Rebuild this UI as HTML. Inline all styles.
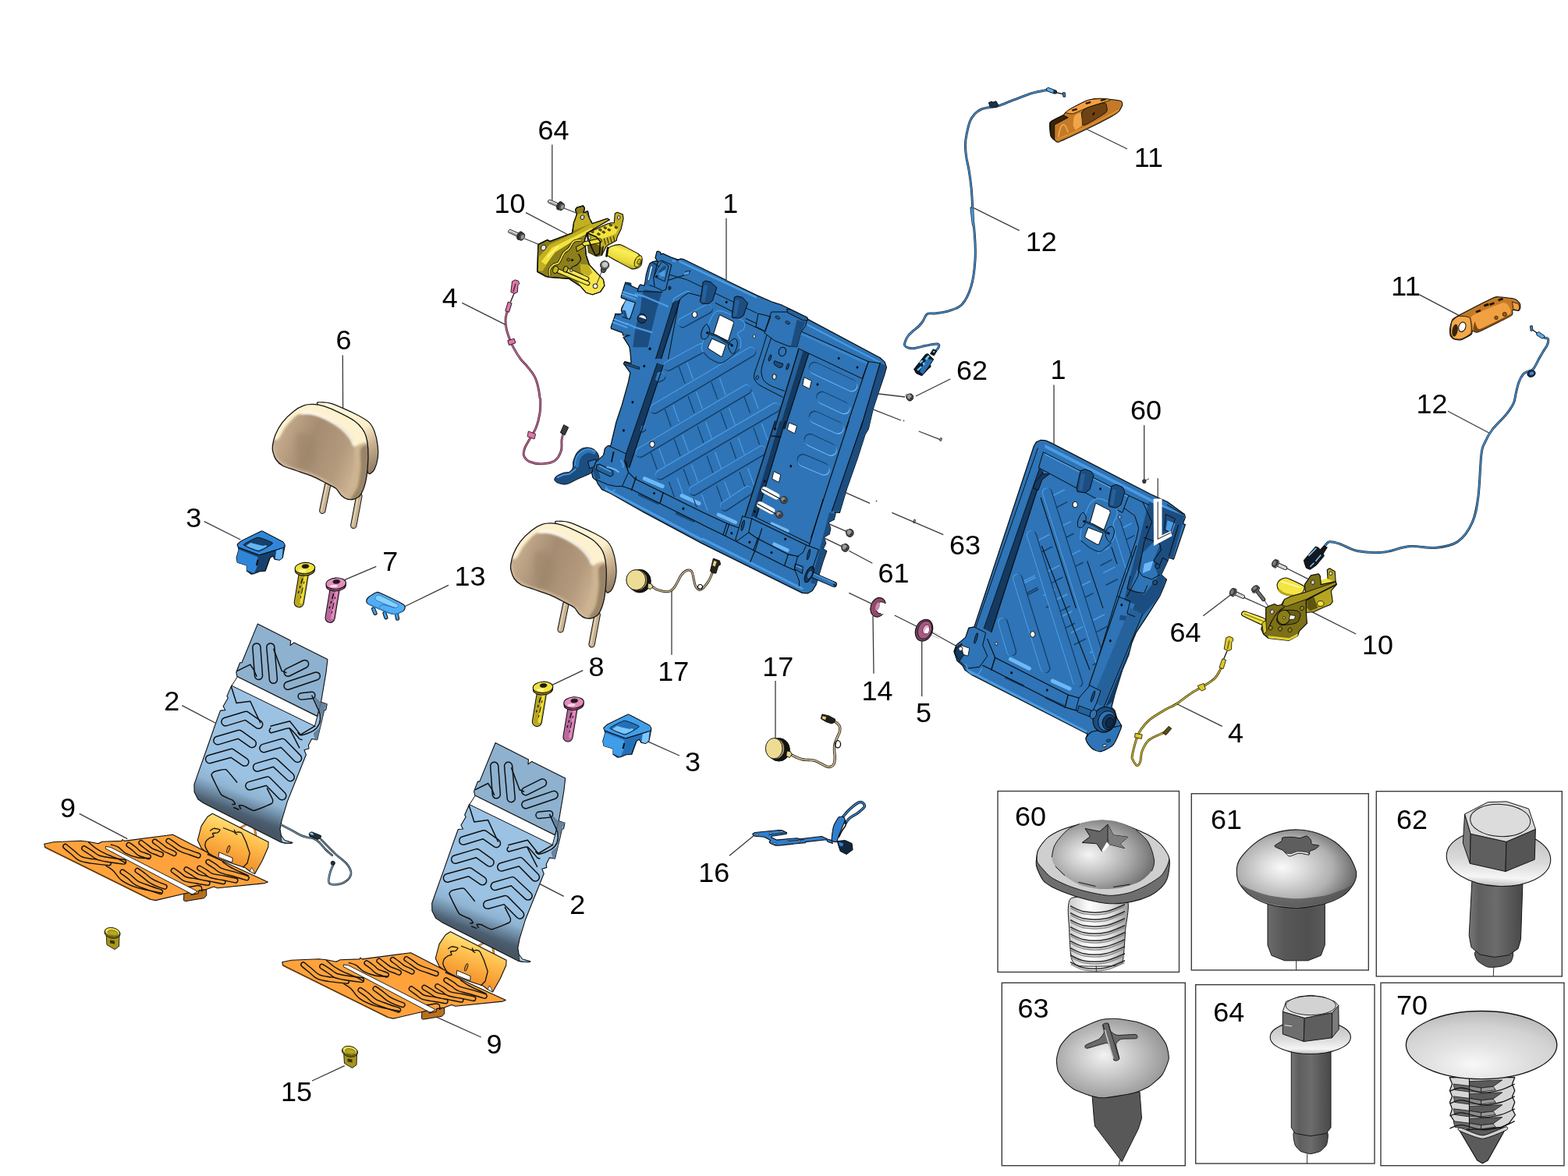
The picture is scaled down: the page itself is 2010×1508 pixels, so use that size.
<!DOCTYPE html>
<html lang="en"><head><meta charset="utf-8"><title>Rear seat frame and fittings</title>
<style>html,body{margin:0;padding:0;background:#fff}body{width:2010px;height:1508px;overflow:hidden}svg{display:block}.lb{font-family:"Liberation Sans",Arial,Helvetica,sans-serif;font-size:34.6px;fill:#000;text-anchor:middle}.ld{stroke:#3a3a3a;stroke-width:1.3;fill:none;stroke-linecap:butt}.bx{fill:#fff;stroke:#3c3c3c;stroke-width:1.4}.k{stroke:#111;stroke-width:1;fill:none;stroke-linejoin:round;stroke-linecap:round}</style></head><body>
<svg width="2010" height="1508" viewBox="0 0 2010 1508">
<rect width="2010" height="1508" fill="#fff"/>
<g id="boxes">
<rect class="bx" x="1279" y="1014.5" width="232.5" height="232"/>
<rect class="bx" x="1527.3" y="1017.7" width="227" height="226.3"/>
<rect class="bx" x="1764.3" y="1014.7" width="238" height="237.3"/>
<rect class="bx" x="1284.3" y="1260.3" width="235" height="234.4"/>
<rect class="bx" x="1532.7" y="1262.7" width="229.3" height="229.3"/>
<rect class="bx" x="1770" y="1260.3" width="235" height="234.4"/>
</g>
<!-- frame1 -->
<path d="M711 613.7 C711.4 612.6 711.9 611.4 713.9 610.2 C715.9 608.9 720.2 607 722.9 606.2 C725.5 605.4 727.9 606.3 729.9 605.2 C731.8 604.1 733.5 602 734.3 599.7 C735.2 597.5 734.1 594.8 734.8 591.8 C735.6 588.8 737.2 584.5 738.8 581.8 C740.5 579.2 742.5 577.2 744.8 575.9 C747.1 574.5 750.1 573.9 752.7 573.9 C755.4 573.9 758.5 574.7 760.7 575.9 C762.9 577 764.5 579 765.7 580.8 C766.8 582.7 768 585 767.7 586.8 C767.3 588.6 765 590.1 763.7 591.8 C762.4 593.4 760.4 594.8 759.7 596.8 C759 598.7 760.4 601.9 759.7 603.7 C759 605.5 758.7 606 755.7 607.7 C752.7 609.3 746.1 611.7 741.8 613.7 C737.5 615.6 733 618.4 729.9 619.6 C726.7 620.9 725.4 621.2 722.9 621.1 C720.4 621 716.8 619.9 714.9 619.1 C713 618.4 712.1 617.6 711.4 616.6 C710.8 615.7 710.5 614.7 711 613.7Z" fill="#1c4d80" stroke="#0b0b0b" stroke-width="1"/>
<path d="M739.8 597.8 C740.1 596.1 740.5 590.6 741.8 587.8 C743.1 585 745.4 582.4 747.8 580.8 C750.1 579.3 753.4 578.4 755.7 578.4 C758 578.4 760.7 580.4 761.7 580.8" fill="none" stroke="#2e74b6" stroke-width="4" stroke-linecap="round"/>
<path d="M736.8 596.8 C737.2 594.9 737.8 588.8 739.3 585.8 C740.8 582.8 743.2 580.5 745.8 578.9 C748.3 577.2 751.9 575.7 754.7 575.7 C757.6 575.7 761.4 578.3 762.7 578.9" fill="none" stroke="#4b9be2" stroke-width="1.6" stroke-linecap="round"/>
<path d="M714.9 612.2 C716.3 611.6 720.4 609.4 722.9 608.7 C725.4 607.9 727.4 608.9 729.9 607.7 C732.3 606.5 736.5 602.7 737.8 601.7" fill="none" stroke="#4b9be2" stroke-width="1.8" stroke-linecap="round"/>
<path d="M753.7 591.8 L763.7 588.8 L765.7 596.8 L755.7 600.7Z" fill="#2e74b6" stroke="#0b0b0b" stroke-width="1"/>
<path d="M842 322.7 L844 322.2 L846.8 323.5 L847 326.3 L849.6 325.1 L860 329.9 L869.5 333.1 L872.7 331.9 L875.9 332.3 L930 358.7 L931.2 359.7 L970 378.6 L988.9 386.7 L995.8 389.1 L1000.8 390.5 L1034.6 407 L1035.6 409.4 L1128.2 458.8 L1134.1 464.1 L1136.5 471.1 L1134.1 479.1 L1134.1 479.6 L1126.1 503.4 L1119.2 524.3 L1113.2 550 L1109.1 556.9 L1099.2 587.8 L1085.2 627.5 L1077.3 654.4 L1076.3 657.4 L1070.3 656.9 L1071.1 658.9 L1069.2 666.1 L1062.2 669.8 L1064.7 677.8 L1063.2 684.8 L1056.2 688.9 L1058.7 696.7 L1055.2 703.7 L1059.7 706.8 L1055.2 719.6 L1049.2 739.5 L1046.3 749.4 L1041.3 757.4 L1035.3 760.9 L1028.4 760.4 L900 696.9 L824.4 656.4 L782.6 632.8 L771.6 627.6 L766.2 620.1 L764.7 616.6 L759.7 611.7 L758.7 606.7 L763.7 592.8 L773.6 583.8 L775.6 574.9 L779.6 571.4 L782.6 572.1 L790 541 L797.2 519.5 L805.5 489.7 L807.9 477.8 L799.5 466.4 L800.8 463.7 L809.1 465.8 L807.9 451.5 L806.7 444.3 L799 432.4 L807.4 430 L798.7 430 L797.9 426.6 L783.5 421.4 L783.1 419.8 L788.3 404.7 L788.7 402.3 L793.9 402.7 L797.9 401.5 L796.3 398.3 L797.1 394.4 L801.8 386.4 L803.4 384.4 L796.3 381.6 L796.3 380 L800.6 365.7 L801.8 362.1 L808.6 363.3 L809 366.5 L817.8 370.5 L819.4 366.5 L821 364.9 L825.7 366.5 L826.9 361.7 L828.5 351.4 L830.5 344.2 L832.9 337.9 L836.1 335.9 L840 334.7 L843.2 335.5 L841.6 333.1 L840 330.7Z" fill="#2e74b6" stroke="#0b0b0b" stroke-width="1.2" stroke-linejoin="round"/>
<clipPath id="f1c"><path d="M842 322.7 L844 322.2 L846.8 323.5 L847 326.3 L849.6 325.1 L860 329.9 L869.5 333.1 L872.7 331.9 L875.9 332.3 L930 358.7 L931.2 359.7 L970 378.6 L988.9 386.7 L995.8 389.1 L1000.8 390.5 L1034.6 407 L1035.6 409.4 L1128.2 458.8 L1134.1 464.1 L1136.5 471.1 L1134.1 479.1 L1134.1 479.6 L1126.1 503.4 L1119.2 524.3 L1113.2 550 L1109.1 556.9 L1099.2 587.8 L1085.2 627.5 L1077.3 654.4 L1076.3 657.4 L1070.3 656.9 L1071.1 658.9 L1069.2 666.1 L1062.2 669.8 L1064.7 677.8 L1063.2 684.8 L1056.2 688.9 L1058.7 696.7 L1055.2 703.7 L1059.7 706.8 L1055.2 719.6 L1049.2 739.5 L1046.3 749.4 L1041.3 757.4 L1035.3 760.9 L1028.4 760.4 L900 696.9 L824.4 656.4 L782.6 632.8 L771.6 627.6 L766.2 620.1 L764.7 616.6 L759.7 611.7 L758.7 606.7 L763.7 592.8 L773.6 583.8 L775.6 574.9 L779.6 571.4 L782.6 572.1 L790 541 L797.2 519.5 L805.5 489.7 L807.9 477.8 L799.5 466.4 L800.8 463.7 L809.1 465.8 L807.9 451.5 L806.7 444.3 L799 432.4 L807.4 430 L798.7 430 L797.9 426.6 L783.5 421.4 L783.1 419.8 L788.3 404.7 L788.7 402.3 L793.9 402.7 L797.9 401.5 L796.3 398.3 L797.1 394.4 L801.8 386.4 L803.4 384.4 L796.3 381.6 L796.3 380 L800.6 365.7 L801.8 362.1 L808.6 363.3 L809 366.5 L817.8 370.5 L819.4 366.5 L821 364.9 L825.7 366.5 L826.9 361.7 L828.5 351.4 L830.5 344.2 L832.9 337.9 L836.1 335.9 L840 334.7 L843.2 335.5 L841.6 333.1 L840 330.7Z"/></clipPath>
<g clip-path="url(#f1c)">
<path d="M825.7 371.3 L848.8 374.5 L846.4 381.6 L841.6 397.5 L837.7 413.4 L833.7 430 L830.5 445.3 L811.4 445.3 L813 430 L816.2 413.4 L821 397.5 L822.5 381.6Z" fill="#1c4d80"/>
<path d="M801.8 384.8 L813.4 388.4 L808.2 405.5 L805 409.5 L800.2 405.9 L797.5 397.5Z" fill="#6db8f7"/>
<path d="M797.5 397.5 L801.8 398.3 L805 409.5 L800.2 405.9Z" fill="#1c4d80"/>
<path d="M833.7 337.1 L843.2 336.3 L840.9 343.4 L832.1 360.9 L830.5 365.7 L826.9 364.9 L828.9 351.4Z" fill="#25629c"/>
<path d="M834.5 341.8 L836.1 341.4 L831.7 359.3 L830.7 358.9Z" fill="#fff"/>
<line x1="797.5" y1="377.2" x2="814.6" y2="383.6" stroke="#4b9be2" stroke-width="2.4" stroke-linecap="round"/>
<line x1="814.6" y1="376.8" x2="825.7" y2="380" stroke="#4b9be2" stroke-width="2.4" stroke-linecap="round"/>
<line x1="825.7" y1="380" x2="856" y2="392.8" stroke="#4b9be2" stroke-width="2.4" stroke-linecap="round"/>
<line x1="784.3" y1="412.6" x2="803.4" y2="419.8" stroke="#4b9be2" stroke-width="2.4" stroke-linecap="round"/>
<line x1="803.4" y1="415" x2="814.6" y2="419.8" stroke="#4b9be2" stroke-width="2.4" stroke-linecap="round"/>
<line x1="814.6" y1="419.8" x2="835.3" y2="426.2" stroke="#4b9be2" stroke-width="2.4" stroke-linecap="round"/>
<line x1="797.1" y1="373.7" x2="817" y2="380" stroke="#6db8f7" stroke-width="1.4" stroke-linecap="round"/>
<line x1="785.9" y1="408.7" x2="804.2" y2="415.8" stroke="#6db8f7" stroke-width="1.4" stroke-linecap="round"/>
<path d="M863.5 386.6 L871.5 384.6 L847.6 460 L840.6 460Z" fill="#143a62"/>
<path d="M842.5 465.8 L850.3 468.2 L806.7 599.5 L797.2 597.1Z" fill="#143a62"/>
<path d="M870.5 333.5 L970 380 L970 383.1 L870.5 336.5Z" fill="#4b9be2"/>
<path d="M1034.6 414.9 L1128.1 463.7 L1128.1 466.1 L1034.6 417.4Z" fill="#4b9be2"/>
<path d="M1026.6 425.9 L1113.2 464.7 L1113.2 468.6 L1026.6 429.3Z" fill="#3a86cc"/>
<path d="M1128.1 465.6 L1136.1 469.6 L1113.2 550 L1103.2 550Z" fill="#1c4d80"/>
<path d="M1106.1 540 L1116.1 540 L1077.3 655.4 L1066.3 655.4Z" fill="#1c4d80"/>
<path d="M1063.2 656.9 L1072.1 658.9 L1047.3 749.4 L1039.3 747.4Z" fill="#1c4d80"/>
<path d="M1024.1 446.8 L1036.6 453.7 L1005.7 550 L992.8 550Z" fill="#25629c"/>
<path d="M993.7 540 L1006.6 540 L969.8 662.4 L954.9 662.4Z" fill="#25629c"/>
<path d="M1029.6 449.7 L1036.6 453.7 L1005.7 550 L998.8 550Z" fill="#143a62"/>
<path d="M999.6 540 L1006.6 540 L969.8 662.4 L962.8 662.4Z" fill="#143a62"/>
<line x1="826.4" y1="613.7" x2="849.2" y2="623.6" stroke="#6db8f7" stroke-width="5" stroke-linecap="round"/>
<line x1="874.1" y1="635.5" x2="896" y2="645.5" stroke="#6db8f7" stroke-width="5" stroke-linecap="round"/>
<line x1="920.9" y1="659.9" x2="942.8" y2="669.8" stroke="#6db8f7" stroke-width="4.5" stroke-linecap="round"/>
<line x1="989.5" y1="671.8" x2="1009.5" y2="680.8" stroke="#6db8f7" stroke-width="4.5" stroke-linecap="round"/>
<line x1="992.5" y1="697.7" x2="1009.5" y2="705.6" stroke="#6db8f7" stroke-width="4.5" stroke-linecap="round"/>
<line x1="819.4" y1="634.5" x2="843.3" y2="645.5" stroke="#143a62" stroke-width="3" stroke-linecap="round" opacity="0.7"/>
<line x1="867.2" y1="658.4" x2="889" y2="668.4" stroke="#143a62" stroke-width="3" stroke-linecap="round" opacity="0.7"/>
<line x1="775.6" y1="626.6" x2="900" y2="692.2" stroke="#4b9be2" stroke-width="3"/>
<line x1="900" y1="690.7" x2="1029.3" y2="755.4" stroke="#4b9be2" stroke-width="3"/>
</g>
<clipPath id="f1p"><path d="M870.5 385.6 L873.5 381.6 L882.4 375.6 L899.4 379.6 L970 414.4 L979.9 425.9 L1022.6 444.8 L991.8 550 L992.7 540 L953.9 663.3 L900 653.5 L813.4 613.7 L805.5 605.7 L802.5 591.8 L806.7 599.5Z"/></clipPath>
<g clip-path="url(#f1p)">
<line x1="880.7" y1="464.6" x2="888.5" y2="486.2" stroke="#4b9be2" stroke-width="1.3"/>
<line x1="870.2" y1="470" x2="878" y2="491.6" stroke="#143a62" stroke-width="1.1"/>
<line x1="862.8" y1="519.5" x2="870.6" y2="541.1" stroke="#4b9be2" stroke-width="1.3"/>
<line x1="852.3" y1="524.9" x2="860.1" y2="546.5" stroke="#143a62" stroke-width="1.1"/>
<line x1="892.7" y1="502.8" x2="900.5" y2="524.4" stroke="#4b9be2" stroke-width="1.3"/>
<line x1="882.2" y1="508.2" x2="890" y2="529.8" stroke="#143a62" stroke-width="1.1"/>
<line x1="922.5" y1="484.9" x2="930.3" y2="506.5" stroke="#4b9be2" stroke-width="1.3"/>
<line x1="912" y1="490.3" x2="919.8" y2="511.9" stroke="#143a62" stroke-width="1.1"/>
<line x1="844.9" y1="575" x2="852.7" y2="596.6" stroke="#4b9be2" stroke-width="1.3"/>
<line x1="834.4" y1="580.4" x2="842.2" y2="602" stroke="#143a62" stroke-width="1.1"/>
<line x1="874.8" y1="557.7" x2="882.6" y2="579.3" stroke="#4b9be2" stroke-width="1.3"/>
<line x1="864.3" y1="563.1" x2="872.1" y2="584.7" stroke="#143a62" stroke-width="1.1"/>
<line x1="904.6" y1="541" x2="912.4" y2="562.6" stroke="#4b9be2" stroke-width="1.3"/>
<line x1="894.1" y1="546.4" x2="901.9" y2="568" stroke="#143a62" stroke-width="1.1"/>
<line x1="934.5" y1="523.1" x2="942.3" y2="544.7" stroke="#4b9be2" stroke-width="1.3"/>
<line x1="924" y1="528.5" x2="931.8" y2="550.1" stroke="#143a62" stroke-width="1.1"/>
<line x1="964.3" y1="502.8" x2="972.1" y2="524.4" stroke="#4b9be2" stroke-width="1.3"/>
<line x1="953.8" y1="508.2" x2="961.6" y2="529.8" stroke="#143a62" stroke-width="1.1"/>
<line x1="886.7" y1="595.9" x2="894.5" y2="617.5" stroke="#4b9be2" stroke-width="1.3"/>
<line x1="876.2" y1="601.3" x2="884" y2="622.9" stroke="#143a62" stroke-width="1.1"/>
<line x1="916.6" y1="579.2" x2="924.4" y2="600.8" stroke="#4b9be2" stroke-width="1.3"/>
<line x1="906.1" y1="584.6" x2="913.9" y2="606.2" stroke="#143a62" stroke-width="1.1"/>
<line x1="946.4" y1="561.3" x2="954.2" y2="582.9" stroke="#4b9be2" stroke-width="1.3"/>
<line x1="935.9" y1="566.7" x2="943.7" y2="588.3" stroke="#143a62" stroke-width="1.1"/>
<line x1="928.9" y1="617.4" x2="936.7" y2="639" stroke="#4b9be2" stroke-width="1.3"/>
<line x1="918.4" y1="622.8" x2="926.2" y2="644.4" stroke="#143a62" stroke-width="1.1"/>
<line x1="899.5" y1="634" x2="907.3" y2="655.6" stroke="#4b9be2" stroke-width="1.3"/>
<line x1="889" y1="639.4" x2="896.8" y2="661" stroke="#143a62" stroke-width="1.1"/>
<line x1="958.5" y1="600" x2="966.3" y2="621.6" stroke="#4b9be2" stroke-width="1.3"/>
<line x1="948" y1="605.4" x2="955.8" y2="627" stroke="#143a62" stroke-width="1.1"/>
<line x1="868" y1="612.5" x2="875.8" y2="634.1" stroke="#4b9be2" stroke-width="1.3"/>
<line x1="857.5" y1="617.9" x2="865.3" y2="639.5" stroke="#143a62" stroke-width="1.1"/>
<line x1="976.4" y1="543" x2="984.2" y2="564.6" stroke="#4b9be2" stroke-width="1.3"/>
<line x1="965.9" y1="548.4" x2="973.7" y2="570" stroke="#143a62" stroke-width="1.1"/>
<line x1="875.3" y1="414.8" x2="908.1" y2="396.9" stroke="#143a62" stroke-width="11.2" stroke-linecap="round"/>
<line x1="874.4" y1="413" x2="907.2" y2="395.1" stroke="#4b9be2" stroke-width="11.2" stroke-linecap="round"/>
<line x1="874.8" y1="413.8" x2="907.6" y2="395.9" stroke="#2e74b6" stroke-width="10.6" stroke-linecap="round"/>
<line x1="856.8" y1="470.4" x2="899.5" y2="447.5" stroke="#143a62" stroke-width="11.2" stroke-linecap="round"/>
<line x1="855.9" y1="468.6" x2="898.6" y2="445.7" stroke="#4b9be2" stroke-width="11.2" stroke-linecap="round"/>
<line x1="856.3" y1="469.4" x2="899" y2="446.5" stroke="#2e74b6" stroke-width="10.6" stroke-linecap="round"/>
<line x1="839.5" y1="525.3" x2="963.6" y2="451.9" stroke="#143a62" stroke-width="11.2" stroke-linecap="round"/>
<line x1="838.6" y1="523.5" x2="962.7" y2="450.1" stroke="#4b9be2" stroke-width="11.2" stroke-linecap="round"/>
<line x1="839" y1="524.3" x2="963.1" y2="450.9" stroke="#2e74b6" stroke-width="10.6" stroke-linecap="round"/>
<line x1="820.9" y1="581.4" x2="957.7" y2="500.2" stroke="#143a62" stroke-width="11.2" stroke-linecap="round"/>
<line x1="820" y1="579.6" x2="956.8" y2="498.4" stroke="#4b9be2" stroke-width="11.2" stroke-linecap="round"/>
<line x1="820.4" y1="580.4" x2="957.2" y2="499.2" stroke="#2e74b6" stroke-width="10.6" stroke-linecap="round"/>
<line x1="846.6" y1="610" x2="994.5" y2="523.5" stroke="#143a62" stroke-width="11.2" stroke-linecap="round"/>
<line x1="845.7" y1="608.2" x2="993.6" y2="521.7" stroke="#4b9be2" stroke-width="11.2" stroke-linecap="round"/>
<line x1="846.1" y1="609" x2="994" y2="522.5" stroke="#2e74b6" stroke-width="10.6" stroke-linecap="round"/>
<line x1="889.6" y1="630.3" x2="977.1" y2="578.6" stroke="#143a62" stroke-width="11.2" stroke-linecap="round"/>
<line x1="888.7" y1="628.5" x2="976.2" y2="576.8" stroke="#4b9be2" stroke-width="11.2" stroke-linecap="round"/>
<line x1="889.1" y1="629.3" x2="976.6" y2="577.6" stroke="#2e74b6" stroke-width="10.6" stroke-linecap="round"/>
<line x1="929.4" y1="650.2" x2="959.2" y2="630.3" stroke="#143a62" stroke-width="11.2" stroke-linecap="round"/>
<line x1="928.5" y1="648.4" x2="958.3" y2="628.5" stroke="#4b9be2" stroke-width="11.2" stroke-linecap="round"/>
<line x1="928.9" y1="649.2" x2="958.7" y2="629.3" stroke="#2e74b6" stroke-width="10.6" stroke-linecap="round"/>
<line x1="844.8" y1="485.3" x2="848.4" y2="483.5" stroke="#143a62" stroke-width="10" stroke-linecap="round"/>
<line x1="843.9" y1="483.5" x2="847.5" y2="481.7" stroke="#4b9be2" stroke-width="10" stroke-linecap="round"/>
<line x1="844.3" y1="484.3" x2="847.9" y2="482.5" stroke="#2e74b6" stroke-width="9.4" stroke-linecap="round"/>
<line x1="823.3" y1="551.6" x2="825.1" y2="550.6" stroke="#143a62" stroke-width="6" stroke-linecap="round"/>
<line x1="822.4" y1="549.8" x2="824.2" y2="548.8" stroke="#4b9be2" stroke-width="6" stroke-linecap="round"/>
<line x1="822.8" y1="550.6" x2="824.6" y2="549.6" stroke="#2e74b6" stroke-width="5.4" stroke-linecap="round"/>
</g>
<line x1="1044" y1="471.2" x2="1091" y2="493.2" stroke="#143a62" stroke-width="14.5" stroke-linecap="round"/>
<line x1="1045" y1="473.3" x2="1092" y2="495.3" stroke="#6db8f7" stroke-width="14.5" stroke-linecap="round"/>
<line x1="1044.5" y1="472.2" x2="1091.5" y2="494.2" stroke="#2e74b6" stroke-width="14.1" stroke-linecap="round"/>
<line x1="1053.5" y1="509" x2="1081.5" y2="522" stroke="#143a62" stroke-width="14.5" stroke-linecap="round"/>
<line x1="1054.5" y1="511.1" x2="1082.5" y2="524.1" stroke="#6db8f7" stroke-width="14.5" stroke-linecap="round"/>
<line x1="1054" y1="510" x2="1082" y2="523" stroke="#2e74b6" stroke-width="14.1" stroke-linecap="round"/>
<line x1="1044" y1="534" x2="1073.5" y2="547.5" stroke="#143a62" stroke-width="14.5" stroke-linecap="round"/>
<line x1="1045" y1="536.1" x2="1074.5" y2="549.6" stroke="#6db8f7" stroke-width="14.5" stroke-linecap="round"/>
<line x1="1044.5" y1="535" x2="1074" y2="548.5" stroke="#2e74b6" stroke-width="14.1" stroke-linecap="round"/>
<line x1="1038" y1="563.2" x2="1064.5" y2="575.5" stroke="#143a62" stroke-width="14.5" stroke-linecap="round"/>
<line x1="1039" y1="565.3" x2="1065.5" y2="577.6" stroke="#6db8f7" stroke-width="14.5" stroke-linecap="round"/>
<line x1="1038.5" y1="564.2" x2="1065" y2="576.5" stroke="#2e74b6" stroke-width="14.1" stroke-linecap="round"/>
<line x1="1029" y1="589.2" x2="1055.5" y2="600.5" stroke="#143a62" stroke-width="14.5" stroke-linecap="round"/>
<line x1="1030" y1="591.3" x2="1056.5" y2="602.6" stroke="#6db8f7" stroke-width="14.5" stroke-linecap="round"/>
<line x1="1029.5" y1="590.2" x2="1056" y2="601.5" stroke="#2e74b6" stroke-width="14.1" stroke-linecap="round"/>
<path d="M871.5 384.6 L847.6 460" fill="none" stroke="#0b0b0b" stroke-width="1.1" stroke-linecap="round" stroke-linejoin="round"/>
<path d="M850.3 468.2 L806.7 599.5" fill="none" stroke="#0b0b0b" stroke-width="1.1" stroke-linecap="round" stroke-linejoin="round"/>
<path d="M863.5 386.6 L840.6 460" fill="none" stroke="#0b0b0b" stroke-width="0.9" stroke-linecap="round" stroke-linejoin="round"/>
<path d="M842.5 465.8 L797.2 597.1" fill="none" stroke="#0b0b0b" stroke-width="0.9" stroke-linecap="round" stroke-linejoin="round"/>
<path d="M856.6 460 L870.5 385.6 L873.5 381.6 L882.4 375.6 L897.4 379.6" fill="none" stroke="#0b0b0b" stroke-width="1.0" stroke-linecap="round" stroke-linejoin="round"/>
<path d="M862.5 387.6 C862.9 386.8 862.9 384.3 864.5 382.6 C866.2 381 869.8 379.1 872.5 377.6 C875.1 376.1 878.5 374.2 880.5 373.7 C882.4 373.2 883.8 374.5 884.4 374.7" fill="none" stroke="#4b9be2" stroke-width="1.6"/>
<path d="M917.3 388.6 L939.1 399.5" fill="none" stroke="#0b0b0b" stroke-width="1" stroke-linecap="round" stroke-linejoin="round"/>
<path d="M956.1 408.5 L970 414.9" fill="none" stroke="#0b0b0b" stroke-width="1" stroke-linecap="round" stroke-linejoin="round"/>
<path d="M950 410.9 L979.9 424.9" fill="none" stroke="#0b0b0b" stroke-width="1" stroke-linecap="round" stroke-linejoin="round"/>
<path d="M1025.6 447.8 L1105.2 485.5 L1113.2 463.7" fill="none" stroke="#0b0b0b" stroke-width="1" stroke-linecap="round" stroke-linejoin="round"/>
<path d="M1026.6 424.9 L1113.2 463.7 L1128.1 465.6" fill="none" stroke="#0b0b0b" stroke-width="1" stroke-linecap="round" stroke-linejoin="round"/>
<path d="M856.6 351.8 L880.5 358.7 L970 401.5" fill="none" stroke="#0b0b0b" stroke-width="0.9" stroke-linecap="round" stroke-linejoin="round"/>
<path d="M1024.1 446.8 L992.8 550" fill="none" stroke="#0b0b0b" stroke-width="1.3" stroke-linecap="round" stroke-linejoin="round"/>
<path d="M1036.6 453.7 L1005.7 550" fill="none" stroke="#0b0b0b" stroke-width="1.1" stroke-linecap="round" stroke-linejoin="round"/>
<path d="M993.7 540 L954.9 662.4" fill="none" stroke="#0b0b0b" stroke-width="1.3" stroke-linecap="round" stroke-linejoin="round"/>
<path d="M1006.6 540 L969.8 662.4" fill="none" stroke="#0b0b0b" stroke-width="1.1" stroke-linecap="round" stroke-linejoin="round"/>
<path d="M988.7 558.9 L1000.6 560.4" fill="none" stroke="#0b0b0b" stroke-width="1.2" stroke-linecap="round" stroke-linejoin="round"/>
<path d="M1113.2 463.7 L1084.3 550" fill="none" stroke="#0b0b0b" stroke-width="1.1" stroke-linecap="round" stroke-linejoin="round"/>
<path d="M1088.2 540 L1039.5 690" fill="none" stroke="#0b0b0b" stroke-width="1.1" stroke-linecap="round" stroke-linejoin="round"/>
<path d="M1055.2 640 L1037.3 699.7" fill="none" stroke="#0b0b0b" stroke-width="1.1" stroke-linecap="round" stroke-linejoin="round"/>
<path d="M1128.1 465.6 L1103.2 550" fill="none" stroke="#0b0b0b" stroke-width="1.1" stroke-linecap="round" stroke-linejoin="round"/>
<path d="M1106.1 540 L1066.3 655.4" fill="none" stroke="#0b0b0b" stroke-width="1.1" stroke-linecap="round" stroke-linejoin="round"/>
<path d="M802.5 591.8 L805.5 605.7 L813.4 613.7 L900 656.4" fill="none" stroke="#0b0b0b" stroke-width="1.1" stroke-linecap="round" stroke-linejoin="round"/>
<path d="M900 656.4 L932.8 671.8 L946.8 676.8" fill="none" stroke="#0b0b0b" stroke-width="1.1" stroke-linecap="round" stroke-linejoin="round"/>
<path d="M797.5 623.6 L809.5 627.6 L900 672.4" fill="none" stroke="#0b0b0b" stroke-width="1.1" stroke-linecap="round" stroke-linejoin="round"/>
<path d="M900 672.8 L928.9 686.8 L965.7 705.6 L1005.5 725.5 L1019.4 731.5" fill="none" stroke="#0b0b0b" stroke-width="1.1" stroke-linecap="round" stroke-linejoin="round"/>
<path d="M963.7 664.9 L1033.3 698.7 L1049.2 704.7" fill="none" stroke="#0b0b0b" stroke-width="1.1" stroke-linecap="round" stroke-linejoin="round"/>
<path d="M959.7 682.8 L969.6 689.7 L1009.5 710.6 L1023.4 713.6" fill="none" stroke="#0b0b0b" stroke-width="1.1" stroke-linecap="round" stroke-linejoin="round"/>
<path d="M967.7 662.9 L1037.3 696.7" fill="none" stroke="#0b0b0b" stroke-width="1.0" stroke-linecap="round" stroke-linejoin="round"/>
<path d="M815.4 611.7 L809.5 628.6" fill="none" stroke="#0b0b0b" stroke-width="1.3" stroke-linecap="round" stroke-linejoin="round"/>
<path d="M850.2 631.6 L846.3 644.5" fill="none" stroke="#0b0b0b" stroke-width="1.3" stroke-linecap="round" stroke-linejoin="round"/>
<path d="M931.8 670.8 L926.9 685.8" fill="none" stroke="#0b0b0b" stroke-width="1.1" stroke-linecap="round" stroke-linejoin="round"/>
<path d="M934.8 671.8 L929.9 686.8" fill="none" stroke="#0b0b0b" stroke-width="1.1" stroke-linecap="round" stroke-linejoin="round"/>
<path d="M971.6 689.7 L965.7 705.6" fill="none" stroke="#0b0b0b" stroke-width="1.1" stroke-linecap="round" stroke-linejoin="round"/>
<path d="M1010.5 710.6 L1005.5 725.5" fill="none" stroke="#0b0b0b" stroke-width="1.1" stroke-linecap="round" stroke-linejoin="round"/>
<path d="M976.6 677.8 L968.7 703.7 L961.7 720.6" fill="none" stroke="#0b0b0b" stroke-width="1.1" stroke-linecap="round" stroke-linejoin="round"/>
<path d="M899.6 443.7 C900.7 438.5 907.2 418.7 909.6 412.8 C912 407 915.4 401.7 917.6 399.9 C919.7 398 921.5 397.7 925.5 398.9 C929.5 400.1 943.6 406.9 947.4 408.9 C951.3 410.8 953.6 412.1 954.4 413.8 C955.2 415.5 954.6 419.9 953.4 421.8 C952.2 423.6 946 425.9 945.4 427.8 C944.9 429.6 949 433 949.4 435.7 C949.8 438.4 950.4 444.5 948.4 447.6 C946.4 450.8 937.8 457.2 934.5 459.6 C931.2 462 926.8 465.5 923.5 465.5 C920.2 465.5 912.5 461.4 909.6 459.6 C906.7 457.7 903 453.7 901.6 451.6 C900.3 449.5 898.6 448.8 899.6 443.7Z" fill="#2e74b6" stroke="#4b9be2" stroke-width="1.2"/>
<path d="M901.6 451.6 C902.7 452.7 906.7 457.7 909.6 459.6 C912.5 461.4 920.2 465.5 923.5 465.5 C926.8 465.5 931.2 462 934.5 459.6 C937.8 457.2 946.6 449.2 948.4 447.6" fill="none" stroke="#143a62" stroke-width="1.4"/>
<path d="M922.5 403.7 L940 412.3 L940.5 414.3 L933.5 437.2 L914.6 428.2Z" fill="#ffffff" stroke="#0b0b0b" stroke-width="1" stroke-linejoin="round"/>
<path d="M912.6 434.2 L930.5 442.2 L925.5 457.4 L923.5 456.8 L908.1 447.1 L907.6 445.1Z" fill="#ffffff" stroke="#0b0b0b" stroke-width="1" stroke-linejoin="round"/>
<path d="M905.6 415.8 C906.9 415.5 907.9 418 908.6 419.8 C909.3 421.6 910.1 424.4 909.6 426.8 C909.1 429.1 907.1 432.4 905.6 433.7 C904.1 435 901.8 435.4 900.6 434.7 C899.5 434 898.7 431.9 898.7 429.7 C898.7 427.6 899.5 424.1 900.6 421.8 C901.8 419.5 904.3 416.1 905.6 415.8Z" fill="#2e74b6" stroke="#0b0b0b" stroke-width="1"/>
<path d="M942.4 434.2 C943.8 434.7 945.3 437.3 945.4 439.7 C945.6 442.1 944.4 446.3 943.4 448.6 C942.4 451 940.8 453.4 939.5 453.6 C938.1 453.8 936.5 451.6 935.5 449.6 C934.5 447.6 933.1 443.8 933.5 441.7 C933.8 439.5 936 437.9 937.5 436.7 C939 435.5 941.1 433.7 942.4 434.2Z" fill="#2e74b6" stroke="#0b0b0b" stroke-width="1"/>
<path d="M906.6 426.8 C908.8 427.5 915.7 429.4 919.5 431.2 C923.4 433.1 926.4 435.8 929.5 437.7 C932.6 439.6 936.6 441.8 938 442.7" fill="none" stroke="#0b0b0b" stroke-width="2.6"/>
<path d="M907.1 426.9 C909.2 427.7 915.8 429.6 919.5 431.4 C923.3 433.3 926.5 436 929.5 437.9 C932.5 439.7 936.1 441.7 937.5 442.5" fill="none" stroke="#2e74b6" stroke-width="0.9"/>
<circle cx="906.6" cy="426.8" r="1.5" fill="#0b0b0b"/>
<circle cx="938.5" cy="442.9" r="1.5" fill="#0b0b0b"/>
<ellipse cx="890.4" cy="403.4" rx="3.2" ry="3.8" fill="#ffffff" stroke="#0b0b0b" stroke-width="1"/>
<ellipse cx="836" cy="569.7" rx="3.2" ry="3.8" fill="#ffffff" stroke="#0b0b0b" stroke-width="1"/>
<ellipse cx="966.8" cy="431.2" rx="1.4" ry="2.2" fill="#ffffff" stroke="#0b0b0b" stroke-width="0.8"/>
<circle cx="822.9" cy="408.5" r="5.8" fill="#143a62" stroke="#0b0b0b" stroke-width="1"/>
<path d="M818.7 405.9 A5.8 5.8 0 0 1 828.5 409.5 Z" fill="#ffffff"/>
<ellipse cx="858.6" cy="369.7" rx="1.4" ry="1.7" fill="#0b0b0b"/>
<ellipse cx="833.2" cy="447.3" rx="1.4" ry="1.7" fill="#0b0b0b"/>
<ellipse cx="931.2" cy="387.4" rx="1.4" ry="1.7" fill="#0b0b0b"/>
<ellipse cx="833" cy="447.3" rx="1.4" ry="1.7" fill="#0b0b0b"/>
<ellipse cx="825.8" cy="469.4" rx="1.4" ry="1.7" fill="#0b0b0b"/>
<ellipse cx="810.9" cy="515.7" rx="1.4" ry="1.7" fill="#0b0b0b"/>
<ellipse cx="799.5" cy="552" rx="1.4" ry="1.7" fill="#0b0b0b"/>
<ellipse cx="989.3" cy="419.9" rx="1.4" ry="1.7" fill="#0b0b0b"/>
<ellipse cx="1007.5" cy="429.1" rx="1.4" ry="1.7" fill="#0b0b0b"/>
<ellipse cx="1075.2" cy="459.4" rx="1.4" ry="1.7" fill="#0b0b0b"/>
<ellipse cx="1099" cy="471.1" rx="1.4" ry="1.7" fill="#0b0b0b"/>
<ellipse cx="1048" cy="493" rx="1.4" ry="1.7" fill="#0b0b0b"/>
<ellipse cx="993.5" cy="550" rx="1.4" ry="1.7" fill="#0b0b0b"/>
<ellipse cx="1013.8" cy="597.7" rx="1.4" ry="1.7" fill="#0b0b0b"/>
<ellipse cx="980.2" cy="617.1" rx="1.4" ry="1.7" fill="#0b0b0b"/>
<ellipse cx="967.3" cy="655.9" rx="1.4" ry="1.7" fill="#0b0b0b"/>
<ellipse cx="838.5" cy="632.6" rx="1.4" ry="1.7" fill="#0b0b0b"/>
<ellipse cx="875.9" cy="652.2" rx="1.4" ry="1.7" fill="#0b0b0b"/>
<ellipse cx="937.8" cy="683.8" rx="1.4" ry="1.7" fill="#0b0b0b"/>
<ellipse cx="960.9" cy="695.3" rx="1.4" ry="1.7" fill="#0b0b0b"/>
<ellipse cx="989" cy="708.6" rx="1.4" ry="1.7" fill="#0b0b0b"/>
<ellipse cx="1006.7" cy="691.2" rx="1.4" ry="1.7" fill="#0b0b0b"/>
<path d="M1030.8 483.8 L1040.3 488.3 L1037.8 498.7 L1028.8 494.1Z" fill="#ffffff" stroke="#0b0b0b" stroke-width="0.9" stroke-linejoin="round"/>
<path d="M1011.6 542 L1021.5 546.2 L1018.8 555.9 L1009.1 551.1Z" fill="#ffffff" stroke="#0b0b0b" stroke-width="0.9" stroke-linejoin="round"/>
<path d="M991.9 604.5 L1000.9 608.8 L998.3 618.6 L989.7 614.1Z" fill="#ffffff" stroke="#0b0b0b" stroke-width="0.9" stroke-linejoin="round"/>
<line x1="980.2" y1="628.3" x2="995.2" y2="636.3" stroke="#ffffff" stroke-width="8.2" stroke-linecap="round"/>
<line x1="976.8" y1="627.1" x2="1001.1" y2="640.3" stroke="#0b0b0b" stroke-width="1.1"/>
<line x1="974.3" y1="647.2" x2="989.2" y2="655.2" stroke="#ffffff" stroke-width="8.2" stroke-linecap="round"/>
<line x1="970.8" y1="646" x2="995.2" y2="659.2" stroke="#0b0b0b" stroke-width="1.1"/>
<circle cx="1004.8" cy="641.2" r="4.6" fill="#4a4a4a" stroke="#222" stroke-width="0.8"/>
<circle cx="1003.8" cy="640" r="2.5" fill="#8c8c8c"/>
<circle cx="1005.4" cy="642" r="1.3" fill="#2a2a2a"/>
<circle cx="998.9" cy="659.9" r="4.6" fill="#4a4a4a" stroke="#222" stroke-width="0.8"/>
<circle cx="997.9" cy="658.7" r="2.5" fill="#8c8c8c"/>
<circle cx="999.5" cy="660.7" r="1.3" fill="#2a2a2a"/>
<path d="M901.3 361.7 L904.3 360.2 L911.3 361.7 L913.3 364.2 L918.8 368.7 L913.3 385.6 L908.3 389.6 L900.4 389.6 L897.4 386.6Z" fill="#1c4d80" stroke="#0b0b0b" stroke-width="1" stroke-linejoin="round"/>
<path d="M902.3 365.7 L907.3 365.7 L903.3 387.6 L899.4 386.6Z" fill="#25629c"/>
<path d="M941.6 381.1 L945.1 379.8 L952.1 381.6 L954.1 384.1 L958.6 388.6 L953.1 404.5 L948.1 408 L939.1 407.5 L938.2 404.5Z" fill="#1c4d80" stroke="#0b0b0b" stroke-width="1" stroke-linejoin="round"/>
<path d="M942.6 384.6 L948.1 385.1 L944.1 405.5 L940.1 405Z" fill="#25629c"/>
<path d="M988.8 400 L1013.7 400 L1026.6 407 L1034.6 409.4 L1032.6 417.9 L1026.6 425.9 L1021.6 444.8 L1010.7 443.8 L992.8 436.8 L979.9 426.9Z" fill="#2e74b6" stroke="#0b0b0b" stroke-width="1" stroke-linejoin="round"/>
<path d="M1021.6 409.9 L1032.6 412.9 L1026.6 425.9 L1021.6 444.8 L1013.7 444.3Z" fill="#1c4d80"/>
<path d="M1008.7 396 L1013.7 397 L1034.6 407 L1035.6 410.9 L1029.6 410.9 L1009.7 401Z" fill="#25629c" stroke="#0b0b0b" stroke-width="1"/>
<path d="M971.9 402 L987.8 406 L980.9 424.9 L968.9 418.9Z" fill="none" stroke="#0b0b0b" stroke-width="1" stroke-linejoin="round"/>
<ellipse cx="996.8" cy="407.2" rx="3" ry="1.6" transform="rotate(26 996.8 407.2)" fill="#25629c" stroke="#0b0b0b" stroke-width="0.8"/>
<ellipse cx="1009.7" cy="413.7" rx="3" ry="1.6" transform="rotate(26 1009.7 413.7)" fill="#25629c" stroke="#0b0b0b" stroke-width="0.8"/>
<path d="M982.8 429.8 C981.8 433.3 977 449.1 974.9 455.7 C972.8 462.3 967.8 475.3 966.9 479.6 C966 483.8 966.8 485.5 967.9 487.5 C969 489.5 970.1 491.6 974.9 494.5 C979.7 497.4 999.9 507.4 1003.7 509.4" fill="none" stroke="#0b0b0b" stroke-width="1"/>
<path d="M988.8 432.8 C987.6 436.4 981.6 454 979.9 459.7 C978.1 465.4 976 471.9 975.9 475.6 C975.7 479.3 977.3 485 978.9 487.5 C980.5 490 984.2 492.6 987.8 494.5 C991.4 496.4 1003.3 500.5 1005.7 501.5" fill="none" stroke="#0b0b0b" stroke-width="1"/>
<ellipse cx="1002.9" cy="450.9" rx="4.6" ry="5.8" transform="rotate(15 1002.9 450.9)" fill="none" stroke="#0b0b0b" stroke-width="1"/>
<ellipse cx="987" cy="458.9" rx="1.4" ry="4.2" transform="rotate(18 987 458.9)" fill="#1c4d80" stroke="#0b0b0b" stroke-width="0.8"/>
<ellipse cx="1009.7" cy="470.1" rx="1.4" ry="4.2" transform="rotate(18 1009.7 470.1)" fill="#1c4d80" stroke="#0b0b0b" stroke-width="0.8"/>
<path d="M992.8 462.7 L1003.7 466.6 L1002.7 470.6 L998.8 471.6 L993.8 468.6 L991.8 465.6Z" fill="#1c4d80" stroke="#0b0b0b" stroke-width="0.9" stroke-linejoin="round"/>
<ellipse cx="992.6" cy="483.1" rx="2.6" ry="3.4" fill="#ddd" stroke="#0b0b0b" stroke-width="1"/>
<ellipse cx="970.7" cy="484.1" rx="1.7" ry="2.4" transform="rotate(15 970.7 484.1)" fill="#2e74b6" stroke="#0b0b0b" stroke-width="0.8"/>
<path d="M779.6 571.4 L802.5 581.8 L800.5 591.8 L805.5 605.7 L797.5 623.6 L789.5 623.6 L779.6 621.6 L765.7 615.6 L760.7 613.7 L758.7 606.7 L763.7 592.8 L773.6 583.8 L775.6 574.9Z" fill="#2e74b6" stroke="#0b0b0b" stroke-width="1" stroke-linejoin="round"/>
<path d="M759.7 601.7 L765.7 596.8 L769.6 613.7 L763.7 614.7Z" fill="#1c4d80"/>
<line x1="765.7" y1="598.7" x2="783.6" y2="606.7" stroke="#2e74b6" stroke-width="5.6" stroke-linecap="round"/>
<line x1="765.7" y1="598.7" x2="783.6" y2="606.7" stroke="#0b0b0b" stroke-width="7" stroke-linecap="round" opacity="0"/>
<path d="M764.7 596.2 L768.7 595.3 L785.6 603.7 L786.1 608.7 L782.6 611.2 L764.7 602.7Z" fill="#25629c" stroke="#0b0b0b" stroke-width="1" stroke-linejoin="round"/>
<line x1="768.7" y1="597.8" x2="782.6" y2="604.5" stroke="#4b9be2" stroke-width="1.6" stroke-linecap="round"/>
<line x1="786.6" y1="579.8" x2="784.1" y2="591.8" stroke="#0b0b0b" stroke-width="1.8" stroke-linecap="round"/>
<line x1="787.4" y1="581.6" x2="785.2" y2="590.8" stroke="#2e74b6" stroke-width="0.6" stroke-linecap="round"/>
<path d="M777.6 598.7 C779.3 599.2 784.9 600.6 787.6 601.7 C790.2 602.9 792.5 605 793.5 605.7" fill="none" stroke="#6db8f7" stroke-width="2"/>
<path d="M795.5 589.8 C796 590.6 798 593.1 798.5 594.8 C799 596.4 798.5 598.9 798.5 599.7" fill="none" stroke="#4b9be2" stroke-width="2"/>
<path d="M776.6 623.6 C777.1 624.4 778.3 627.4 779.6 628.6 C780.9 629.7 783.1 630.7 784.6 630.6 C786.1 630.4 787.9 628.1 788.6 627.6" fill="none" stroke="#4b9be2" stroke-width="1.5"/>
<line x1="1037.3" y1="735.5" x2="1069.2" y2="749.4" stroke="#0b0b0b" stroke-width="7.4" stroke-linecap="round"/>
<line x1="1037.3" y1="735.5" x2="1069.2" y2="749.4" stroke="#2e74b6" stroke-width="5.4" stroke-linecap="round"/>
<line x1="1068.2" y1="749.4" x2="1072.1" y2="751.4" stroke="#0b0b0b" stroke-width="1.4"/>
<line x1="1039.3" y1="734" x2="1068.2" y2="746.9" stroke="#4b9be2" stroke-width="1.6" stroke-linecap="round"/>
<ellipse cx="1037.3" cy="736.5" rx="4.5" ry="11" transform="rotate(25 1037.3 736.5)" fill="#143a62" stroke="#0b0b0b" stroke-width="1"/>
<ellipse cx="1037.8" cy="736.7" rx="3" ry="6" transform="rotate(25 1037.8 736.7)" fill="#2e74b6" stroke="#0b0b0b" stroke-width="0.8"/>
<path d="M1019.4 723.1 L1029.3 726.5 L1028.4 735.5 L1018.4 729.5Z" fill="#25629c" stroke="#0b0b0b" stroke-width="1" stroke-linejoin="round"/>
<line x1="1020.4" y1="725.5" x2="1028.4" y2="729" stroke="#4b9be2" stroke-width="1.4"/>
<ellipse cx="1036.5" cy="711.1" rx="1.3" ry="7" transform="rotate(14 1036.5 711.1)" fill="#1c4d80" stroke="#0b0b0b" stroke-width="0.9"/>
<ellipse cx="952.2" cy="673.8" rx="1.5" ry="7" transform="rotate(14 952.2 673.8)" fill="#1c4d80" stroke="#0b0b0b" stroke-width="0.9"/>
<path d="M1033.3 699.7 L1029.3 708.6 L1022.4 713.6 L1018.4 729.5 L1024.4 744.4 L1024.4 751.4" fill="none" stroke="#0b0b0b" stroke-width="1" stroke-linecap="round" stroke-linejoin="round"/>
<path d="M1049.2 705.6 L1041.3 729.5" fill="none" stroke="#0b0b0b" stroke-width="1" stroke-linecap="round" stroke-linejoin="round"/>
<path d="M951.7 661.9 L963.7 664.9 L959.7 682.8 L944.8 693.7 L942.8 691.7" fill="none" stroke="#0b0b0b" stroke-width="1" stroke-linecap="round" stroke-linejoin="round"/>
<path d="M951.7 661.9 L942.8 691.7" fill="none" stroke="#0b0b0b" stroke-width="1" stroke-linecap="round" stroke-linejoin="round"/>
<path d="M800.1 464.6 L819.9 471.2 L819.2 473.6 L799.5 467Z" fill="#25629c" stroke="#0b0b0b" stroke-width="0.9"/>
<path d="M848 333.9 L860.8 339.4 L853.6 371.3 L849.6 372.9 L839.2 368.1 L837.7 356.1 L843.2 336.3Z" fill="#2e74b6" stroke="#0b0b0b" stroke-width="1" stroke-linejoin="round"/>
<path d="M848.8 335.5 L857.2 340.6 L852 360.9 L838.5 354.6 L843.2 343.4Z" fill="none" stroke="#0b0b0b" stroke-width="0.9" stroke-linejoin="round"/>
<path d="M844.8 350.2 L852.8 345.4 L852.4 354.6 L846.4 354.6Z" fill="#4b9be2"/>
<path d="M849.6 341.8 L854.4 340.2 L852.8 345.4 L844.8 350.2 L844 348.2Z" fill="#1c4d80"/>
<circle cx="842" cy="354.3" r="1.4" fill="#0b0b0b"/>
<path d="M830.5 365.7 L840 368.9 L849.6 372.9 L846.4 370.5 L833.7 364.9Z" fill="#143a62"/>
<path d="M832.9 337.9 L836.1 336.3 L844.8 341.8" fill="none" stroke="#0b0b0b" stroke-width="1.0" stroke-linecap="round" stroke-linejoin="round"/>
<path d="M856.8 359.3 L876.7 353 L883 351.4 L884.6 347.4 L879 348.2 L875.9 353" fill="none" stroke="#0b0b0b" stroke-width="1.0" stroke-linecap="round" stroke-linejoin="round"/>
<path d="M876.7 349.8 L883.8 347.4 L883 351.4 L876.7 353Z" fill="#4b9be2"/>
<path d="M817.8 370.5 L817 373.7 L848.8 374.5" fill="none" stroke="#0b0b0b" stroke-width="1.0" stroke-linecap="round" stroke-linejoin="round"/>
<path d="M809 366.5 L805 364.9 L801.8 362.1" fill="none" stroke="#0b0b0b" stroke-width="1.0" stroke-linecap="round" stroke-linejoin="round"/>
<path d="M801.4 362.1 L808.6 363.2 L808.9 365.7 L801.8 364.9Z" fill="#143a62"/>
<path d="M788.7 402.1 L793.9 402.7 L795.5 404.7 L789.1 404.3Z" fill="#143a62"/>
<path d="M803.4 384.4 L814.6 388 L807.4 409.5 L797.9 406.3" fill="none" stroke="#0b0b0b" stroke-width="1.0" stroke-linecap="round" stroke-linejoin="round"/>
<path d="M869.5 333.1 L863.9 335.5 L861.1 334.7" fill="none" stroke="#0b0b0b" stroke-width="1.0" stroke-linecap="round" stroke-linejoin="round"/>
<path d="M861.5 333.1 L867.9 333.9 L865.5 336.3 L860.8 335.5Z" fill="#4b9be2"/>
<ellipse cx="858.4" cy="369.3" rx="1.6" ry="2.2" fill="#143a62" stroke="#0b0b0b" stroke-width="0.8"/>
<!-- frame2 -->
<path d="M1325.4 571.8 L1328.4 566.9 L1334.3 564.3 L1340.3 564.9 L1347.3 567.9 L1474.6 633.5 L1496.5 643.5 L1518.4 659.4 L1519.4 663.3 L1516.4 671.3 L1519.4 672.9 L1504.5 717.1 L1498.5 715.1 L1496.5 720 L1488.6 737 L1495.5 743.3 L1492.5 750.9 L1486.6 764.8 L1468.7 792.6 L1456.7 810.6 L1450.8 824.5 L1446.8 840 L1438.8 859.1 L1428.9 891 L1424.9 906.9 L1428.9 910.9 L1431.8 920.8 L1437.8 930.8 L1432.8 942.7 L1424.9 956.6 L1411 963.6 L1401 960.6 L1394 952.6 L1392 946.7 L1394 941.1 L1245.8 865.5 L1236.8 859.1 L1233.8 853.2 L1226.9 847.2 L1222.9 835.3 L1225.9 827.3 L1237.8 817.4 L1241.8 805.4 L1248.8 803.9Z" fill="#2e74b6" stroke="#0b0b0b" stroke-width="1.2" stroke-linejoin="round"/>
<clipPath id="f2c"><path d="M1325.4 571.8 L1328.4 566.9 L1334.3 564.3 L1340.3 564.9 L1347.3 567.9 L1474.6 633.5 L1496.5 643.5 L1518.4 659.4 L1519.4 663.3 L1516.4 671.3 L1519.4 672.9 L1504.5 717.1 L1498.5 715.1 L1496.5 720 L1488.6 737 L1495.5 743.3 L1492.5 750.9 L1486.6 764.8 L1468.7 792.6 L1456.7 810.6 L1450.8 824.5 L1446.8 840 L1438.8 859.1 L1428.9 891 L1424.9 906.9 L1428.9 910.9 L1431.8 920.8 L1437.8 930.8 L1432.8 942.7 L1424.9 956.6 L1411 963.6 L1401 960.6 L1394 952.6 L1392 946.7 L1394 941.1 L1245.8 865.5 L1236.8 859.1 L1233.8 853.2 L1226.9 847.2 L1222.9 835.3 L1225.9 827.3 L1237.8 817.4 L1241.8 805.4 L1248.8 803.9Z"/></clipPath>
<g clip-path="url(#f2c)">
<path d="M1332.7 599.8 L1337.1 604.6 L1270.7 811 L1261.1 806Z" fill="#143a62"/>
<path d="M1339.3 569.8 L1518.4 661.4 L1518.4 665.3 L1339.3 574.2Z" fill="#4b9be2"/>
<path d="M1337.3 579.8 L1446.8 635.5 L1438.8 657.4 L1331.3 599.7Z" fill="#2e74b6" stroke="#0b0b0b" stroke-width="1"/>
<line x1="1339.3" y1="582.2" x2="1445.8" y2="636.7" stroke="#4b9be2" stroke-width="1.6"/>
<path d="M1472.6 643.5 L1518.4 661.4 L1502.5 719 L1486.6 764.8 L1456.7 798.6 L1434.8 794.6 L1458.7 699.1Z" fill="#1c4d80"/>
<path d="M1464.7 709.1 L1478.6 695.2 L1486.6 699.1 L1478.6 719 L1484.6 738.9 L1466.7 762.8 L1448.8 754.9Z" fill="#2e74b6"/>
<path d="M1466.7 723 L1478.6 719 L1474.6 731 L1464.7 735Z" fill="#6db8f7"/>
<path d="M1496.5 667.3 L1506.5 671.3 L1502.5 683.2 L1494.5 679.3Z" fill="#4b9be2"/>
<path d="M1428.9 764.8 L1454.7 774.8 L1448.8 790.7 L1424.9 786.7Z" fill="#2e74b6"/>
<path d="M1448.8 779.6 L1464.7 787.5 L1414.9 906.9 L1399 898.9Z" fill="#25629c"/>
<path d="M1456.7 811.4 L1464.7 799.5 L1426.9 898.9 L1416.9 906.9Z" fill="#143a62"/>
<line x1="1295.5" y1="845.2" x2="1319.4" y2="857.2" stroke="#6db8f7" stroke-width="5" stroke-linecap="round"/>
<line x1="1349.2" y1="873.1" x2="1371.1" y2="883" stroke="#6db8f7" stroke-width="5" stroke-linecap="round"/>
<line x1="1289.5" y1="869.1" x2="1311.4" y2="879" stroke="#143a62" stroke-width="3" stroke-linecap="round" opacity="0.7"/>
<line x1="1341.3" y1="895" x2="1363.2" y2="904.9" stroke="#143a62" stroke-width="3" stroke-linecap="round" opacity="0.7"/>
<line x1="1239.8" y1="859.1" x2="1393" y2="938.7" stroke="#4b9be2" stroke-width="3"/>
</g>
<clipPath id="f2p"><path d="M1331.5 628.5 L1337 618 L1346 610 L1438.8 657.4 L1454.7 667.3 L1458.7 679.3 L1454.7 697.2 L1456.7 700 L1396 879 L1385.1 881 L1275.6 843.2 L1271.5 811Z"/></clipPath>
<g clip-path="url(#f2p)">
<line x1="1349.5" y1="635.8" x2="1364.7" y2="628" stroke="#4b9be2" stroke-width="1.6"/>
<line x1="1353.1" y1="651.3" x2="1368.3" y2="643.5" stroke="#143a62" stroke-width="1.4"/>
<line x1="1357.9" y1="676.4" x2="1373" y2="668.6" stroke="#4b9be2" stroke-width="1.6"/>
<line x1="1361.5" y1="691.9" x2="1376.6" y2="684.1" stroke="#143a62" stroke-width="1.4"/>
<line x1="1369.8" y1="713.4" x2="1385" y2="705.6" stroke="#4b9be2" stroke-width="1.6"/>
<line x1="1373.4" y1="728.9" x2="1388.6" y2="721.1" stroke="#143a62" stroke-width="1.4"/>
<line x1="1383" y1="752.8" x2="1398.1" y2="745" stroke="#4b9be2" stroke-width="1.6"/>
<line x1="1386.6" y1="768.3" x2="1401.7" y2="760.5" stroke="#143a62" stroke-width="1.4"/>
<line x1="1330.5" y1="693.1" x2="1345.6" y2="685.3" stroke="#4b9be2" stroke-width="1.6"/>
<line x1="1334" y1="708.6" x2="1349.2" y2="700.8" stroke="#143a62" stroke-width="1.4"/>
<line x1="1343.6" y1="732.5" x2="1358.7" y2="724.7" stroke="#4b9be2" stroke-width="1.6"/>
<line x1="1347.2" y1="748" x2="1362.3" y2="740.2" stroke="#143a62" stroke-width="1.4"/>
<line x1="1353.1" y1="769.5" x2="1368.3" y2="761.7" stroke="#4b9be2" stroke-width="1.6"/>
<line x1="1356.7" y1="785" x2="1371.9" y2="777.2" stroke="#143a62" stroke-width="1.4"/>
<line x1="1312.5" y1="748" x2="1327.7" y2="740.2" stroke="#4b9be2" stroke-width="1.6"/>
<line x1="1316.1" y1="763.5" x2="1331.3" y2="755.7" stroke="#143a62" stroke-width="1.4"/>
<line x1="1414" y1="734.9" x2="1429.2" y2="727.1" stroke="#4b9be2" stroke-width="1.6"/>
<line x1="1417.6" y1="750.4" x2="1432.8" y2="742.6" stroke="#143a62" stroke-width="1.4"/>
<line x1="1406.9" y1="709.8" x2="1422" y2="702" stroke="#4b9be2" stroke-width="1.6"/>
<line x1="1410.5" y1="725.3" x2="1425.6" y2="717.5" stroke="#143a62" stroke-width="1.4"/>
<line x1="1435.5" y1="678.8" x2="1450.7" y2="671" stroke="#4b9be2" stroke-width="1.6"/>
<line x1="1439.1" y1="694.3" x2="1454.2" y2="686.5" stroke="#143a62" stroke-width="1.4"/>
<line x1="1311.4" y1="745.8" x2="1326.6" y2="737.9" stroke="#4b9be2" stroke-width="1.6"/>
<line x1="1315" y1="761.3" x2="1330.2" y2="753.4" stroke="#143a62" stroke-width="1.4"/>
<line x1="1337.3" y1="763.7" x2="1352.4" y2="755.8" stroke="#4b9be2" stroke-width="1.6"/>
<line x1="1340.9" y1="779.2" x2="1356" y2="771.3" stroke="#143a62" stroke-width="1.4"/>
<line x1="1359.2" y1="791.5" x2="1374.3" y2="783.7" stroke="#4b9be2" stroke-width="1.6"/>
<line x1="1362.8" y1="807" x2="1377.9" y2="799.2" stroke="#143a62" stroke-width="1.4"/>
<line x1="1373.1" y1="811.4" x2="1388.3" y2="803.6" stroke="#4b9be2" stroke-width="1.6"/>
<line x1="1376.7" y1="826.9" x2="1391.9" y2="819.1" stroke="#143a62" stroke-width="1.4"/>
<line x1="1397" y1="837.3" x2="1412.1" y2="829.4" stroke="#4b9be2" stroke-width="1.6"/>
<line x1="1400.6" y1="852.8" x2="1415.7" y2="844.9" stroke="#143a62" stroke-width="1.4"/>
<line x1="1401" y1="795.5" x2="1416.1" y2="787.7" stroke="#4b9be2" stroke-width="1.6"/>
<line x1="1404.6" y1="811" x2="1419.7" y2="803.2" stroke="#143a62" stroke-width="1.4"/>
<line x1="1418.9" y1="823.3" x2="1434" y2="815.5" stroke="#4b9be2" stroke-width="1.6"/>
<line x1="1422.5" y1="838.8" x2="1437.6" y2="831" stroke="#143a62" stroke-width="1.4"/>
<line x1="1286.5" y1="798.2" x2="1297.5" y2="835.5" stroke="#143a62" stroke-width="11.2" stroke-linecap="round"/>
<line x1="1284.6" y1="797.7" x2="1295.6" y2="835" stroke="#4b9be2" stroke-width="11.2" stroke-linecap="round"/>
<line x1="1285.5" y1="798" x2="1296.5" y2="835.3" stroke="#2e74b6" stroke-width="10.6" stroke-linecap="round"/>
<line x1="1305.5" y1="742.2" x2="1340.8" y2="857.4" stroke="#143a62" stroke-width="11.2" stroke-linecap="round"/>
<line x1="1303.6" y1="741.7" x2="1338.9" y2="856.9" stroke="#4b9be2" stroke-width="11.2" stroke-linecap="round"/>
<line x1="1304.5" y1="742" x2="1339.8" y2="857.2" stroke="#2e74b6" stroke-width="10.6" stroke-linecap="round"/>
<line x1="1323.4" y1="686.5" x2="1382.6" y2="875.7" stroke="#143a62" stroke-width="11.2" stroke-linecap="round"/>
<line x1="1321.5" y1="686" x2="1380.7" y2="875.2" stroke="#4b9be2" stroke-width="11.2" stroke-linecap="round"/>
<line x1="1322.4" y1="686.3" x2="1381.6" y2="875.5" stroke="#2e74b6" stroke-width="10.6" stroke-linecap="round"/>
<line x1="1343.3" y1="631.7" x2="1421" y2="878.2" stroke="#143a62" stroke-width="11.2" stroke-linecap="round"/>
<line x1="1341.4" y1="631.2" x2="1419.1" y2="877.7" stroke="#4b9be2" stroke-width="11.2" stroke-linecap="round"/>
<line x1="1342.3" y1="631.5" x2="1420" y2="878" stroke="#2e74b6" stroke-width="10.6" stroke-linecap="round"/>
<line x1="1432" y1="671.2" x2="1471" y2="795.2" stroke="#143a62" stroke-width="11.2" stroke-linecap="round"/>
<line x1="1430.1" y1="670.7" x2="1469.1" y2="794.7" stroke="#4b9be2" stroke-width="11.2" stroke-linecap="round"/>
<line x1="1431" y1="671" x2="1470" y2="795" stroke="#2e74b6" stroke-width="10.6" stroke-linecap="round"/>
<line x1="1334" y1="638.2" x2="1379.4" y2="780" stroke="#0b0b0b" stroke-width="1.1"/>
<line x1="1335.3" y1="700" x2="1397" y2="859.1" stroke="#0b0b0b" stroke-width="1.1"/>
<line x1="1393.7" y1="719.4" x2="1414" y2="780" stroke="#0b0b0b" stroke-width="1.0"/>
<line x1="1424.8" y1="701.5" x2="1431.9" y2="722.9" stroke="#0b0b0b" stroke-width="1.0"/>
</g>
<path d="M1386.6 676.4 C1387.8 670.7 1392.7 654.9 1394.9 650.1 C1397.2 645.4 1400.7 641.9 1403.3 640.6 C1405.8 639.3 1410.5 639.3 1414 640.6 C1417.5 641.9 1427.2 647.6 1429.5 650.1 C1431.9 652.7 1432.3 656.8 1431.9 659.7 C1431.6 662.5 1427.5 668.4 1427.2 671.6 C1426.8 674.8 1429.9 680.4 1429.5 683.5 C1429.2 686.7 1427.3 692.3 1424.8 695.5 C1422.2 698.7 1414.1 706.5 1410.5 707.4 C1406.8 708.4 1400.7 704.6 1397.3 702.6 C1394 700.7 1386.8 696.6 1385.4 693.1 C1383.9 689.6 1385.3 682.1 1386.6 676.4Z" fill="#2e74b6" stroke="#4b9be2" stroke-width="1.2"/>
<path d="M1385.4 693.1 C1387 694.4 1394 700.7 1397.3 702.6 C1400.7 704.6 1406.8 708.4 1410.5 707.4 C1414.1 706.5 1422.9 697.1 1424.8 695.5" fill="none" stroke="#143a62" stroke-width="1.4"/>
<path d="M1404.5 645.1 L1422.4 654.3 L1423.3 657.3 L1415.2 679.4 L1397.3 670.4Z" fill="#fff" stroke="#0b0b0b" stroke-width="1" stroke-linejoin="round"/>
<path d="M1394.9 676.4 L1414 683.8 L1408.7 698.1 L1406.3 698.1 L1391.1 689.5 L1390.8 687.1Z" fill="#fff" stroke="#0b0b0b" stroke-width="1" stroke-linejoin="round"/>
<path d="M1388.4 657.3 C1389.6 657.5 1391.4 659.9 1391.9 662.1 C1392.4 664.3 1392.2 668 1391.3 670.4 C1390.4 672.8 1388.2 675.6 1386.6 676.4 C1385 677.2 1382.6 676.6 1381.8 675.2 C1381 673.8 1381.3 670.4 1381.8 668 C1382.3 665.7 1383.7 662.7 1384.8 660.9 C1385.9 659.1 1387.2 657.1 1388.4 657.3Z" fill="#2e74b6" stroke="#0b0b0b" stroke-width="1"/>
<path d="M1425.4 675.2 C1426.8 675.8 1428.3 678.6 1428.4 681.2 C1428.5 683.8 1427 688.4 1426 690.7 C1425 693 1423.6 694.9 1422.4 694.9 C1421.2 694.9 1419.7 692.6 1418.8 690.7 C1417.9 688.8 1416.8 685.7 1417 683.5 C1417.2 681.4 1418.6 679 1420 677.6 C1421.4 676.2 1424 674.6 1425.4 675.2Z" fill="#2e74b6" stroke="#0b0b0b" stroke-width="1"/>
<path d="M1389.5 668.6 C1391.4 669.3 1397.2 671.1 1400.9 672.8 C1404.6 674.5 1408.4 677 1411.6 678.8 C1414.9 680.6 1419.1 682.8 1420.6 683.5" fill="none" stroke="#0b0b0b" stroke-width="2.6"/>
<path d="M1390.2 668.9 C1391.9 669.6 1397.3 671.4 1400.9 673 C1404.5 674.7 1408.5 677.3 1411.6 679 C1414.8 680.7 1418.6 682.6 1420 683.3" fill="none" stroke="#2e74b6" stroke-width="0.9"/>
<circle cx="1389.5" cy="668.6" r="1.4" fill="#0b0b0b"/>
<circle cx="1421.2" cy="683.9" r="1.5" fill="#0b0b0b"/>
<ellipse cx="1378.2" cy="647.1" rx="3.2" ry="3.8" fill="#fff" stroke="#0b0b0b" stroke-width="1"/>
<ellipse cx="1323.8" cy="813.4" rx="3.2" ry="3.8" fill="#fff" stroke="#0b0b0b" stroke-width="1"/>
<ellipse cx="1435.5" cy="663" rx="1.6" ry="2" fill="#cfd6dd" stroke="#0b0b0b" stroke-width="0.8"/>
<ellipse cx="1277.2" cy="825.3" rx="1.6" ry="2" fill="#cfd6dd" stroke="#0b0b0b" stroke-width="0.8"/>
<ellipse cx="1410.5" cy="626.9" rx="1.4" ry="1.7" fill="#0b0b0b"/>
<ellipse cx="1470.2" cy="675.9" rx="1.4" ry="1.7" fill="#0b0b0b"/>
<ellipse cx="1437.8" cy="775.7" rx="1.4" ry="1.7" fill="#0b0b0b"/>
<ellipse cx="1296.7" cy="862.7" rx="1.4" ry="1.7" fill="#0b0b0b"/>
<ellipse cx="1342.3" cy="885" rx="1.4" ry="1.7" fill="#0b0b0b"/>
<ellipse cx="1423.3" cy="821.8" rx="1.4" ry="1.7" fill="#0b0b0b"/>
<path d="M1385.1 603.7 L1391 601.7 L1399 604.7 L1402 609.6 L1397 627.5 L1391 631.9 L1381.1 630.5 L1380.1 625.5Z" fill="#1c4d80" stroke="#0b0b0b" stroke-width="1" stroke-linejoin="round"/>
<path d="M1386.1 607.6 L1391 608 L1387.1 629.5 L1382.7 628.5Z" fill="#25629c"/>
<path d="M1424.9 623.5 L1430.8 621.2 L1438.8 624.5 L1441.8 630.5 L1436.8 647.4 L1430.8 651.4 L1421.9 649.4 L1420.9 645.4Z" fill="#1c4d80" stroke="#0b0b0b" stroke-width="1" stroke-linejoin="round"/>
<path d="M1425.9 627.5 L1430.8 627.9 L1427.3 648.4 L1422.9 647.4Z" fill="#25629c"/>
<line x1="1337.1" y1="604.6" x2="1270.7" y2="811" stroke="#0b0b0b" stroke-width="1.2"/>
<line x1="1332.7" y1="599.8" x2="1261.1" y2="806" stroke="#0b0b0b" stroke-width="0.8"/>
<path d="M1330.3 574.8 L1250.8 804.6" fill="none" stroke="#0b0b0b" stroke-width="0.9" stroke-linecap="round" stroke-linejoin="round"/>
<path d="M1446.8 635.5 L1472.6 647.4" fill="none" stroke="#0b0b0b" stroke-width="1" stroke-linecap="round" stroke-linejoin="round"/>
<path d="M1324.7 626 L1326.3 619 L1335.9 607.8 L1345.4 607.8 L1335.9 615 L1331.1 628.4Z" fill="#143a62" stroke="#0b0b0b" stroke-width="0.9" stroke-linejoin="round"/>
<path d="M1440.8 651.4 L1454.7 661.4 L1459.7 677.3 L1456.7 691.2 L1434.8 754.9 L1409 840" fill="none" stroke="#0b0b0b" stroke-width="1.0" stroke-linecap="round" stroke-linejoin="round"/>
<path d="M1464.7 643.5 L1476.6 669.3 L1466.7 695.2 L1458.7 738.9 L1444.8 764.8" fill="none" stroke="#0b0b0b" stroke-width="1.0" stroke-linecap="round" stroke-linejoin="round"/>
<path d="M1456.7 700 L1396 879" fill="none" stroke="#0b0b0b" stroke-width="1.1" stroke-linecap="round" stroke-linejoin="round"/>
<path d="M1464.7 787.5 L1414.9 906.9" fill="none" stroke="#0b0b0b" stroke-width="1.0" stroke-linecap="round" stroke-linejoin="round"/>
<path d="M1265.7 819.4 L1275.6 843.2 L1369.2 891 L1383.1 895" fill="none" stroke="#0b0b0b" stroke-width="1.1" stroke-linecap="round" stroke-linejoin="round"/>
<path d="M1259.7 853.2 L1271.6 859.1 L1365.2 906.9 L1379.1 910.9" fill="none" stroke="#0b0b0b" stroke-width="1.1" stroke-linecap="round" stroke-linejoin="round"/>
<path d="M1275.6 843.2 L1270.7 859.1" fill="none" stroke="#0b0b0b" stroke-width="1.4" stroke-linecap="round" stroke-linejoin="round"/>
<path d="M1369.2 891 L1365.2 906.9" fill="none" stroke="#0b0b0b" stroke-width="1.2" stroke-linecap="round" stroke-linejoin="round"/>
<path d="M1248.8 803.9 L1263.7 811.4 L1259.7 827.3 L1265.7 841.2 L1255.7 855.2 L1239.8 857.2 L1229.8 847.2 L1223.9 837.3 L1225.9 827.3 L1237.8 817.4 L1241.8 805.4Z" fill="#2e74b6" stroke="#0b0b0b" stroke-width="1" stroke-linejoin="round"/>
<path d="M1223.9 837.3 L1226.9 829.3 L1232.8 825.3 L1235.8 839.3 L1229.8 848.2Z" fill="#143a62" stroke="#0b0b0b" stroke-width="0.8"/>
<path d="M1231.8 827.3 L1242.8 831.3 L1240.8 841.2 L1234.8 839.3Z" fill="#fff" stroke="#0b0b0b" stroke-width="0.9"/>
<circle cx="1231.4" cy="831.9" r="2.6" fill="#fff" stroke="#0b0b0b" stroke-width="0.9"/>
<ellipse cx="1251.1" cy="818.4" rx="1.4" ry="7" transform="rotate(16 1251.1 818.4)" fill="#1c4d80" stroke="#0b0b0b" stroke-width="0.9"/>
<path d="M1237.8 851.2 C1238.6 853 1240.3 859.8 1242.8 862.1 C1245.3 864.5 1250.1 866 1252.7 865.1 C1255.4 864.3 1257.7 858.5 1258.7 857.2" fill="none" stroke="#4b9be2" stroke-width="1.5"/>
<path d="M1397 879 L1411 886 L1405 902.9 L1397 918.8 L1379.1 910.9 L1383.1 895Z" fill="#2e74b6" stroke="#0b0b0b" stroke-width="1" stroke-linejoin="round"/>
<ellipse cx="1401" cy="893" rx="1.4" ry="7.5" transform="rotate(18 1401 893)" fill="#1c4d80" stroke="#0b0b0b" stroke-width="0.9"/>
<path d="M1383.1 904.9 L1399 910.9 L1397 918.8 L1381.1 912.9Z" fill="#25629c" stroke="#0b0b0b" stroke-width="0.9"/>
<path d="M1399 938.7 C1402.1 937.3 1414.5 935.7 1418.9 934.8 C1423.3 933.8 1435.1 930 1436.8 930.8 C1438.6 931.6 1435.1 938.7 1433.8 941.7 C1432.6 944.7 1428.5 953.7 1425.9 956.2 C1423.2 958.8 1413.9 963.1 1411 963.6 C1408 964.1 1403 961.9 1401 960.6 C1399 959.3 1395.1 954.3 1394 952.6 C1393 951 1391.5 948.3 1392 946.7 C1392.6 945.1 1395.9 940.1 1399 938.7Z" fill="#2e74b6" stroke="#0b0b0b" stroke-width="1.1"/>
<ellipse cx="1420.9" cy="949.7" rx="2.6" ry="1.6" transform="rotate(-15 1420.9 949.7)" fill="#25629c" stroke="#0b0b0b" stroke-width="0.8"/>
<ellipse cx="1415.9" cy="956" rx="2.6" ry="1.6" transform="rotate(-15 1415.9 956)" fill="#cfd6dd" stroke="#0b0b0b" stroke-width="0.8"/>
<ellipse cx="1415.9" cy="922.8" rx="14.5" ry="16.5" transform="rotate(20 1415.9 922.8)" fill="#1c4d80" stroke="#0b0b0b" stroke-width="1.1"/>
<ellipse cx="1418.9" cy="924.4" rx="11" ry="13" transform="rotate(20 1418.9 924.4)" fill="#2e74b6" stroke="#0b0b0b" stroke-width="0.9"/>
<ellipse cx="1421.3" cy="925.8" rx="8" ry="10" transform="rotate(20 1421.3 925.8)" fill="#143a62" stroke="#0b0b0b" stroke-width="0.9"/>
<ellipse cx="1422.5" cy="926.8" rx="5" ry="6.5" transform="rotate(20 1422.5 926.8)" fill="#0e2a47" stroke="#0b0b0b" stroke-width="0.8"/>
<ellipse cx="1401.4" cy="915.9" rx="4" ry="6" transform="rotate(20 1401.4 915.9)" fill="#2e74b6" stroke="#0b0b0b" stroke-width="0.9"/>
<path d="M1466.7 689.2 L1486.6 697.2 L1488.6 705.1 L1478.6 719 L1486.6 725 L1490.5 715.1 L1496.5 719" fill="none" stroke="#0b0b0b" stroke-width="1.0" stroke-linecap="round" stroke-linejoin="round"/>
<path d="M1462.7 715.1 L1458.7 731 L1464.7 738.9 L1476.6 742.9 L1486.6 737" fill="none" stroke="#0b0b0b" stroke-width="1.0" stroke-linecap="round" stroke-linejoin="round"/>
<path d="M1448.8 738.9 L1444.8 754.9 L1454.7 758.8 L1466.7 760.8 L1470.7 750.9" fill="none" stroke="#0b0b0b" stroke-width="1.0" stroke-linecap="round" stroke-linejoin="round"/>
<path d="M1432.8 764.8 L1448.8 770.8 L1444.8 786.7 L1454.7 790.7" fill="none" stroke="#0b0b0b" stroke-width="1.0" stroke-linecap="round" stroke-linejoin="round"/>
<path d="M1496.5 647.4 L1516.4 659.4" fill="none" stroke="#0b0b0b" stroke-width="1.0" stroke-linecap="round" stroke-linejoin="round"/>
<path d="M1494.5 659.4 L1506.5 665.3 L1500.5 683.2 L1492.5 679.3 L1494.5 659.4" fill="none" stroke="#0b0b0b" stroke-width="0.9" stroke-linecap="round" stroke-linejoin="round"/>
<path d="M1510.5 673.3 L1498.5 713.1" fill="none" stroke="#0b0b0b" stroke-width="1.0" stroke-linecap="round" stroke-linejoin="round"/>
<circle cx="1483.6" cy="726" r="3" fill="#1c4d80" stroke="#0b0b0b" stroke-width="0.9"/>
<circle cx="1480.6" cy="746.9" r="3" fill="#1c4d80" stroke="#0b0b0b" stroke-width="0.9"/>
<line x1="1484.2" y1="613.2" x2="1484.2" y2="643.5" stroke="#333" stroke-width="1.2"/>
<path d="M1478.6 639.5 L1489.5 639.5 L1489.5 686.2 L1500.5 680.9 L1502.5 687.2 L1479 700.1Z" fill="#fff" stroke="none"/>
<path d="M1484.2 643.5 L1484.2 691.2 L1500.5 683.2" fill="none" stroke="#333" stroke-width="1.1"/>
<!-- fast -->
<defs>
<radialGradient id="gDome" cx="0.40" cy="0.52" r="0.62" fx="0.36" fy="0.5">
<stop offset="0" stop-color="#f4f4f4"/><stop offset="0.3" stop-color="#d2d2d2"/><stop offset="0.62" stop-color="#a9a9a9"/><stop offset="0.85" stop-color="#858585"/><stop offset="1" stop-color="#6a6a6a"/></radialGradient>
<radialGradient id="gDome2" cx="0.42" cy="0.50" r="0.66" fx="0.38" fy="0.48">
<stop offset="0" stop-color="#fafafa"/><stop offset="0.28" stop-color="#dadada"/><stop offset="0.6" stop-color="#b0b0b0"/><stop offset="0.82" stop-color="#7a7a7a"/><stop offset="1" stop-color="#4e4e4e"/></radialGradient>
<radialGradient id="gDome3" cx="0.45" cy="0.50" r="0.62" fx="0.42" fy="0.46">
<stop offset="0" stop-color="#f2f2f2"/><stop offset="0.3" stop-color="#d4d4d4"/><stop offset="0.65" stop-color="#b0b0b0"/><stop offset="1" stop-color="#8a8a8a"/></radialGradient>
<radialGradient id="gHead70" cx="0.45" cy="0.78" r="0.75">
<stop offset="0" stop-color="#f8f8f8"/><stop offset="0.35" stop-color="#e4e4e4"/><stop offset="0.75" stop-color="#d2d2d2"/><stop offset="1" stop-color="#bcbcbc"/></radialGradient>
<linearGradient id="gFl" x1="0" y1="0" x2="0" y2="1"><stop offset="0" stop-color="#bdbdbd"/><stop offset="0.55" stop-color="#d9d9d9"/><stop offset="0.85" stop-color="#f6f6f6"/><stop offset="1" stop-color="#bcbcbc"/></linearGradient>
<linearGradient id="gSh" x1="0" y1="0" x2="1" y2="0"><stop offset="0" stop-color="#777"/><stop offset="0.18" stop-color="#5e5e5e"/><stop offset="0.5" stop-color="#6c6c6c"/><stop offset="0.8" stop-color="#565656"/><stop offset="1" stop-color="#484848"/></linearGradient>
<linearGradient id="gSh2" x1="0" y1="0" x2="1" y2="0"><stop offset="0" stop-color="#6b6b6b"/><stop offset="0.3" stop-color="#575757"/><stop offset="0.7" stop-color="#505050"/><stop offset="1" stop-color="#5a5a5a"/></linearGradient>
<linearGradient id="gThr" x1="0" y1="0" x2="1" y2="0"><stop offset="0" stop-color="#c9c9c9"/><stop offset="0.35" stop-color="#fdfdfd"/><stop offset="0.7" stop-color="#e2e2e2"/><stop offset="1" stop-color="#9d9d9d"/></linearGradient>
<linearGradient id="gTop" x1="0" y1="0" x2="1" y2="1"><stop offset="0" stop-color="#c4c4c4"/><stop offset="0.5" stop-color="#dedede"/><stop offset="1" stop-color="#cfcfcf"/></linearGradient>
</defs>
<path d="M1373.3 1151.8 C1380.6 1147.8 1436.4 1147.8 1443.3 1151.8 C1450.3 1155.8 1443.1 1183.8 1442.7 1191.8 C1442.3 1199.8 1440.6 1227.1 1439.3 1231.8 C1438.1 1236.5 1435.6 1237.8 1430 1238.5 C1424.4 1239.2 1389 1239.5 1383.3 1238.5 C1377.7 1237.5 1374.6 1233.2 1373.3 1228.5 C1372.1 1223.8 1370.7 1199.5 1370.7 1191.8 C1370.7 1184.1 1366.1 1155.8 1373.3 1151.8Z" fill="url(#gThr)" stroke="#161616" stroke-width="1"/>
<path d="M1372 1161.8 C1375 1163 1382.6 1167.9 1390 1169.1 C1397.4 1170.3 1408 1170.7 1416.7 1169.1 C1425.3 1167.6 1437.8 1161.3 1442 1159.8" fill="none" stroke="#2a2a2a" stroke-width="1.5"/>
<path d="M1372.7 1164.4 C1375.6 1165.7 1382.7 1170.6 1390 1171.8 C1397.3 1173 1408.1 1173.3 1416.7 1171.8 C1425.2 1170.2 1437.2 1164 1441.3 1162.4" fill="none" stroke="#8a8a8a" stroke-width="1.6"/>
<path d="M1372 1170.8 C1375 1172 1382.6 1176.9 1390 1178.1 C1397.4 1179.3 1408 1179.7 1416.7 1178.1 C1425.3 1176.6 1437.8 1170.3 1442 1168.8" fill="none" stroke="#2a2a2a" stroke-width="1.5"/>
<path d="M1372.7 1173.4 C1375.6 1174.7 1382.7 1179.6 1390 1180.8 C1397.3 1182 1408.1 1182.3 1416.7 1180.8 C1425.2 1179.2 1437.2 1173 1441.3 1171.4" fill="none" stroke="#8a8a8a" stroke-width="1.6"/>
<path d="M1372 1179.8 C1375 1181 1382.6 1185.9 1390 1187.1 C1397.4 1188.3 1408 1188.7 1416.7 1187.1 C1425.3 1185.6 1437.8 1179.3 1442 1177.8" fill="none" stroke="#2a2a2a" stroke-width="1.5"/>
<path d="M1372.7 1182.5 C1375.6 1183.7 1382.7 1188.6 1390 1189.8 C1397.3 1191 1408.1 1191.3 1416.7 1189.8 C1425.2 1188.2 1437.2 1182 1441.3 1180.5" fill="none" stroke="#8a8a8a" stroke-width="1.6"/>
<path d="M1372 1188.8 C1375 1190 1382.6 1194.9 1390 1196.1 C1397.4 1197.4 1408 1197.7 1416.7 1196.1 C1425.3 1194.6 1437.8 1188.3 1442 1186.8" fill="none" stroke="#2a2a2a" stroke-width="1.5"/>
<path d="M1372.7 1191.5 C1375.6 1192.7 1382.7 1197.6 1390 1198.8 C1397.3 1200 1408.1 1200.4 1416.7 1198.8 C1425.2 1197.2 1437.2 1191 1441.3 1189.5" fill="none" stroke="#8a8a8a" stroke-width="1.6"/>
<path d="M1372 1197.8 C1375 1199 1382.6 1203.9 1390 1205.1 C1397.4 1206.4 1408 1206.7 1416.7 1205.1 C1425.3 1203.6 1437.8 1197.3 1442 1195.8" fill="none" stroke="#2a2a2a" stroke-width="1.5"/>
<path d="M1372.7 1200.5 C1375.6 1201.7 1382.7 1206.6 1390 1207.8 C1397.3 1209 1408.1 1209.4 1416.7 1207.8 C1425.2 1206.2 1437.2 1200 1441.3 1198.5" fill="none" stroke="#8a8a8a" stroke-width="1.6"/>
<path d="M1372 1206.8 C1375 1208 1382.6 1212.9 1390 1214.1 C1397.4 1215.4 1408 1215.7 1416.7 1214.1 C1425.3 1212.6 1437.8 1206.4 1442 1204.8" fill="none" stroke="#2a2a2a" stroke-width="1.5"/>
<path d="M1372.7 1209.5 C1375.6 1210.7 1382.7 1215.6 1390 1216.8 C1397.3 1218 1408.1 1218.4 1416.7 1216.8 C1425.2 1215.3 1437.2 1209 1441.3 1207.5" fill="none" stroke="#8a8a8a" stroke-width="1.6"/>
<path d="M1372 1215.8 C1375 1217 1382.6 1221.9 1390 1223.1 C1397.4 1224.4 1408 1224.7 1416.7 1223.1 C1425.3 1221.6 1437.8 1215.4 1442 1213.8" fill="none" stroke="#2a2a2a" stroke-width="1.5"/>
<path d="M1372.7 1218.5 C1375.6 1219.7 1382.7 1224.6 1390 1225.8 C1397.3 1227 1408.1 1227.4 1416.7 1225.8 C1425.2 1224.3 1437.2 1218 1441.3 1216.5" fill="none" stroke="#8a8a8a" stroke-width="1.6"/>
<path d="M1372 1224.8 C1375 1226 1382.6 1230.9 1390 1232.2 C1397.4 1233.4 1408 1233.7 1416.7 1232.2 C1425.3 1230.6 1437.8 1224.4 1442 1222.8" fill="none" stroke="#2a2a2a" stroke-width="1.5"/>
<path d="M1372.7 1227.5 C1375.6 1228.7 1382.7 1233.6 1390 1234.8 C1397.3 1236 1408.1 1236.4 1416.7 1234.8 C1425.2 1233.3 1437.2 1227 1441.3 1225.5" fill="none" stroke="#8a8a8a" stroke-width="1.6"/>
<path d="M1372 1233.8 C1375 1235 1382.6 1239.9 1390 1241.2 C1397.4 1242.4 1408 1242.7 1416.7 1241.2 C1425.3 1239.6 1437.8 1233.4 1442 1231.8" fill="none" stroke="#2a2a2a" stroke-width="1.5"/>
<path d="M1372.7 1236.5 C1375.6 1237.7 1382.7 1242.6 1390 1243.8 C1397.3 1245 1408.1 1245.4 1416.7 1243.8 C1425.2 1242.3 1437.2 1236 1441.3 1234.5" fill="none" stroke="#8a8a8a" stroke-width="1.6"/>
<line x1="1405.3" y1="1238.5" x2="1405.3" y2="1246.8" stroke="#333" stroke-width="1"/>
<path d="M1328.2 1105.7 C1328.4 1102.6 1328.9 1094.3 1330.8 1090.2 C1332.7 1086 1338.5 1078.1 1342.4 1074.7 C1346.4 1071.2 1354.7 1066.7 1360.5 1064.3 C1366.4 1061.9 1379.5 1058.1 1386.4 1056.5 C1393.3 1055 1405.4 1052.7 1412.3 1052.7 C1419.2 1052.7 1430.2 1054.1 1438.2 1056.5 C1446.1 1059 1465.1 1067.2 1471.8 1070.8 C1478.5 1074.4 1485 1079.6 1488.6 1083.7 C1492.2 1087.8 1497.8 1096.5 1499 1101.8 C1500.1 1107.2 1498.2 1119.1 1497 1123.8 C1495.8 1128.4 1492.9 1133.4 1489.9 1136.7 C1486.9 1140 1479.6 1145.8 1474.4 1148.4 C1469.2 1150.9 1458 1154.7 1451.1 1156.1 C1444.2 1157.5 1430.4 1159.1 1422.6 1158.7 C1414.9 1158.4 1400.1 1155.3 1392.9 1153.5 C1385.6 1151.8 1374.3 1148 1368.3 1145.8 C1362.3 1143.5 1351.8 1139 1347.6 1136.7 C1343.5 1134.5 1339.7 1132.1 1337.3 1129 C1334.8 1125.9 1330.7 1116.6 1329.5 1113.5 C1328.3 1110.3 1328 1108.8 1328.2 1105.7Z" fill="#6e6e6e" stroke="#161616" stroke-width="1.1"/>
<path d="M1329.5 1104.4 C1328.8 1101.3 1329.1 1094.1 1330.8 1090.2 C1332.5 1086.2 1338.5 1078.1 1342.4 1074.7 C1346.4 1071.2 1354.7 1066.7 1360.5 1064.3 C1366.4 1061.9 1379.5 1058.1 1386.4 1056.5 C1393.3 1055 1405.4 1052.7 1412.3 1052.7 C1419.2 1052.7 1430.2 1054.1 1438.2 1056.5 C1446.1 1059 1465.1 1067.2 1471.8 1070.8 C1478.5 1074.4 1485 1079.7 1488.6 1083.7 C1492.2 1087.8 1498.5 1096.2 1498.7 1101.2 C1498.9 1106.2 1493.5 1116.8 1489.9 1121.2 C1486.3 1125.6 1477.3 1131 1471.8 1134.1 C1466.3 1137.2 1455.1 1142.6 1448.5 1144.5 C1442 1146.4 1430.1 1148.5 1422.6 1148.4 C1415.2 1148.2 1400.1 1144.9 1392.9 1143.2 C1385.6 1141.5 1374.3 1137.8 1368.3 1135.4 C1362.3 1133 1351.9 1128 1347.6 1125.1 C1343.3 1122.2 1338.4 1116.2 1336 1113.5 C1333.6 1110.7 1330.2 1107.5 1329.5 1104.4Z" fill="#cfcfcf" stroke="#161616" stroke-width="1.0"/>
<path d="M1348.3 1099.2 C1348.3 1095.4 1350.1 1087.1 1352.8 1082.4 C1355.5 1077.8 1363.8 1067.9 1368.3 1064.3 C1372.8 1060.7 1380.9 1057 1386.4 1055.3 C1391.9 1053.5 1403.5 1051.6 1409.7 1051.4 C1415.9 1051.2 1426.8 1052.2 1433 1054 C1439.2 1055.7 1451.1 1060.9 1456.3 1064.3 C1461.4 1067.8 1468.7 1074.7 1471.8 1079.8 C1474.9 1085 1479 1098.1 1479.5 1103.1 C1480.1 1108.1 1478.1 1113.7 1475.7 1117.3 C1473.3 1121 1466.4 1127.5 1461.4 1130.3 C1456.4 1133 1444.7 1136.7 1438.2 1138 C1431.6 1139.3 1419.2 1140.3 1412.3 1140 C1405.4 1139.6 1392.6 1137.6 1386.4 1135.4 C1380.2 1133.3 1370.2 1127.1 1365.7 1123.8 C1361.2 1120.5 1355.1 1114.1 1352.8 1110.9 C1350.5 1107.6 1348.3 1103 1348.3 1099.2Z" fill="url(#gDome)" stroke="none"/>
<path d="M1348.3 1099.2 C1349 1096.4 1349.4 1088.2 1352.8 1082.4 C1356.1 1076.6 1363.1 1068.6 1368.3 1064.3 C1373.5 1060 1381.2 1057.8 1383.8 1056.5" fill="none" stroke="#161616" stroke-width="1.0"/>
<path d="M1456.3 1064.3 C1458.9 1066.9 1467.9 1073.4 1471.8 1079.8 C1475.7 1086.3 1478.8 1096.8 1479.5 1103.1 C1480.3 1109.3 1476.9 1115 1476.3 1117.3" fill="none" stroke="#161616" stroke-width="1.0"/>
<line x1="1352.8" y1="1110.9" x2="1365.1" y2="1122.8" stroke="#161616" stroke-width="1.0"/>
<line x1="1382.5" y1="1131.3" x2="1404.5" y2="1136.5" stroke="#161616" stroke-width="1.0"/>
<line x1="1427.2" y1="1137.4" x2="1448.5" y2="1134.1" stroke="#161616" stroke-width="1.0"/>
<path d="M1391 1062.4 L1409.7 1066.2 L1420 1057.2 L1427.2 1070.8 L1445.9 1073.4 L1436.2 1081.8 L1441.4 1087.6 L1423.3 1083.1 L1412.3 1091.5 L1405.8 1081.8 L1387.1 1080.5 L1397.4 1072.7Z" fill="#666" stroke="#161616" stroke-width="1.0" stroke-linejoin="round"/>
<path d="M1420 1057.2 L1427.2 1070.8 L1445.9 1073.4 L1436.2 1081.8 L1441.4 1087.6 L1423.3 1083.1 L1420 1074.7Z" fill="#7d7d7d"/>
<path d="M1412.3 1090.8 L1418.8 1079.8 L1422.6 1083.7 L1414.9 1091.7Z" fill="#fff"/>
<line x1="1420" y1="1057.8" x2="1420" y2="1079.8" stroke="#161616" stroke-width="0.9"/>
<path d="M1625 1156.8 L1698.3 1156.8 L1698.3 1211.8 L1693.3 1225.2 L1676.7 1231.8 L1646.7 1231.8 L1630 1225.2 L1625 1211.8Z" fill="url(#gSh2)" stroke="#161616" stroke-width="1" stroke-linejoin="round"/>
<line x1="1661.7" y1="1231.8" x2="1661.7" y2="1244.2" stroke="#333" stroke-width="1"/>
<path d="M1585.3 1117.3 C1585.3 1113.4 1586.2 1107.2 1588.6 1103.1 C1590.9 1099 1598.1 1090.4 1602.8 1086.3 C1607.4 1082.2 1618 1074.8 1623.5 1072.1 C1629 1069.3 1638.7 1066.7 1644.2 1065.6 C1649.7 1064.5 1659 1063.7 1664.9 1064 C1670.7 1064.4 1682 1066.1 1688.2 1068.2 C1694.4 1070.3 1705.9 1075.9 1711.4 1079.8 C1717 1083.8 1725.9 1092.8 1729.5 1097.9 C1733.2 1103.1 1737.9 1113.8 1738.6 1118.6 C1739.3 1123.4 1737 1130.2 1734.7 1134.1 C1732.5 1138.1 1726.6 1145.1 1721.8 1148.4 C1717 1151.6 1706.4 1156.6 1698.5 1158.7 C1690.6 1160.9 1671.8 1164.4 1662.3 1164.5 C1652.8 1164.7 1635.3 1162.2 1627.4 1160 C1619.4 1157.8 1608 1152 1602.8 1148.4 C1597.6 1144.7 1590.9 1137 1588.6 1132.8 C1586.2 1128.7 1585.3 1121.3 1585.3 1117.3Z" fill="url(#gDome2)" stroke="#161616" stroke-width="1.1"/>
<path d="M1589.8 1134.1 C1589.8 1135.1 1597.8 1144.4 1602.8 1147.7 C1607.8 1151 1619.4 1156.6 1627.4 1158.7 C1635.3 1160.8 1652.8 1163.4 1662.3 1163.2 C1671.8 1163.1 1690.6 1159.8 1698.5 1157.7 C1706.4 1155.5 1717.1 1150.4 1721.8 1147.3 C1726.4 1144.3 1733.4 1135.7 1733.4 1134.8 C1733.4 1133.9 1726.4 1138.8 1721.8 1140.6 C1717.1 1142.4 1706.4 1146.8 1698.5 1148.4 C1690.6 1149.9 1671.8 1152.2 1662.3 1152.2 C1652.8 1152.2 1635.3 1149.9 1627.4 1148.4 C1619.4 1146.8 1607.8 1142.5 1602.8 1140.6 C1597.8 1138.7 1589.8 1133.2 1589.8 1134.1Z" fill="#4f4f4f" opacity="0.75"/>
<path d="M1633.8 1085 C1633.7 1083.6 1641.7 1079.8 1642.9 1078.5 C1644.1 1077.2 1642.5 1074.6 1644.2 1074 C1645.8 1073.4 1654.5 1073.3 1657.1 1073.4 C1659.7 1073.4 1664.1 1074.8 1666.2 1074.7 C1668.3 1074.5 1673.6 1071.8 1675.2 1072.1 C1676.9 1072.4 1679.6 1076 1680.4 1077.2 C1681.2 1078.4 1680.5 1081.6 1681.7 1082.4 C1682.9 1083.2 1690.3 1083.6 1690.8 1084.3 C1691.2 1085.1 1686.9 1088 1685.6 1088.9 C1684.2 1089.7 1680 1090.6 1679.1 1091.5 C1678.2 1092.3 1679.5 1095.7 1677.8 1096 C1676.2 1096.3 1667.7 1093.8 1664.9 1094 C1662 1094.3 1655.2 1097.9 1653.2 1097.9 C1651.3 1097.9 1649.1 1095 1648.1 1094 C1647 1093.1 1645.8 1091.2 1644.2 1090.2 C1642.5 1089.1 1634 1086.4 1633.8 1085Z" fill="#5e5e5e" stroke="#161616" stroke-width="1.0"/>
<path d="M1648.1 1094 C1647.9 1094.4 1651.3 1097.9 1653.2 1097.9 C1655.2 1097.9 1662 1094.3 1664.9 1094 C1667.7 1093.8 1676.6 1096.1 1677.8 1096 C1679 1095.8 1676.9 1093.3 1675.2 1092.8 C1673.6 1092.3 1666 1091.5 1663.6 1091.7 C1661.2 1091.9 1656.3 1094.4 1654.5 1094.7 C1652.7 1095 1648.2 1093.7 1648.1 1094Z" fill="#e8e8e8" stroke="#161616" stroke-width="0.7"/>
<path d="M1892.3 1219.8 C1896.7 1218.6 1933.2 1218.4 1937.6 1219.8 C1942.1 1221.1 1938.1 1231.3 1936.8 1233.3 C1935.4 1235.2 1927.1 1238.5 1924.1 1239.2 C1921.1 1239.9 1910.2 1240.8 1907.2 1240 C1904.1 1239.3 1895.1 1233.6 1893.7 1231.6 C1892.2 1229.6 1887.9 1220.9 1892.3 1219.8Z" fill="#5c5c5c" stroke="#161616" stroke-width="1"/>
<path d="M1886.9 1130.1 L1952 1130.1 L1949.5 1204.5 L1946.1 1216.4 L1934.2 1224.8 L1915.6 1227.4 L1897 1224 L1886 1214.7 L1883.2 1199.5Z" fill="url(#gSh)" stroke="#161616" stroke-width="1" stroke-linejoin="round"/>
<line x1="1914.8" y1="1240" x2="1914.3" y2="1251.9" stroke="#333" stroke-width="1"/>
<ellipse cx="1921" cy="1100" rx="66.8" ry="36.4" transform="rotate(3 1921 1100)" fill="url(#gFl)" stroke="#161616" stroke-width="1.1"/>
<path d="M1877.6 1043.9 L1885.2 1069.3 L1884.4 1107.3 L1875.4 1081.1Z" fill="#7b7b7b" stroke="#161616" stroke-width="1" stroke-linejoin="round"/>
<path d="M1885.2 1069.3 L1930.9 1079.4 L1930 1117.5 L1884.4 1107.3Z" fill="#5f5f5f" stroke="#161616" stroke-width="1" stroke-linejoin="round"/>
<path d="M1930.9 1079.4 L1968.4 1063.3 L1967.2 1102.2 L1930 1117.5Z" fill="#555" stroke="#161616" stroke-width="1" stroke-linejoin="round"/>
<path d="M1877.6 1043.9 L1907.2 1028.7 L1930.9 1027.8 L1959.6 1037.1 L1968.4 1063.3 L1930.9 1079.4 L1885.2 1069.3Z" fill="#d9d9d9" stroke="#161616" stroke-width="1" stroke-linejoin="round"/>
<ellipse cx="1923.2" cy="1052" rx="38.6" ry="20.6" transform="rotate(3 1923.2 1052)" fill="#dcdcdc" stroke="#161616" stroke-width="1"/>
<path d="M1400.1 1405.2 L1461 1400.1 L1463.5 1433.9 L1459.3 1447.5 L1438.2 1489.7 L1403.5 1444.1 L1402.2 1432.2Z" fill="#585858" stroke="#161616" stroke-width="1" stroke-linejoin="round"/>
<line x1="1435.6" y1="1487.2" x2="1434.3" y2="1495.2" stroke="#333" stroke-width="1"/>
<path d="M1354.5 1357.8 C1354.8 1354.6 1357.5 1344.3 1359.5 1340.9 C1361.6 1337.5 1369.9 1327.3 1374.8 1324 C1379.7 1320.8 1403 1310.2 1408.6 1308.5 C1414.2 1306.7 1425.7 1306.1 1430.6 1306.3 C1435.5 1306.5 1452.6 1309.1 1457.6 1310.5 C1462.7 1311.9 1477.6 1317.8 1481.3 1320.6 C1485 1323.5 1493.1 1335.5 1494.8 1339.2 C1496.5 1343 1498.7 1354 1498.2 1357.8 C1497.7 1361.7 1492.3 1374.6 1489.8 1378.1 C1487.2 1381.7 1476.6 1391 1472.8 1393.3 C1469.1 1395.7 1458.1 1400.4 1452.5 1401.8 C1447 1403.2 1422.5 1407.4 1417 1407.7 C1411.6 1408.1 1402.5 1406.3 1398.4 1405.2 C1394.4 1404.1 1379.8 1398.6 1376.5 1396.7 C1373.1 1394.9 1366.6 1389 1364.6 1386.6 C1362.6 1384.2 1357.2 1375.9 1356.2 1373.1 C1355.2 1370.2 1354.1 1361.1 1354.5 1357.8Z" fill="url(#gDome3)" stroke="#161616" stroke-width="1.1"/>
<path d="M1391.7 1340.1 C1393.2 1338.9 1406.2 1334.1 1408.6 1332.5 C1411 1330.9 1414.8 1325.9 1415.3 1324 C1415.9 1322.2 1413.2 1315.1 1413.7 1313.9 C1414.2 1312.7 1419.4 1311.3 1420.4 1312.2 C1421.4 1313 1422.6 1320.8 1423.8 1322.3 C1425 1323.9 1429 1327 1432.3 1327.4 C1435.5 1327.8 1453.5 1326.1 1455.9 1326.6 C1458.4 1327 1458.6 1331 1456.8 1331.6 C1454.9 1332.2 1440 1331.7 1437.3 1332.5 C1434.7 1333.2 1430.8 1336.7 1430.6 1339.2 C1430.3 1341.8 1435.1 1355.8 1434.8 1357.8 C1434.5 1359.9 1429.1 1360.9 1428 1359.5 C1426.9 1358.2 1424.7 1346.5 1423.8 1344.3 C1422.9 1342.1 1421.8 1337.5 1418.7 1337.5 C1415.7 1337.5 1396.1 1344.1 1393.4 1344.3 C1390.7 1344.6 1390.2 1341.3 1391.7 1340.1Z" fill="#6a6a6a" stroke="#161616" stroke-width="0.9"/>
<line x1="1413.7" y1="1313.9" x2="1428" y2="1359.5" stroke="#161616" stroke-width="0.9"/>
<line x1="1420.4" y1="1312.2" x2="1434.8" y2="1357.8" stroke="#161616" stroke-width="0.9"/>
<line x1="1416.2" y1="1320.6" x2="1427.2" y2="1357.8" stroke="#cfcfcf" stroke-width="1.6"/>
<path d="M1659.5 1450.8 C1662.9 1449.4 1697.2 1449.4 1700.6 1450.8 C1704 1452.2 1701.3 1465.6 1700.6 1467.8 C1699.9 1469.9 1694.2 1475.2 1692.5 1476.2 C1690.7 1477.2 1681.9 1479.6 1679.8 1479.6 C1677.7 1479.6 1668.8 1477.2 1667.1 1476.2 C1665.5 1475.2 1660.6 1469.9 1660 1467.8 C1659.4 1465.6 1656.1 1452.2 1659.5 1450.8Z" fill="url(#gSh)" stroke="#161616" stroke-width="1"/>
<path d="M1655.3 1347.7 L1706 1347.7 L1706 1445.8 L1700.1 1453.4 L1679.8 1456.8 L1660.3 1453.4 L1655.3 1445.8Z" fill="url(#gSh)" stroke="#161616" stroke-width="1" stroke-linejoin="round"/>
<line x1="1675.6" y1="1479.6" x2="1675.6" y2="1492.3" stroke="#333" stroke-width="1"/>
<ellipse cx="1679.8" cy="1329.9" rx="51.6" ry="21.6" fill="url(#gFl)" stroke="#161616" stroke-width="1.1"/>
<path d="M1644.3 1297.3 L1672.2 1305.4 L1671.3 1335.5 L1644.3 1326Z" fill="#6e6e6e" stroke="#161616" stroke-width="1" stroke-linejoin="round"/>
<path d="M1672.2 1305.4 L1707.7 1298.7 L1707.4 1330.8 L1671.3 1335.5Z" fill="#5e5e5e" stroke="#161616" stroke-width="1" stroke-linejoin="round"/>
<path d="M1707.7 1298.7 L1715.8 1289.4 L1716.2 1319.8 L1707.4 1330.8Z" fill="#7c7c7c" stroke="#161616" stroke-width="1" stroke-linejoin="round"/>
<path d="M1644.3 1297.3 L1648.5 1284.3 L1665.4 1278 L1680.6 1276.3 L1695.9 1278.4 L1711.1 1284.3 L1715.8 1289.4 L1707.7 1298.7 L1672.2 1305.4Z" fill="#e6e6e6" stroke="#161616" stroke-width="1" stroke-linejoin="round"/>
<ellipse cx="1680.3" cy="1289.4" rx="32.1" ry="12.2" fill="#d2d2d2" stroke="#161616" stroke-width="0.9"/>
<line x1="1646.8" y1="1314.7" x2="1656.1" y2="1315.9" stroke="#eee" stroke-width="1"/>
<path d="M1870.8 1449.2 L1930.9 1445.8 L1907.2 1488 L1900.4 1491.8 L1893.7 1488Z" fill="#5b5b5b" stroke="#161616" stroke-width="1.2" stroke-linejoin="round"/>
<path d="M1871.7 1445.8 C1874.6 1446.4 1894.6 1456 1900.4 1455.9 C1906.3 1455.8 1927 1445.6 1930 1444.9 C1933.1 1444.3 1933.8 1447.6 1930.9 1449.2 C1927.9 1450.7 1906.4 1460.1 1900.4 1460.2 C1894.4 1460.2 1873.7 1451.4 1870.8 1450 C1868 1448.6 1868.7 1445.2 1871.7 1445.8Z" fill="#cfcfcf" stroke="#161616" stroke-width="1"/>
<path d="M1858.2 1381.5 L1941.8 1381.5 L1938.5 1390 L1941.8 1398.4 L1938.5 1406 L1941.8 1413.6 L1938.5 1422.1 L1942.4 1429.7 L1934.2 1440.7 L1924.1 1445.8 L1880.1 1445.8 L1864.9 1439 L1859 1429.7 L1861.5 1422.1 L1858.5 1413.6 L1861.5 1406 L1858.5 1398.4 L1861.5 1390Z" fill="#d6d6d6" stroke="#161616" stroke-width="1.3" stroke-linejoin="round"/>
<path d="M1863.2 1390 L1883.5 1392.5 L1883.5 1400.1 L1864.9 1397.6Z" fill="#6a6a6a" stroke="#161616" stroke-width="0.8"/>
<path d="M1883.5 1386.6 L1925.8 1384.9 L1914 1393.3 L1898.7 1395 L1883.5 1392.5Z" fill="#5a5a5a" stroke="#161616" stroke-width="0.8"/>
<path d="M1883.5 1392.5 L1898.7 1395 L1898.7 1400.1 L1883.5 1400.1Z" fill="#8a8a8a" stroke="#161616" stroke-width="0.8"/>
<path d="M1898.7 1395 L1914 1393.3 L1917.3 1397.6 L1898.7 1400.1Z" fill="#9a9a9a" stroke="#161616" stroke-width="0.8"/>
<path d="M1858.5 1399.3 C1861 1398.6 1866.4 1394.8 1873.4 1395 C1880.4 1395.3 1892 1400.5 1900.4 1401 C1908.9 1401.4 1917.2 1399.4 1924.1 1397.6 C1931 1395.7 1938.9 1391.2 1941.8 1390" fill="none" stroke="#161616" stroke-width="1.3"/>
<path d="M1863.2 1405.9 L1883.5 1408.4 L1883.5 1416 L1864.9 1413.5Z" fill="#6a6a6a" stroke="#161616" stroke-width="0.8"/>
<path d="M1883.5 1402.5 L1925.8 1400.8 L1914 1409.2 L1898.7 1410.9 L1883.5 1408.4Z" fill="#5a5a5a" stroke="#161616" stroke-width="0.8"/>
<path d="M1883.5 1408.4 L1898.7 1410.9 L1898.7 1416 L1883.5 1416Z" fill="#8a8a8a" stroke="#161616" stroke-width="0.8"/>
<path d="M1898.7 1410.9 L1914 1409.2 L1917.3 1413.5 L1898.7 1416Z" fill="#9a9a9a" stroke="#161616" stroke-width="0.8"/>
<path d="M1858.5 1415.2 C1861 1414.5 1866.4 1410.7 1873.4 1410.9 C1880.4 1411.2 1892 1416.4 1900.4 1416.9 C1908.9 1417.3 1917.2 1415.3 1924.1 1413.5 C1931 1411.6 1938.9 1407.1 1941.8 1405.9" fill="none" stroke="#161616" stroke-width="1.3"/>
<path d="M1863.2 1421.8 L1883.5 1424.3 L1883.5 1431.9 L1864.9 1429.4Z" fill="#6a6a6a" stroke="#161616" stroke-width="0.8"/>
<path d="M1883.5 1418.4 L1925.8 1416.7 L1914 1425.1 L1898.7 1426.8 L1883.5 1424.3Z" fill="#5a5a5a" stroke="#161616" stroke-width="0.8"/>
<path d="M1883.5 1424.3 L1898.7 1426.8 L1898.7 1431.9 L1883.5 1431.9Z" fill="#8a8a8a" stroke="#161616" stroke-width="0.8"/>
<path d="M1898.7 1426.8 L1914 1425.1 L1917.3 1429.4 L1898.7 1431.9Z" fill="#9a9a9a" stroke="#161616" stroke-width="0.8"/>
<path d="M1858.5 1431.1 C1861 1430.4 1866.4 1426.5 1873.4 1426.8 C1880.4 1427.1 1892 1432.3 1900.4 1432.8 C1908.9 1433.2 1917.2 1431.2 1924.1 1429.4 C1931 1427.5 1938.9 1423 1941.8 1421.8" fill="none" stroke="#161616" stroke-width="1.3"/>
<path d="M1863.2 1437.7 L1883.5 1440.2 L1883.5 1447.8 L1864.9 1445.3Z" fill="#6a6a6a" stroke="#161616" stroke-width="0.8"/>
<path d="M1883.5 1434.3 L1925.8 1432.6 L1914 1441 L1898.7 1442.7 L1883.5 1440.2Z" fill="#5a5a5a" stroke="#161616" stroke-width="0.8"/>
<path d="M1883.5 1440.2 L1898.7 1442.7 L1898.7 1447.8 L1883.5 1447.8Z" fill="#8a8a8a" stroke="#161616" stroke-width="0.8"/>
<path d="M1898.7 1442.7 L1914 1441 L1917.3 1445.3 L1898.7 1447.8Z" fill="#9a9a9a" stroke="#161616" stroke-width="0.8"/>
<path d="M1858.5 1447 C1861 1446.3 1866.4 1442.4 1873.4 1442.7 C1880.4 1443 1892 1448.2 1900.4 1448.7 C1908.9 1449.1 1917.2 1447.1 1924.1 1445.3 C1931 1443.4 1938.9 1438.9 1941.8 1437.7" fill="none" stroke="#161616" stroke-width="1.3"/>
<line x1="1883.5" y1="1383.2" x2="1883.5" y2="1445.8" stroke="#161616" stroke-width="1.2"/>
<ellipse cx="1899.1" cy="1340.1" rx="96.7" ry="43.6" fill="url(#gHead70)" stroke="#161616" stroke-width="1.3"/>
<!-- head -->
<defs>
<linearGradient id="hrF" gradientUnits="userSpaceOnUse" x1="360" y1="560" x2="480" y2="610">
<stop offset="0" stop-color="#c2a98b"/><stop offset="0.3" stop-color="#a58c72"/><stop offset="0.62" stop-color="#b39a7d"/><stop offset="0.8" stop-color="#c9af8f"/><stop offset="0.9" stop-color="#d8bf9c"/><stop offset="1" stop-color="#8f7a62"/></linearGradient>
<linearGradient id="hrB" gradientUnits="userSpaceOnUse" x1="430" y1="520" x2="485" y2="600">
<stop offset="0" stop-color="#fff6d8"/><stop offset="0.45" stop-color="#fbeecb"/><stop offset="0.7" stop-color="#c9b08f"/><stop offset="1" stop-color="#8f7b62"/></linearGradient>
<filter id="bl2" filterUnits="userSpaceOnUse" x="0" y="0" width="2010" height="1508"><feGaussianBlur stdDeviation="1.6"/></filter>
<filter id="bl4" filterUnits="userSpaceOnUse" x="0" y="0" width="2010" height="1508"><feGaussianBlur stdDeviation="3.2"/></filter>
</defs>
<g id="hr1">
<line x1="420.1" y1="621.9" x2="413.3" y2="654.8" stroke="#141414" stroke-width="8.4" stroke-linecap="round"/>
<line x1="420.1" y1="621.9" x2="413.3" y2="654.8" stroke="#c7b291" stroke-width="6.4" stroke-linecap="round"/>
<line x1="418.9" y1="621.9" x2="412.1" y2="654.8" stroke="#e6d5b4" stroke-width="1.6" stroke-linecap="round"/>
<line x1="460.4" y1="635.8" x2="453.3" y2="673.8" stroke="#141414" stroke-width="8.4" stroke-linecap="round"/>
<line x1="460.4" y1="635.8" x2="453.3" y2="673.8" stroke="#c7b291" stroke-width="6.4" stroke-linecap="round"/>
<line x1="459.2" y1="635.8" x2="452.1" y2="673.8" stroke="#e6d5b4" stroke-width="1.6" stroke-linecap="round"/>
<path d="M406.6 517.9 C404.6 514.7 412.2 516 414.6 515.9 C417 515.9 421.2 516.4 424.5 517.4 C427.8 518.4 434.8 521.3 439.4 523.4 C444.1 525.4 454.8 530.4 459.4 532.8 C463.9 535.3 470.5 539 473.3 541.8 C476.1 544.6 478.8 549.7 480.2 553.7 C481.7 557.7 483.7 567.1 484.2 571.6 C484.8 576.1 484.8 583.6 484.2 587.5 C483.7 591.5 481.4 598.9 480.2 601.5 C479.1 604 476.5 606.4 475.3 606.9 C474.1 607.5 473.4 609.1 471.3 605.4 C469.2 601.8 464.9 588.3 459.4 579.6 C453.8 570.8 436.5 548 429.5 539.8 C422.5 531.6 408.6 521.1 406.6 517.9Z" fill="url(#hrB)" stroke="#141414" stroke-width="1.2"/>
<clipPath id="hrca"><path d="M349.4 571.6 C349.8 568.7 351.2 561.7 352.9 557.7 C354.5 553.7 358.8 545.8 361.8 541.8 C364.9 537.8 372.1 530.8 375.8 527.9 C379.5 524.9 386.3 521.1 389.7 519.9 C393.1 518.6 398.2 518.3 401.6 518.4 C405.1 518.5 411.2 519.5 415.6 520.9 C419.9 522.3 429.3 526.3 434.5 528.9 C439.7 531.4 450.4 537 454.4 539.8 C458.4 542.6 462.3 547.1 464.3 549.7 C466.3 552.4 468.3 556.2 469.3 559.7 C470.3 563.1 471.5 570.3 471.8 575.6 C472.1 580.9 471.8 593.6 471.3 599.5 C470.8 605.3 469.5 614.7 468.3 619.4 C467.1 624 464.2 631.6 462.3 634.3 C460.5 637 456.6 639 454.4 639.8 C452.1 640.5 447.7 640.8 445.4 640.2 C443.2 639.7 439.4 637.1 437.5 635.3 C435.5 633.4 433.2 628.5 430.5 626.3 C427.8 624.2 421.7 621.5 417.6 619.4 C413.4 617.2 404.7 612.5 399.6 610.4 C394.6 608.3 384.7 605.2 379.8 603.5 C374.8 601.7 366.3 599.3 362.8 597.5 C359.4 595.6 355.6 591.9 353.9 589.5 C352.2 587.1 350.5 582 349.9 579.6 C349.3 577.2 349 574.5 349.4 571.6Z"/></clipPath>
<path d="M349.4 571.6 C349.8 568.7 351.2 561.7 352.9 557.7 C354.5 553.7 358.8 545.8 361.8 541.8 C364.9 537.8 372.1 530.8 375.8 527.9 C379.5 524.9 386.3 521.1 389.7 519.9 C393.1 518.6 398.2 518.3 401.6 518.4 C405.1 518.5 411.2 519.5 415.6 520.9 C419.9 522.3 429.3 526.3 434.5 528.9 C439.7 531.4 450.4 537 454.4 539.8 C458.4 542.6 462.3 547.1 464.3 549.7 C466.3 552.4 468.3 556.2 469.3 559.7 C470.3 563.1 471.5 570.3 471.8 575.6 C472.1 580.9 471.8 593.6 471.3 599.5 C470.8 605.3 469.5 614.7 468.3 619.4 C467.1 624 464.2 631.6 462.3 634.3 C460.5 637 456.6 639 454.4 639.8 C452.1 640.5 447.7 640.8 445.4 640.2 C443.2 639.7 439.4 637.1 437.5 635.3 C435.5 633.4 433.2 628.5 430.5 626.3 C427.8 624.2 421.7 621.5 417.6 619.4 C413.4 617.2 404.7 612.5 399.6 610.4 C394.6 608.3 384.7 605.2 379.8 603.5 C374.8 601.7 366.3 599.3 362.8 597.5 C359.4 595.6 355.6 591.9 353.9 589.5 C352.2 587.1 350.5 582 349.9 579.6 C349.3 577.2 349 574.5 349.4 571.6Z" fill="url(#hrF)"/>
<g clip-path="url(#hrca)">
<path d="M344.9 559.7 C344.8 556.2 350.9 543.1 354.9 537.8 C358.9 532.5 368.8 523.3 374.8 519.9 C380.7 516.4 392.4 511.9 399.6 511.9 C406.9 511.9 421.5 516.8 429.5 519.9 C437.5 522.9 453.4 530.2 459.4 534.8 C465.3 539.5 472.4 550.1 474.3 554.7 C476.1 559.4 475.8 567.1 473.3 569.6 C470.8 572.1 458.3 574.4 455.4 573.6 C452.5 572.8 453.5 566.8 451.4 563.7 C449.3 560.5 443.7 553.2 439.4 549.7 C435.2 546.3 424.9 540.3 419.6 537.8 C414.2 535.3 404.7 531.6 399.6 530.8 C394.6 530 386.3 529.6 381.7 531.8 C377.2 534.1 369.3 543.5 365.8 547.8 C362.4 552 358.7 562.1 355.9 563.7 C353.1 565.3 345.1 563.1 344.9 559.7Z" fill="#fdf1cf" filter="url(#bl2)"/>
<path d="M385.7 529.8 C388 529.8 394 528.6 399.6 529.8 C405.3 531.1 413.2 534.1 419.6 537.3 C425.9 540.4 432.5 544.7 437.5 548.7 C442.4 552.8 446.7 557.9 449.4 561.7 C452.1 565.4 453.1 569.5 453.9 571.1" fill="none" stroke="#fffef6" stroke-width="3" filter="url(#bl2)"/>
<path d="M455.4 573.6 C457.9 569.6 470.9 564.9 473.3 569.6 C475.7 574.4 474.5 600.1 473.3 609.4 C472.1 618.7 468.2 634.9 464.3 639.3 C460.5 643.6 446.7 644.2 444.4 642.2 C442.2 640.3 446.1 630 447.4 624.3 C448.7 618.6 453.3 606.2 454.4 599.5 C455.4 592.7 452.9 577.6 455.4 573.6Z" fill="#cdb491" filter="url(#bl2)"/>
<path d="M462.3 575.6 C463.8 572.2 471.8 569.1 473.3 573.6 C474.7 578.1 474.3 600.7 473.3 609.4 C472.2 618.2 468.5 635 465.3 639.3 C462.1 643.5 450.3 643.2 449.4 641.2 C448.5 639.3 456.6 629.9 458.4 624.3 C460.1 618.8 461.8 606 462.3 599.5 C462.9 593 460.9 579 462.3 575.6Z" fill="#9a8467" filter="url(#bl2)"/>
<path d="M381.7 555.7 C385.1 552.4 395.7 555.7 399.6 559.7 C403.6 563.7 405.6 572.9 405.6 579.6 C405.6 586.2 403 596.5 399.6 599.5 C396.3 602.5 389 600.8 385.7 597.5 C382.4 594.2 380.4 586.5 379.8 579.6 C379.1 572.6 378.4 559 381.7 555.7Z" fill="#9c866b" filter="url(#bl4)" opacity=".55"/>
<path d="M349.9 569.6 C350.6 572.6 350.2 582.6 353.9 587.5 C357.5 592.5 364.2 596 371.8 599.5 C379.4 603 391.7 605.3 399.6 608.4 C407.6 611.6 413.7 614.9 419.6 618.4 C425.4 621.9 430.3 625.8 434.5 629.3 C438.6 632.8 442.8 637.6 444.4 639.3" fill="none" stroke="#d5bd9b" stroke-width="2.5" filter="url(#bl2)"/>
</g>
<path d="M349.4 571.6 C349.8 568.7 351.2 561.7 352.9 557.7 C354.5 553.7 358.8 545.8 361.8 541.8 C364.9 537.8 372.1 530.8 375.8 527.9 C379.5 524.9 386.3 521.1 389.7 519.9 C393.1 518.6 398.2 518.3 401.6 518.4 C405.1 518.5 411.2 519.5 415.6 520.9 C419.9 522.3 429.3 526.3 434.5 528.9 C439.7 531.4 450.4 537 454.4 539.8 C458.4 542.6 462.3 547.1 464.3 549.7 C466.3 552.4 468.3 556.2 469.3 559.7 C470.3 563.1 471.5 570.3 471.8 575.6 C472.1 580.9 471.8 593.6 471.3 599.5 C470.8 605.3 469.5 614.7 468.3 619.4 C467.1 624 464.2 631.6 462.3 634.3 C460.5 637 456.6 639 454.4 639.8 C452.1 640.5 447.7 640.8 445.4 640.2 C443.2 639.7 439.4 637.1 437.5 635.3 C435.5 633.4 433.2 628.5 430.5 626.3 C427.8 624.2 421.7 621.5 417.6 619.4 C413.4 617.2 404.7 612.5 399.6 610.4 C394.6 608.3 384.7 605.2 379.8 603.5 C374.8 601.7 366.3 599.3 362.8 597.5 C359.4 595.6 355.6 591.9 353.9 589.5 C352.2 587.1 350.5 582 349.9 579.6 C349.3 577.2 349 574.5 349.4 571.6Z" fill="none" stroke="#141414" stroke-width="1.3"/>
</g>
<g transform="translate(305.3 152.5)">
<line x1="420.1" y1="621.9" x2="413.3" y2="654.8" stroke="#141414" stroke-width="8.4" stroke-linecap="round"/>
<line x1="420.1" y1="621.9" x2="413.3" y2="654.8" stroke="#c7b291" stroke-width="6.4" stroke-linecap="round"/>
<line x1="418.9" y1="621.9" x2="412.1" y2="654.8" stroke="#e6d5b4" stroke-width="1.6" stroke-linecap="round"/>
<line x1="460.4" y1="635.8" x2="453.3" y2="673.8" stroke="#141414" stroke-width="8.4" stroke-linecap="round"/>
<line x1="460.4" y1="635.8" x2="453.3" y2="673.8" stroke="#c7b291" stroke-width="6.4" stroke-linecap="round"/>
<line x1="459.2" y1="635.8" x2="452.1" y2="673.8" stroke="#e6d5b4" stroke-width="1.6" stroke-linecap="round"/>
<path d="M406.6 517.9 C404.6 514.7 412.2 516 414.6 515.9 C417 515.9 421.2 516.4 424.5 517.4 C427.8 518.4 434.8 521.3 439.4 523.4 C444.1 525.4 454.8 530.4 459.4 532.8 C463.9 535.3 470.5 539 473.3 541.8 C476.1 544.6 478.8 549.7 480.2 553.7 C481.7 557.7 483.7 567.1 484.2 571.6 C484.8 576.1 484.8 583.6 484.2 587.5 C483.7 591.5 481.4 598.9 480.2 601.5 C479.1 604 476.5 606.4 475.3 606.9 C474.1 607.5 473.4 609.1 471.3 605.4 C469.2 601.8 464.9 588.3 459.4 579.6 C453.8 570.8 436.5 548 429.5 539.8 C422.5 531.6 408.6 521.1 406.6 517.9Z" fill="url(#hrB)" stroke="#141414" stroke-width="1.2"/>
<clipPath id="hrcb"><path d="M349.4 571.6 C349.8 568.7 351.2 561.7 352.9 557.7 C354.5 553.7 358.8 545.8 361.8 541.8 C364.9 537.8 372.1 530.8 375.8 527.9 C379.5 524.9 386.3 521.1 389.7 519.9 C393.1 518.6 398.2 518.3 401.6 518.4 C405.1 518.5 411.2 519.5 415.6 520.9 C419.9 522.3 429.3 526.3 434.5 528.9 C439.7 531.4 450.4 537 454.4 539.8 C458.4 542.6 462.3 547.1 464.3 549.7 C466.3 552.4 468.3 556.2 469.3 559.7 C470.3 563.1 471.5 570.3 471.8 575.6 C472.1 580.9 471.8 593.6 471.3 599.5 C470.8 605.3 469.5 614.7 468.3 619.4 C467.1 624 464.2 631.6 462.3 634.3 C460.5 637 456.6 639 454.4 639.8 C452.1 640.5 447.7 640.8 445.4 640.2 C443.2 639.7 439.4 637.1 437.5 635.3 C435.5 633.4 433.2 628.5 430.5 626.3 C427.8 624.2 421.7 621.5 417.6 619.4 C413.4 617.2 404.7 612.5 399.6 610.4 C394.6 608.3 384.7 605.2 379.8 603.5 C374.8 601.7 366.3 599.3 362.8 597.5 C359.4 595.6 355.6 591.9 353.9 589.5 C352.2 587.1 350.5 582 349.9 579.6 C349.3 577.2 349 574.5 349.4 571.6Z"/></clipPath>
<path d="M349.4 571.6 C349.8 568.7 351.2 561.7 352.9 557.7 C354.5 553.7 358.8 545.8 361.8 541.8 C364.9 537.8 372.1 530.8 375.8 527.9 C379.5 524.9 386.3 521.1 389.7 519.9 C393.1 518.6 398.2 518.3 401.6 518.4 C405.1 518.5 411.2 519.5 415.6 520.9 C419.9 522.3 429.3 526.3 434.5 528.9 C439.7 531.4 450.4 537 454.4 539.8 C458.4 542.6 462.3 547.1 464.3 549.7 C466.3 552.4 468.3 556.2 469.3 559.7 C470.3 563.1 471.5 570.3 471.8 575.6 C472.1 580.9 471.8 593.6 471.3 599.5 C470.8 605.3 469.5 614.7 468.3 619.4 C467.1 624 464.2 631.6 462.3 634.3 C460.5 637 456.6 639 454.4 639.8 C452.1 640.5 447.7 640.8 445.4 640.2 C443.2 639.7 439.4 637.1 437.5 635.3 C435.5 633.4 433.2 628.5 430.5 626.3 C427.8 624.2 421.7 621.5 417.6 619.4 C413.4 617.2 404.7 612.5 399.6 610.4 C394.6 608.3 384.7 605.2 379.8 603.5 C374.8 601.7 366.3 599.3 362.8 597.5 C359.4 595.6 355.6 591.9 353.9 589.5 C352.2 587.1 350.5 582 349.9 579.6 C349.3 577.2 349 574.5 349.4 571.6Z" fill="url(#hrF)"/>
<g clip-path="url(#hrcb)">
<path d="M344.9 559.7 C344.8 556.2 350.9 543.1 354.9 537.8 C358.9 532.5 368.8 523.3 374.8 519.9 C380.7 516.4 392.4 511.9 399.6 511.9 C406.9 511.9 421.5 516.8 429.5 519.9 C437.5 522.9 453.4 530.2 459.4 534.8 C465.3 539.5 472.4 550.1 474.3 554.7 C476.1 559.4 475.8 567.1 473.3 569.6 C470.8 572.1 458.3 574.4 455.4 573.6 C452.5 572.8 453.5 566.8 451.4 563.7 C449.3 560.5 443.7 553.2 439.4 549.7 C435.2 546.3 424.9 540.3 419.6 537.8 C414.2 535.3 404.7 531.6 399.6 530.8 C394.6 530 386.3 529.6 381.7 531.8 C377.2 534.1 369.3 543.5 365.8 547.8 C362.4 552 358.7 562.1 355.9 563.7 C353.1 565.3 345.1 563.1 344.9 559.7Z" fill="#fdf1cf" filter="url(#bl2)"/>
<path d="M385.7 529.8 C388 529.8 394 528.6 399.6 529.8 C405.3 531.1 413.2 534.1 419.6 537.3 C425.9 540.4 432.5 544.7 437.5 548.7 C442.4 552.8 446.7 557.9 449.4 561.7 C452.1 565.4 453.1 569.5 453.9 571.1" fill="none" stroke="#fffef6" stroke-width="3" filter="url(#bl2)"/>
<path d="M455.4 573.6 C457.9 569.6 470.9 564.9 473.3 569.6 C475.7 574.4 474.5 600.1 473.3 609.4 C472.1 618.7 468.2 634.9 464.3 639.3 C460.5 643.6 446.7 644.2 444.4 642.2 C442.2 640.3 446.1 630 447.4 624.3 C448.7 618.6 453.3 606.2 454.4 599.5 C455.4 592.7 452.9 577.6 455.4 573.6Z" fill="#cdb491" filter="url(#bl2)"/>
<path d="M462.3 575.6 C463.8 572.2 471.8 569.1 473.3 573.6 C474.7 578.1 474.3 600.7 473.3 609.4 C472.2 618.2 468.5 635 465.3 639.3 C462.1 643.5 450.3 643.2 449.4 641.2 C448.5 639.3 456.6 629.9 458.4 624.3 C460.1 618.8 461.8 606 462.3 599.5 C462.9 593 460.9 579 462.3 575.6Z" fill="#9a8467" filter="url(#bl2)"/>
<path d="M381.7 555.7 C385.1 552.4 395.7 555.7 399.6 559.7 C403.6 563.7 405.6 572.9 405.6 579.6 C405.6 586.2 403 596.5 399.6 599.5 C396.3 602.5 389 600.8 385.7 597.5 C382.4 594.2 380.4 586.5 379.8 579.6 C379.1 572.6 378.4 559 381.7 555.7Z" fill="#9c866b" filter="url(#bl4)" opacity=".55"/>
<path d="M349.9 569.6 C350.6 572.6 350.2 582.6 353.9 587.5 C357.5 592.5 364.2 596 371.8 599.5 C379.4 603 391.7 605.3 399.6 608.4 C407.6 611.6 413.7 614.9 419.6 618.4 C425.4 621.9 430.3 625.8 434.5 629.3 C438.6 632.8 442.8 637.6 444.4 639.3" fill="none" stroke="#d5bd9b" stroke-width="2.5" filter="url(#bl2)"/>
</g>
<path d="M349.4 571.6 C349.8 568.7 351.2 561.7 352.9 557.7 C354.5 553.7 358.8 545.8 361.8 541.8 C364.9 537.8 372.1 530.8 375.8 527.9 C379.5 524.9 386.3 521.1 389.7 519.9 C393.1 518.6 398.2 518.3 401.6 518.4 C405.1 518.5 411.2 519.5 415.6 520.9 C419.9 522.3 429.3 526.3 434.5 528.9 C439.7 531.4 450.4 537 454.4 539.8 C458.4 542.6 462.3 547.1 464.3 549.7 C466.3 552.4 468.3 556.2 469.3 559.7 C470.3 563.1 471.5 570.3 471.8 575.6 C472.1 580.9 471.8 593.6 471.3 599.5 C470.8 605.3 469.5 614.7 468.3 619.4 C467.1 624 464.2 631.6 462.3 634.3 C460.5 637 456.6 639 454.4 639.8 C452.1 640.5 447.7 640.8 445.4 640.2 C443.2 639.7 439.4 637.1 437.5 635.3 C435.5 633.4 433.2 628.5 430.5 626.3 C427.8 624.2 421.7 621.5 417.6 619.4 C413.4 617.2 404.7 612.5 399.6 610.4 C394.6 608.3 384.7 605.2 379.8 603.5 C374.8 601.7 366.3 599.3 362.8 597.5 C359.4 595.6 355.6 591.9 353.9 589.5 C352.2 587.1 350.5 582 349.9 579.6 C349.3 577.2 349 574.5 349.4 571.6Z" fill="none" stroke="#141414" stroke-width="1.3"/>
</g>
<!-- omat -->
<defs>
<linearGradient id="oUp" gradientUnits="userSpaceOnUse" x1="290" y1="1048" x2="270" y2="1110">
<stop offset="0" stop-color="#ffe47a"/><stop offset="0.3" stop-color="#ffc250"/><stop offset="0.7" stop-color="#f79d35"/><stop offset="1" stop-color="#e08a28"/></linearGradient>
</defs>
<g transform="translate(0 0)">
<path d="M307.5 1062.3 C309.1 1061.4 314.1 1057.2 317 1056.7 C319.9 1056.2 323.1 1056.6 325 1059.1 C326.8 1061.6 327.6 1069.7 328.2 1071.8" fill="none" stroke="#7a4a12" stroke-width="2.6"/>
<path d="M307.5 1062.3 C309.1 1061.4 314.1 1057.2 317 1056.7 C319.9 1056.2 323.1 1056.6 325 1059.1 C326.8 1061.6 327.6 1069.7 328.2 1071.8" fill="none" stroke="#f0a040" stroke-width="1.2"/>
<path d="M253.3 1077.4 L258.1 1059.1 L266.1 1047.2 L272.4 1043.2 L344.1 1079.8 L343.8 1086.2 L336.1 1103.7 L326.6 1120.4 L320.2 1117.2 L313.8 1112.4 L296.3 1106.8 L280.4 1101.3 L278.8 1100.5 L266.9 1094.9 L258.1 1087.8Z" fill="url(#oUp)" stroke="#101010" stroke-width="1.1" stroke-linejoin="round"/>
<path d="M320.2 1117.2 L326.6 1120.4 L324.2 1114.8 L322.6 1112.4Z" fill="#fff" stroke="#101010" stroke-width="0.7"/>
<path d="M269.2 1065.5 C269.7 1065.1 272.8 1062.4 274 1062.3 C275.3 1062.1 281.5 1063.3 282 1063.9 C282.5 1064.4 279.8 1067.4 278.8 1067.8 C277.9 1068.3 272.9 1068.2 272.4 1068.7 C272 1069.1 274.3 1072.1 274 1072.6 C273.7 1073.2 270.2 1073.7 269.2 1074.2 C268.3 1074.8 265.1 1077.2 264.5 1078.2 C263.8 1079.2 262.6 1083 262.9 1084.6 C263.2 1086.2 266.1 1092.5 267.7 1094.1 C269.3 1095.7 277.7 1099.8 278.8 1100.5" fill="none" stroke="#101010" stroke-width="1.3"/>
<path d="M286 1061.5 C287.7 1062.2 293.8 1064.5 296.3 1065.5 C298.8 1066.4 300.4 1067.3 301.1 1067.1 C301.8 1066.8 300.4 1064.4 300.3 1063.9" fill="none" stroke="#101010" stroke-width="1.3"/>
<path d="M304.3 1070.2 C303.7 1069.8 300.6 1068.4 301.1 1067.8 C301.6 1067.3 305.9 1066.8 307.5 1067.1 C309.1 1067.3 310.1 1069 310.6 1069.4" fill="none" stroke="#101010" stroke-width="1.3"/>
<path d="M310.6 1069.4 L315.4 1079.8 L320.2 1094.1 L317 1106.8 L311.4 1112.4" fill="none" stroke="#101010" stroke-width="1.3" stroke-linejoin="round"/>
<ellipse cx="292.7" cy="1088.9" rx="1.6" ry="5" transform="rotate(18 292.7 1088.9)" fill="#d88a2a" stroke="#101010" stroke-width="0.8"/>
<path d="M280.7 1092.8 L298.2 1100.2 L297.6 1106 L280.1 1099.2Z" fill="#fff" stroke="#101010" stroke-width="0.9"/>
<path d="M235.8 1145.8 L264.5 1140.3 L264.8 1148.2 L261.6 1151.7 L237.4 1155.7 L235.5 1154.6Z" fill="#b8701e" stroke="#101010" stroke-width="1" stroke-linejoin="round"/>
<path d="M125.2 1081.7 L133.9 1079.8 L138.7 1086.2 L132.3 1087.8Z" fill="#b8701e" stroke="#101010" stroke-width="0.9"/>
<path d="M56.7 1082.2 L68.7 1079.8 L103.7 1078.2 L113.2 1079.3 L126 1081.7 L131.1 1079.2 L155.9 1078.4 L157 1076.6 L159.4 1078.4 L221.5 1070.2 L267.7 1094.1 L266.1 1095.7 L278.8 1101.3 L343.3 1131 L339.3 1132.6 L278.8 1138.7 L274 1137.1 L264.5 1140.6 L254.9 1141.9 L254.1 1145.8 L245.4 1147.4 L243.8 1144.2 L199.2 1154.6 L192.8 1153.3 L57.8 1086.5Z" fill="#ffa23c" stroke="#101010" stroke-width="1.1" stroke-linejoin="round"/>
<path d="M83.8 1085.4 C85.2 1086.6 89.2 1089.9 92.5 1092.5 C95.9 1095.2 99.2 1099.3 103.7 1101.3 C108.2 1103.3 113.6 1103.5 119.6 1104.5 C125.6 1105.4 136.2 1106.4 139.5 1106.8" fill="none" stroke="#101010" stroke-width="7.2" stroke-linecap="round" stroke-linejoin="round"/>
<path d="M83.8 1085.4 C85.2 1086.6 89.2 1089.9 92.5 1092.5 C95.9 1095.2 99.2 1099.3 103.7 1101.3 C108.2 1103.3 113.6 1103.5 119.6 1104.5 C125.6 1105.4 136.2 1106.4 139.5 1106.8" fill="none" stroke="#ffa23c" stroke-width="4.4" stroke-linecap="round" stroke-linejoin="round"/>
<path d="M107.7 1087.8 C109.1 1088.7 113.4 1091.3 116.4 1093.3 C119.5 1095.3 121.7 1098.1 126 1099.7 C130.2 1101.3 136.4 1101.9 141.9 1102.9 C147.3 1103.8 155.8 1104.9 158.6 1105.2" fill="none" stroke="#101010" stroke-width="7.2" stroke-linecap="round" stroke-linejoin="round"/>
<path d="M107.7 1087.8 C109.1 1088.7 113.4 1091.3 116.4 1093.3 C119.5 1095.3 121.7 1098.1 126 1099.7 C130.2 1101.3 136.4 1101.9 141.9 1102.9 C147.3 1103.8 155.8 1104.9 158.6 1105.2" fill="none" stroke="#ffa23c" stroke-width="4.4" stroke-linecap="round" stroke-linejoin="round"/>
<path d="M157 1118 C158.5 1119 162.7 1122 165.8 1124.3 C168.8 1126.7 171.1 1129.9 175.3 1132.3 C179.6 1134.7 186.2 1136.8 191.2 1138.7 C196.3 1140.5 203.2 1142.7 205.6 1143.5" fill="none" stroke="#101010" stroke-width="7.2" stroke-linecap="round" stroke-linejoin="round"/>
<path d="M157 1118 C158.5 1119 162.7 1122 165.8 1124.3 C168.8 1126.7 171.1 1129.9 175.3 1132.3 C179.6 1134.7 186.2 1136.8 191.2 1138.7 C196.3 1140.5 203.2 1142.7 205.6 1143.5" fill="none" stroke="#ffa23c" stroke-width="4.4" stroke-linecap="round" stroke-linejoin="round"/>
<path d="M176.1 1116.4 C177.6 1117.5 182.1 1120.6 184.9 1122.8 C187.7 1124.9 189.9 1127.3 192.8 1129.1 C195.8 1131 199.3 1132.6 202.4 1133.9 C205.4 1135.2 209.7 1136.5 211.1 1137.1" fill="none" stroke="#101010" stroke-width="7.2" stroke-linecap="round" stroke-linejoin="round"/>
<path d="M176.1 1116.4 C177.6 1117.5 182.1 1120.6 184.9 1122.8 C187.7 1124.9 189.9 1127.3 192.8 1129.1 C195.8 1131 199.3 1132.6 202.4 1133.9 C205.4 1135.2 209.7 1136.5 211.1 1137.1" fill="none" stroke="#ffa23c" stroke-width="4.4" stroke-linecap="round" stroke-linejoin="round"/>
<path d="M165 1083.3 C166.2 1084.2 169.9 1086.7 172.1 1088.5 C174.4 1090.3 176.4 1092.8 178.5 1094.1 C180.6 1095.4 182.9 1095.8 184.9 1096.5 C186.9 1097.2 189.5 1098.2 190.4 1098.6" fill="none" stroke="#101010" stroke-width="7.2" stroke-linecap="round" stroke-linejoin="round"/>
<path d="M165 1083.3 C166.2 1084.2 169.9 1086.7 172.1 1088.5 C174.4 1090.3 176.4 1092.8 178.5 1094.1 C180.6 1095.4 182.9 1095.8 184.9 1096.5 C186.9 1097.2 189.5 1098.2 190.4 1098.6" fill="none" stroke="#ffa23c" stroke-width="4.4" stroke-linecap="round" stroke-linejoin="round"/>
<path d="M180.9 1080.6 C182.1 1081.5 185.8 1084.4 188.1 1086.2 C190.3 1087.9 192.3 1089.7 194.4 1090.9 C196.6 1092.1 198.8 1092.5 200.8 1093.3 C202.8 1094.1 205.4 1095.3 206.4 1095.7" fill="none" stroke="#101010" stroke-width="7.2" stroke-linecap="round" stroke-linejoin="round"/>
<path d="M180.9 1080.6 C182.1 1081.5 185.8 1084.4 188.1 1086.2 C190.3 1087.9 192.3 1089.7 194.4 1090.9 C196.6 1092.1 198.8 1092.5 200.8 1093.3 C202.8 1094.1 205.4 1095.3 206.4 1095.7" fill="none" stroke="#ffa23c" stroke-width="4.4" stroke-linecap="round" stroke-linejoin="round"/>
<path d="M198.4 1079 C199.6 1079.9 203.3 1082.5 205.6 1084.2 C207.8 1086 209.8 1088 211.9 1089.3 C214.1 1090.7 216.5 1091.3 218.3 1092.2 C220.2 1093.1 222.3 1094.2 223.1 1094.6" fill="none" stroke="#101010" stroke-width="7.2" stroke-linecap="round" stroke-linejoin="round"/>
<path d="M198.4 1079 C199.6 1079.9 203.3 1082.5 205.6 1084.2 C207.8 1086 209.8 1088 211.9 1089.3 C214.1 1090.7 216.5 1091.3 218.3 1092.2 C220.2 1093.1 222.3 1094.2 223.1 1094.6" fill="none" stroke="#ffa23c" stroke-width="4.4" stroke-linecap="round" stroke-linejoin="round"/>
<path d="M215.9 1078.2 C217.1 1079 220.6 1081.2 223.1 1083 C225.6 1084.7 227.6 1086.8 231 1088.5 C234.5 1090.3 239.9 1091.9 243.8 1093.3 C247.6 1094.7 252.4 1096.4 254.1 1097" fill="none" stroke="#101010" stroke-width="7.2" stroke-linecap="round" stroke-linejoin="round"/>
<path d="M215.9 1078.2 C217.1 1079 220.6 1081.2 223.1 1083 C225.6 1084.7 227.6 1086.8 231 1088.5 C234.5 1090.3 239.9 1091.9 243.8 1093.3 C247.6 1094.7 252.4 1096.4 254.1 1097" fill="none" stroke="#ffa23c" stroke-width="4.4" stroke-linecap="round" stroke-linejoin="round"/>
<path d="M222.3 1116.4 C223.6 1117.3 227.7 1120.2 230.2 1122 C232.8 1123.8 233.8 1125.9 237.4 1127.2 C241 1128.5 247 1129.1 251.7 1129.9 C256.5 1130.8 263.7 1131.9 266.1 1132.3" fill="none" stroke="#101010" stroke-width="7.2" stroke-linecap="round" stroke-linejoin="round"/>
<path d="M222.3 1116.4 C223.6 1117.3 227.7 1120.2 230.2 1122 C232.8 1123.8 233.8 1125.9 237.4 1127.2 C241 1128.5 247 1129.1 251.7 1129.9 C256.5 1130.8 263.7 1131.9 266.1 1132.3" fill="none" stroke="#ffa23c" stroke-width="4.4" stroke-linecap="round" stroke-linejoin="round"/>
<path d="M239 1114.8 C240.3 1115.6 244.3 1118 247 1119.6 C249.6 1121.2 250.9 1123 254.9 1124.3 C258.9 1125.7 265.7 1126.5 270.9 1127.5 C276 1128.6 283.5 1130.2 286 1130.7" fill="none" stroke="#101010" stroke-width="7.2" stroke-linecap="round" stroke-linejoin="round"/>
<path d="M239 1114.8 C240.3 1115.6 244.3 1118 247 1119.6 C249.6 1121.2 250.9 1123 254.9 1124.3 C258.9 1125.7 265.7 1126.5 270.9 1127.5 C276 1128.6 283.5 1130.2 286 1130.7" fill="none" stroke="#ffa23c" stroke-width="4.4" stroke-linecap="round" stroke-linejoin="round"/>
<path d="M255.7 1113.2 C257 1114 261.2 1116.4 263.7 1118 C266.2 1119.6 267 1121.4 270.9 1122.8 C274.7 1124.1 281.6 1124.9 286.8 1125.9 C291.9 1127 299.4 1128.6 301.9 1129.1" fill="none" stroke="#101010" stroke-width="7.2" stroke-linecap="round" stroke-linejoin="round"/>
<path d="M255.7 1113.2 C257 1114 261.2 1116.4 263.7 1118 C266.2 1119.6 267 1121.4 270.9 1122.8 C274.7 1124.1 281.6 1124.9 286.8 1125.9 C291.9 1127 299.4 1128.6 301.9 1129.1" fill="none" stroke="#ffa23c" stroke-width="4.4" stroke-linecap="round" stroke-linejoin="round"/>
<path d="M266.9 1105.2 C268.3 1106.2 272.8 1109 275.6 1110.8 C278.4 1112.7 279.3 1114.7 283.6 1116.4 C287.8 1118.1 295.6 1119.6 301.1 1121.2 C306.5 1122.8 313.7 1125.1 316.2 1125.9" fill="none" stroke="#101010" stroke-width="7.2" stroke-linecap="round" stroke-linejoin="round"/>
<path d="M266.9 1105.2 C268.3 1106.2 272.8 1109 275.6 1110.8 C278.4 1112.7 279.3 1114.7 283.6 1116.4 C287.8 1118.1 295.6 1119.6 301.1 1121.2 C306.5 1122.8 313.7 1125.1 316.2 1125.9" fill="none" stroke="#ffa23c" stroke-width="4.4" stroke-linecap="round" stroke-linejoin="round"/>
<path d="M113.2 1079.8 C114.8 1081.1 119.1 1085.2 122.8 1087.8 C126.5 1090.3 130.7 1092.7 135.5 1094.9 C140.3 1097.2 147.2 1099.3 151.4 1101.3 C155.7 1103.3 159.4 1105.9 161 1106.8" fill="none" stroke="#101010" stroke-width="1.4"/>
<path d="M135.5 1110 C137.1 1111.1 141.6 1113.2 145.1 1116.4 C148.5 1119.6 150.9 1125.4 156.2 1129.1 C161.5 1132.8 168.4 1136 176.9 1138.7 C185.4 1141.3 202.1 1144 207.2 1145" fill="none" stroke="#101010" stroke-width="1.4"/>
<path d="M141.9 1083 C143.5 1083.5 148.3 1084.3 151.4 1086.2 C154.6 1088 156.8 1091.9 161 1094.1 C165.2 1096.4 171.6 1098.6 176.9 1099.7 C182.2 1100.7 190.2 1100.3 192.8 1100.5" fill="none" stroke="#101010" stroke-width="1.4"/>
<path d="M285.2 1105.2 C286.8 1106.3 291 1109.5 294.7 1111.6 C298.4 1113.7 303.5 1116.1 307.5 1118 C311.4 1119.8 316.8 1122 318.6 1122.8" fill="none" stroke="#101010" stroke-width="1.4"/>
<path d="M215.1 1129.1 C219.1 1130.4 232.6 1136 239 1137.1 C245.4 1138.1 250.1 1135.5 253.3 1135.5 C256.5 1135.5 257.2 1135.8 258.1 1137.1 C259 1138.4 258.8 1142.4 258.9 1143.5" fill="none" stroke="#101010" stroke-width="1.4"/>
<line x1="57.8" y1="1086.5" x2="192.8" y2="1153.3" stroke="#6b3d08" stroke-width="1.6"/>
<path d="M135.5 1085.4 L141.9 1086.5 L253.3 1143.1 L247.8 1146.3 L245.4 1146.3 L135.2 1088.1Z" fill="#fff" stroke="#101010" stroke-width="0.9" stroke-linejoin="round"/>
</g>
<g transform="translate(305 151.5)">
<path d="M307.5 1062.3 C309.1 1061.4 314.1 1057.2 317 1056.7 C319.9 1056.2 323.1 1056.6 325 1059.1 C326.8 1061.6 327.6 1069.7 328.2 1071.8" fill="none" stroke="#7a4a12" stroke-width="2.6"/>
<path d="M307.5 1062.3 C309.1 1061.4 314.1 1057.2 317 1056.7 C319.9 1056.2 323.1 1056.6 325 1059.1 C326.8 1061.6 327.6 1069.7 328.2 1071.8" fill="none" stroke="#f0a040" stroke-width="1.2"/>
<path d="M253.3 1077.4 L258.1 1059.1 L266.1 1047.2 L272.4 1043.2 L344.1 1079.8 L343.8 1086.2 L336.1 1103.7 L326.6 1120.4 L320.2 1117.2 L313.8 1112.4 L296.3 1106.8 L280.4 1101.3 L278.8 1100.5 L266.9 1094.9 L258.1 1087.8Z" fill="url(#oUp)" stroke="#101010" stroke-width="1.1" stroke-linejoin="round"/>
<path d="M320.2 1117.2 L326.6 1120.4 L324.2 1114.8 L322.6 1112.4Z" fill="#fff" stroke="#101010" stroke-width="0.7"/>
<path d="M269.2 1065.5 C269.7 1065.1 272.8 1062.4 274 1062.3 C275.3 1062.1 281.5 1063.3 282 1063.9 C282.5 1064.4 279.8 1067.4 278.8 1067.8 C277.9 1068.3 272.9 1068.2 272.4 1068.7 C272 1069.1 274.3 1072.1 274 1072.6 C273.7 1073.2 270.2 1073.7 269.2 1074.2 C268.3 1074.8 265.1 1077.2 264.5 1078.2 C263.8 1079.2 262.6 1083 262.9 1084.6 C263.2 1086.2 266.1 1092.5 267.7 1094.1 C269.3 1095.7 277.7 1099.8 278.8 1100.5" fill="none" stroke="#101010" stroke-width="1.3"/>
<path d="M286 1061.5 C287.7 1062.2 293.8 1064.5 296.3 1065.5 C298.8 1066.4 300.4 1067.3 301.1 1067.1 C301.8 1066.8 300.4 1064.4 300.3 1063.9" fill="none" stroke="#101010" stroke-width="1.3"/>
<path d="M304.3 1070.2 C303.7 1069.8 300.6 1068.4 301.1 1067.8 C301.6 1067.3 305.9 1066.8 307.5 1067.1 C309.1 1067.3 310.1 1069 310.6 1069.4" fill="none" stroke="#101010" stroke-width="1.3"/>
<path d="M310.6 1069.4 L315.4 1079.8 L320.2 1094.1 L317 1106.8 L311.4 1112.4" fill="none" stroke="#101010" stroke-width="1.3" stroke-linejoin="round"/>
<ellipse cx="292.7" cy="1088.9" rx="1.6" ry="5" transform="rotate(18 292.7 1088.9)" fill="#d88a2a" stroke="#101010" stroke-width="0.8"/>
<path d="M280.7 1092.8 L298.2 1100.2 L297.6 1106 L280.1 1099.2Z" fill="#fff" stroke="#101010" stroke-width="0.9"/>
<path d="M235.8 1145.8 L264.5 1140.3 L264.8 1148.2 L261.6 1151.7 L237.4 1155.7 L235.5 1154.6Z" fill="#b8701e" stroke="#101010" stroke-width="1" stroke-linejoin="round"/>
<path d="M125.2 1081.7 L133.9 1079.8 L138.7 1086.2 L132.3 1087.8Z" fill="#b8701e" stroke="#101010" stroke-width="0.9"/>
<path d="M56.7 1082.2 L68.7 1079.8 L103.7 1078.2 L113.2 1079.3 L126 1081.7 L131.1 1079.2 L155.9 1078.4 L157 1076.6 L159.4 1078.4 L221.5 1070.2 L267.7 1094.1 L266.1 1095.7 L278.8 1101.3 L343.3 1131 L339.3 1132.6 L278.8 1138.7 L274 1137.1 L264.5 1140.6 L254.9 1141.9 L254.1 1145.8 L245.4 1147.4 L243.8 1144.2 L199.2 1154.6 L192.8 1153.3 L57.8 1086.5Z" fill="#ffa23c" stroke="#101010" stroke-width="1.1" stroke-linejoin="round"/>
<path d="M83.8 1085.4 C85.2 1086.6 89.2 1089.9 92.5 1092.5 C95.9 1095.2 99.2 1099.3 103.7 1101.3 C108.2 1103.3 113.6 1103.5 119.6 1104.5 C125.6 1105.4 136.2 1106.4 139.5 1106.8" fill="none" stroke="#101010" stroke-width="7.2" stroke-linecap="round" stroke-linejoin="round"/>
<path d="M83.8 1085.4 C85.2 1086.6 89.2 1089.9 92.5 1092.5 C95.9 1095.2 99.2 1099.3 103.7 1101.3 C108.2 1103.3 113.6 1103.5 119.6 1104.5 C125.6 1105.4 136.2 1106.4 139.5 1106.8" fill="none" stroke="#ffa23c" stroke-width="4.4" stroke-linecap="round" stroke-linejoin="round"/>
<path d="M107.7 1087.8 C109.1 1088.7 113.4 1091.3 116.4 1093.3 C119.5 1095.3 121.7 1098.1 126 1099.7 C130.2 1101.3 136.4 1101.9 141.9 1102.9 C147.3 1103.8 155.8 1104.9 158.6 1105.2" fill="none" stroke="#101010" stroke-width="7.2" stroke-linecap="round" stroke-linejoin="round"/>
<path d="M107.7 1087.8 C109.1 1088.7 113.4 1091.3 116.4 1093.3 C119.5 1095.3 121.7 1098.1 126 1099.7 C130.2 1101.3 136.4 1101.9 141.9 1102.9 C147.3 1103.8 155.8 1104.9 158.6 1105.2" fill="none" stroke="#ffa23c" stroke-width="4.4" stroke-linecap="round" stroke-linejoin="round"/>
<path d="M157 1118 C158.5 1119 162.7 1122 165.8 1124.3 C168.8 1126.7 171.1 1129.9 175.3 1132.3 C179.6 1134.7 186.2 1136.8 191.2 1138.7 C196.3 1140.5 203.2 1142.7 205.6 1143.5" fill="none" stroke="#101010" stroke-width="7.2" stroke-linecap="round" stroke-linejoin="round"/>
<path d="M157 1118 C158.5 1119 162.7 1122 165.8 1124.3 C168.8 1126.7 171.1 1129.9 175.3 1132.3 C179.6 1134.7 186.2 1136.8 191.2 1138.7 C196.3 1140.5 203.2 1142.7 205.6 1143.5" fill="none" stroke="#ffa23c" stroke-width="4.4" stroke-linecap="round" stroke-linejoin="round"/>
<path d="M176.1 1116.4 C177.6 1117.5 182.1 1120.6 184.9 1122.8 C187.7 1124.9 189.9 1127.3 192.8 1129.1 C195.8 1131 199.3 1132.6 202.4 1133.9 C205.4 1135.2 209.7 1136.5 211.1 1137.1" fill="none" stroke="#101010" stroke-width="7.2" stroke-linecap="round" stroke-linejoin="round"/>
<path d="M176.1 1116.4 C177.6 1117.5 182.1 1120.6 184.9 1122.8 C187.7 1124.9 189.9 1127.3 192.8 1129.1 C195.8 1131 199.3 1132.6 202.4 1133.9 C205.4 1135.2 209.7 1136.5 211.1 1137.1" fill="none" stroke="#ffa23c" stroke-width="4.4" stroke-linecap="round" stroke-linejoin="round"/>
<path d="M165 1083.3 C166.2 1084.2 169.9 1086.7 172.1 1088.5 C174.4 1090.3 176.4 1092.8 178.5 1094.1 C180.6 1095.4 182.9 1095.8 184.9 1096.5 C186.9 1097.2 189.5 1098.2 190.4 1098.6" fill="none" stroke="#101010" stroke-width="7.2" stroke-linecap="round" stroke-linejoin="round"/>
<path d="M165 1083.3 C166.2 1084.2 169.9 1086.7 172.1 1088.5 C174.4 1090.3 176.4 1092.8 178.5 1094.1 C180.6 1095.4 182.9 1095.8 184.9 1096.5 C186.9 1097.2 189.5 1098.2 190.4 1098.6" fill="none" stroke="#ffa23c" stroke-width="4.4" stroke-linecap="round" stroke-linejoin="round"/>
<path d="M180.9 1080.6 C182.1 1081.5 185.8 1084.4 188.1 1086.2 C190.3 1087.9 192.3 1089.7 194.4 1090.9 C196.6 1092.1 198.8 1092.5 200.8 1093.3 C202.8 1094.1 205.4 1095.3 206.4 1095.7" fill="none" stroke="#101010" stroke-width="7.2" stroke-linecap="round" stroke-linejoin="round"/>
<path d="M180.9 1080.6 C182.1 1081.5 185.8 1084.4 188.1 1086.2 C190.3 1087.9 192.3 1089.7 194.4 1090.9 C196.6 1092.1 198.8 1092.5 200.8 1093.3 C202.8 1094.1 205.4 1095.3 206.4 1095.7" fill="none" stroke="#ffa23c" stroke-width="4.4" stroke-linecap="round" stroke-linejoin="round"/>
<path d="M198.4 1079 C199.6 1079.9 203.3 1082.5 205.6 1084.2 C207.8 1086 209.8 1088 211.9 1089.3 C214.1 1090.7 216.5 1091.3 218.3 1092.2 C220.2 1093.1 222.3 1094.2 223.1 1094.6" fill="none" stroke="#101010" stroke-width="7.2" stroke-linecap="round" stroke-linejoin="round"/>
<path d="M198.4 1079 C199.6 1079.9 203.3 1082.5 205.6 1084.2 C207.8 1086 209.8 1088 211.9 1089.3 C214.1 1090.7 216.5 1091.3 218.3 1092.2 C220.2 1093.1 222.3 1094.2 223.1 1094.6" fill="none" stroke="#ffa23c" stroke-width="4.4" stroke-linecap="round" stroke-linejoin="round"/>
<path d="M215.9 1078.2 C217.1 1079 220.6 1081.2 223.1 1083 C225.6 1084.7 227.6 1086.8 231 1088.5 C234.5 1090.3 239.9 1091.9 243.8 1093.3 C247.6 1094.7 252.4 1096.4 254.1 1097" fill="none" stroke="#101010" stroke-width="7.2" stroke-linecap="round" stroke-linejoin="round"/>
<path d="M215.9 1078.2 C217.1 1079 220.6 1081.2 223.1 1083 C225.6 1084.7 227.6 1086.8 231 1088.5 C234.5 1090.3 239.9 1091.9 243.8 1093.3 C247.6 1094.7 252.4 1096.4 254.1 1097" fill="none" stroke="#ffa23c" stroke-width="4.4" stroke-linecap="round" stroke-linejoin="round"/>
<path d="M222.3 1116.4 C223.6 1117.3 227.7 1120.2 230.2 1122 C232.8 1123.8 233.8 1125.9 237.4 1127.2 C241 1128.5 247 1129.1 251.7 1129.9 C256.5 1130.8 263.7 1131.9 266.1 1132.3" fill="none" stroke="#101010" stroke-width="7.2" stroke-linecap="round" stroke-linejoin="round"/>
<path d="M222.3 1116.4 C223.6 1117.3 227.7 1120.2 230.2 1122 C232.8 1123.8 233.8 1125.9 237.4 1127.2 C241 1128.5 247 1129.1 251.7 1129.9 C256.5 1130.8 263.7 1131.9 266.1 1132.3" fill="none" stroke="#ffa23c" stroke-width="4.4" stroke-linecap="round" stroke-linejoin="round"/>
<path d="M239 1114.8 C240.3 1115.6 244.3 1118 247 1119.6 C249.6 1121.2 250.9 1123 254.9 1124.3 C258.9 1125.7 265.7 1126.5 270.9 1127.5 C276 1128.6 283.5 1130.2 286 1130.7" fill="none" stroke="#101010" stroke-width="7.2" stroke-linecap="round" stroke-linejoin="round"/>
<path d="M239 1114.8 C240.3 1115.6 244.3 1118 247 1119.6 C249.6 1121.2 250.9 1123 254.9 1124.3 C258.9 1125.7 265.7 1126.5 270.9 1127.5 C276 1128.6 283.5 1130.2 286 1130.7" fill="none" stroke="#ffa23c" stroke-width="4.4" stroke-linecap="round" stroke-linejoin="round"/>
<path d="M255.7 1113.2 C257 1114 261.2 1116.4 263.7 1118 C266.2 1119.6 267 1121.4 270.9 1122.8 C274.7 1124.1 281.6 1124.9 286.8 1125.9 C291.9 1127 299.4 1128.6 301.9 1129.1" fill="none" stroke="#101010" stroke-width="7.2" stroke-linecap="round" stroke-linejoin="round"/>
<path d="M255.7 1113.2 C257 1114 261.2 1116.4 263.7 1118 C266.2 1119.6 267 1121.4 270.9 1122.8 C274.7 1124.1 281.6 1124.9 286.8 1125.9 C291.9 1127 299.4 1128.6 301.9 1129.1" fill="none" stroke="#ffa23c" stroke-width="4.4" stroke-linecap="round" stroke-linejoin="round"/>
<path d="M266.9 1105.2 C268.3 1106.2 272.8 1109 275.6 1110.8 C278.4 1112.7 279.3 1114.7 283.6 1116.4 C287.8 1118.1 295.6 1119.6 301.1 1121.2 C306.5 1122.8 313.7 1125.1 316.2 1125.9" fill="none" stroke="#101010" stroke-width="7.2" stroke-linecap="round" stroke-linejoin="round"/>
<path d="M266.9 1105.2 C268.3 1106.2 272.8 1109 275.6 1110.8 C278.4 1112.7 279.3 1114.7 283.6 1116.4 C287.8 1118.1 295.6 1119.6 301.1 1121.2 C306.5 1122.8 313.7 1125.1 316.2 1125.9" fill="none" stroke="#ffa23c" stroke-width="4.4" stroke-linecap="round" stroke-linejoin="round"/>
<path d="M113.2 1079.8 C114.8 1081.1 119.1 1085.2 122.8 1087.8 C126.5 1090.3 130.7 1092.7 135.5 1094.9 C140.3 1097.2 147.2 1099.3 151.4 1101.3 C155.7 1103.3 159.4 1105.9 161 1106.8" fill="none" stroke="#101010" stroke-width="1.4"/>
<path d="M135.5 1110 C137.1 1111.1 141.6 1113.2 145.1 1116.4 C148.5 1119.6 150.9 1125.4 156.2 1129.1 C161.5 1132.8 168.4 1136 176.9 1138.7 C185.4 1141.3 202.1 1144 207.2 1145" fill="none" stroke="#101010" stroke-width="1.4"/>
<path d="M141.9 1083 C143.5 1083.5 148.3 1084.3 151.4 1086.2 C154.6 1088 156.8 1091.9 161 1094.1 C165.2 1096.4 171.6 1098.6 176.9 1099.7 C182.2 1100.7 190.2 1100.3 192.8 1100.5" fill="none" stroke="#101010" stroke-width="1.4"/>
<path d="M285.2 1105.2 C286.8 1106.3 291 1109.5 294.7 1111.6 C298.4 1113.7 303.5 1116.1 307.5 1118 C311.4 1119.8 316.8 1122 318.6 1122.8" fill="none" stroke="#101010" stroke-width="1.4"/>
<path d="M215.1 1129.1 C219.1 1130.4 232.6 1136 239 1137.1 C245.4 1138.1 250.1 1135.5 253.3 1135.5 C256.5 1135.5 257.2 1135.8 258.1 1137.1 C259 1138.4 258.8 1142.4 258.9 1143.5" fill="none" stroke="#101010" stroke-width="1.4"/>
<line x1="57.8" y1="1086.5" x2="192.8" y2="1153.3" stroke="#6b3d08" stroke-width="1.6"/>
<path d="M135.5 1085.4 L141.9 1086.5 L253.3 1143.1 L247.8 1146.3 L245.4 1146.3 L135.2 1088.1Z" fill="#fff" stroke="#101010" stroke-width="0.9" stroke-linejoin="round"/>
</g>
<g >
<path d="M136 1196.5 L153 1199.5 L152.5 1213.5 L147 1217.5 L137 1211.5Z" fill="#a8961a" stroke="#101010" stroke-width="0.9" stroke-linejoin="round"/>
<path d="M141 1205.5 L147 1206.5 L147 1210.5 L141 1209.5Z" fill="#3a3208"/>
<ellipse cx="144" cy="1196.5" rx="10.2" ry="6.6" transform="rotate(12 144 1196.5)" fill="#8f7f12" stroke="#101010" stroke-width="0.9"/>
<ellipse cx="144" cy="1195.3" rx="9.6" ry="5.6" transform="rotate(12 144 1195.3)" fill="#f0e24e" stroke="#101010" stroke-width="0.8"/>
<ellipse cx="144.5" cy="1196.3" rx="6.6" ry="3.4" transform="rotate(12 144.5 1196.3)" fill="#b9a61e" stroke="#5c520c" stroke-width="0.7"/>
</g>
<g >
<path d="M440.5 1348.5 L457.5 1351.5 L457 1365.5 L451.5 1369.5 L441.5 1363.5Z" fill="#a8961a" stroke="#101010" stroke-width="0.9" stroke-linejoin="round"/>
<path d="M445.5 1357.5 L451.5 1358.5 L451.5 1362.5 L445.5 1361.5Z" fill="#3a3208"/>
<ellipse cx="448.5" cy="1348.5" rx="10.2" ry="6.6" transform="rotate(12 448.5 1348.5)" fill="#8f7f12" stroke="#101010" stroke-width="0.9"/>
<ellipse cx="448.5" cy="1347.3" rx="9.6" ry="5.6" transform="rotate(12 448.5 1347.3)" fill="#f0e24e" stroke="#101010" stroke-width="0.8"/>
<ellipse cx="449" cy="1348.3" rx="6.6" ry="3.4" transform="rotate(12 449 1348.3)" fill="#b9a61e" stroke="#5c520c" stroke-width="0.7"/>
</g>
<!-- mat -->
<defs>
<linearGradient id="matG" gradientUnits="userSpaceOnUse" x1="318" y1="1000" x2="300" y2="1048">
<stop offset="0" stop-color="#9bc2e3"/><stop offset="0.35" stop-color="#8fb4d3"/><stop offset="0.62" stop-color="#6a879f"/><stop offset="0.85" stop-color="#4c5e70"/><stop offset="1" stop-color="#465665"/></linearGradient>
</defs>
<g transform="translate(0 0)">
<path d="M296.9 878.9 L290.9 892.6 L292.3 895 L286.1 905.8 L288.8 910.6 L282.5 911.1 L276.6 927.3 L265.8 958.2 L253.9 991.6 L248.9 1005.9 L249.1 1015.5 L253.9 1025 L261.3 1030 L360.1 1080 L364.9 1081.1 L373.3 1081.4 L375.1 1080.5 L364.9 1077.6 L360.4 1071.6 L359 1063.2 L361.3 1051.3 L368.5 1027.4 L392.4 967.8 L390 961.8 L396 960 L395.4 955.8 L399.6 947.5 L406.7 948.6 L415.7 910.6 L417.7 910.3 L419.2 902.8 L411.5 900.4 L406.7 918.3Z" fill="url(#matG)" stroke="#101010" stroke-width="1.1" stroke-linejoin="round"/>
<path d="M330.3 800.1 L372.7 821.6 L372.1 827.6 L376.9 824 L419.9 845.5 L418.1 861.6 L411.5 900.4 L406.7 918.3 L304 867.6 L302.8 862.2 L307.6 849.7 L310 849.7Z" fill="#8db1cf" stroke="#101010" stroke-width="1.1" stroke-linejoin="round"/>
<path d="M401.9 892.6 C401.7 893.7 407.8 906 409.1 909.4 C410.4 912.7 412.7 918.5 412.7 921.3 C412.7 924.1 410.4 931 409.1 933.2 C407.8 935.5 402.2 938.6 401.9 940.4 C401.7 942.2 405.1 952.2 406.7 948.8 C408.3 945.3 414.2 915.9 415.7 910.6 C417.1 905.2 419.7 904 419.2 902.8 C418.8 901.6 413.5 901.6 411.5 900.4 C409.5 899.2 402.2 891.6 401.9 892.6Z" fill="#5e7890" opacity=".85"/>
<path d="M328.9 830 L331.5 866.4" fill="none" stroke="#101010" stroke-width="11.6" stroke-linecap="round" stroke-linejoin="round"/>
<path d="M328.9 830 L331.5 866.4" fill="none" stroke="#8db1cf" stroke-width="8.6" stroke-linecap="round" stroke-linejoin="round"/>
<path d="M346.8 830 L350.4 871.2" fill="none" stroke="#101010" stroke-width="11.6" stroke-linecap="round" stroke-linejoin="round"/>
<path d="M346.8 830 L350.4 871.2" fill="none" stroke="#8db1cf" stroke-width="8.6" stroke-linecap="round" stroke-linejoin="round"/>
<path d="M390.6 851.5 L369.1 862.2" fill="none" stroke="#101010" stroke-width="11.6" stroke-linecap="round" stroke-linejoin="round"/>
<path d="M390.6 851.5 L369.1 862.2" fill="none" stroke="#8db1cf" stroke-width="8.6" stroke-linecap="round" stroke-linejoin="round"/>
<path d="M405.3 867 L369.1 879.3" fill="none" stroke="#101010" stroke-width="11.6" stroke-linecap="round" stroke-linejoin="round"/>
<path d="M405.3 867 L369.1 879.3" fill="none" stroke="#8db1cf" stroke-width="8.6" stroke-linecap="round" stroke-linejoin="round"/>
<path d="M386.4 892.9 L399.6 891.5" fill="none" stroke="#101010" stroke-width="10.0" stroke-linecap="round" stroke-linejoin="round"/>
<path d="M386.4 892.9 L399.6 891.5" fill="none" stroke="#8db1cf" stroke-width="7.0" stroke-linecap="round" stroke-linejoin="round"/>
<path d="M304 860.4 L320.8 852.1 L325.5 859.2 L329.1 867.6" fill="none" stroke="#101010" stroke-width="1.5" stroke-linejoin="round"/>
<path d="M350.6 831.8 L361.3 860.4 L367.3 862.8" fill="none" stroke="#101010" stroke-width="1.5" stroke-linejoin="round"/>
<path d="M399.6 891.5 C400.5 893.6 403.7 900.4 405.5 904.6 C407.3 908.8 409.7 912.6 410.3 916.5 C410.9 920.5 410.5 925.1 409.1 928.5 C407.7 931.8 405.7 934.4 401.9 936.8 C398.2 939.2 389.8 942.4 386.4 942.8 C383 943.2 382.4 939.8 381.6 939.2" fill="none" stroke="#101010" stroke-width="1.5"/>
<path d="M289.1 925.6 L315.4 917.6 L331.5 929" fill="none" stroke="#101010" stroke-width="12.0" stroke-linecap="round" stroke-linejoin="round"/>
<path d="M289.1 925.6 L315.4 917.6 L331.5 929" fill="none" stroke="url(#matG)" stroke-width="9.0" stroke-linecap="round" stroke-linejoin="round"/>
<path d="M279 949.6 L306.4 941.5 L323.1 953.4" fill="none" stroke="#101010" stroke-width="12.0" stroke-linecap="round" stroke-linejoin="round"/>
<path d="M279 949.6 L306.4 941.5 L323.1 953.4" fill="none" stroke="url(#matG)" stroke-width="9.0" stroke-linecap="round" stroke-linejoin="round"/>
<path d="M268.8 973.5 L296.9 965.6 L313.6 977.1" fill="none" stroke="#101010" stroke-width="12.0" stroke-linecap="round" stroke-linejoin="round"/>
<path d="M268.8 973.5 L296.9 965.6 L313.6 977.1" fill="none" stroke="url(#matG)" stroke-width="9.0" stroke-linecap="round" stroke-linejoin="round"/>
<path d="M338.1 959.4 L361.9 952.5 L381.4 972.3" fill="none" stroke="#101010" stroke-width="12.0" stroke-linecap="round" stroke-linejoin="round"/>
<path d="M338.1 959.4 L361.9 952.5 L381.4 972.3" fill="none" stroke="url(#matG)" stroke-width="9.0" stroke-linecap="round" stroke-linejoin="round"/>
<path d="M329.7 983.9 L351.8 977.5 L372.1 996.4" fill="none" stroke="#101010" stroke-width="12.0" stroke-linecap="round" stroke-linejoin="round"/>
<path d="M329.7 983.9 L351.8 977.5 L372.1 996.4" fill="none" stroke="url(#matG)" stroke-width="9.0" stroke-linecap="round" stroke-linejoin="round"/>
<path d="M320.1 1007.7 L342.8 1001.4 L361.6 1020.5" fill="none" stroke="#101010" stroke-width="12.0" stroke-linecap="round" stroke-linejoin="round"/>
<path d="M320.1 1007.7 L342.8 1001.4 L361.6 1020.5" fill="none" stroke="url(#matG)" stroke-width="9.0" stroke-linecap="round" stroke-linejoin="round"/>
<path d="M296.3 880.1 L303.1 901.6 L320.8 899.2 L333.9 927.3" fill="none" stroke="#101010" stroke-width="1.5" stroke-linejoin="round"/>
<path d="M347 933.1 C346.9 933.4 345.2 936.3 345.2 936.7 C345.3 937.1 345.9 939.9 347.6 939.7 C349.3 939.5 368.5 933.2 370.9 933.7 C373.3 934.2 382.9 946.5 384 947.5 C385.1 948.4 387.4 948.6 387.6 948.6" fill="none" stroke="#101010" stroke-width="1.5"/>
<path d="M346.4 931.3 L371.5 924.8 L385.2 942.1 L404.3 930.7" fill="none" stroke="#101010" stroke-width="1.5" stroke-linejoin="round"/>
<path d="M370.9 933.7 L384 959.4" fill="none" stroke="#101010" stroke-width="1.5"/>
<path d="M304 1003.5 C303.1 1002.4 291.6 987.8 289.7 986.8 C287.8 985.9 276.6 988.8 275.4 989.2 C274.1 989.7 270.6 992 271.2 994 C271.7 996 281.9 1016.9 283.7 1019.1 C285.5 1021.2 296.9 1025.4 298.1 1026.2 C299.3 1027 301.7 1030.7 301.6 1031 C301.6 1031.4 297.7 1031.6 297.5 1031.6" fill="none" stroke="#101010" stroke-width="1.5"/>
<path d="M308.8 1037.6 C308.7 1037.3 306.2 1033.1 306.4 1032.8 C306.7 1032.5 311.1 1033 312.4 1033.4 C313.7 1033.8 323.1 1039.6 325.5 1039.4 C327.9 1039.2 346.6 1031.4 348.2 1030.4 C349.8 1029.5 349.8 1026.4 349.4 1025 C349 1023.7 342.7 1011.7 342.2 1010.7" fill="none" stroke="#101010" stroke-width="1.5"/>
<line x1="299.2" y1="1035.2" x2="306.4" y2="1038.2" stroke="#101010" stroke-width="1.5"/>
<path d="M304.3 867.8 L406.7 918.7 L403.4 931.1 L297.1 879.3Z" fill="#fff" stroke="#101010" stroke-width="1.0" stroke-linejoin="round"/>
<path d="M360.8 1071.8 C361.1 1071.7 363.5 1076.7 364.9 1077.6 C366.3 1078.4 374.5 1080.2 374.7 1080.5 C375 1080.9 368.6 1081 367.3 1080.9 C366 1080.8 362 1080.3 361.3 1079.3 C360.7 1078.4 360.4 1072 360.8 1071.8Z" fill="#a8d8f0" stroke="#101010" stroke-width="0.8"/>
</g>
<g transform="translate(304.8 152.4)">
<path d="M296.9 878.9 L290.9 892.6 L292.3 895 L286.1 905.8 L288.8 910.6 L282.5 911.1 L276.6 927.3 L265.8 958.2 L253.9 991.6 L248.9 1005.9 L249.1 1015.5 L253.9 1025 L261.3 1030 L360.1 1080 L364.9 1081.1 L373.3 1081.4 L375.1 1080.5 L364.9 1077.6 L360.4 1071.6 L359 1063.2 L361.3 1051.3 L368.5 1027.4 L392.4 967.8 L390 961.8 L396 960 L395.4 955.8 L399.6 947.5 L406.7 948.6 L415.7 910.6 L417.7 910.3 L419.2 902.8 L411.5 900.4 L406.7 918.3Z" fill="url(#matG)" stroke="#101010" stroke-width="1.1" stroke-linejoin="round"/>
<path d="M330.3 800.1 L372.7 821.6 L372.1 827.6 L376.9 824 L419.9 845.5 L418.1 861.6 L411.5 900.4 L406.7 918.3 L304 867.6 L302.8 862.2 L307.6 849.7 L310 849.7Z" fill="#8db1cf" stroke="#101010" stroke-width="1.1" stroke-linejoin="round"/>
<path d="M401.9 892.6 C401.7 893.7 407.8 906 409.1 909.4 C410.4 912.7 412.7 918.5 412.7 921.3 C412.7 924.1 410.4 931 409.1 933.2 C407.8 935.5 402.2 938.6 401.9 940.4 C401.7 942.2 405.1 952.2 406.7 948.8 C408.3 945.3 414.2 915.9 415.7 910.6 C417.1 905.2 419.7 904 419.2 902.8 C418.8 901.6 413.5 901.6 411.5 900.4 C409.5 899.2 402.2 891.6 401.9 892.6Z" fill="#5e7890" opacity=".85"/>
<path d="M328.9 830 L331.5 866.4" fill="none" stroke="#101010" stroke-width="11.6" stroke-linecap="round" stroke-linejoin="round"/>
<path d="M328.9 830 L331.5 866.4" fill="none" stroke="#8db1cf" stroke-width="8.6" stroke-linecap="round" stroke-linejoin="round"/>
<path d="M346.8 830 L350.4 871.2" fill="none" stroke="#101010" stroke-width="11.6" stroke-linecap="round" stroke-linejoin="round"/>
<path d="M346.8 830 L350.4 871.2" fill="none" stroke="#8db1cf" stroke-width="8.6" stroke-linecap="round" stroke-linejoin="round"/>
<path d="M390.6 851.5 L369.1 862.2" fill="none" stroke="#101010" stroke-width="11.6" stroke-linecap="round" stroke-linejoin="round"/>
<path d="M390.6 851.5 L369.1 862.2" fill="none" stroke="#8db1cf" stroke-width="8.6" stroke-linecap="round" stroke-linejoin="round"/>
<path d="M405.3 867 L369.1 879.3" fill="none" stroke="#101010" stroke-width="11.6" stroke-linecap="round" stroke-linejoin="round"/>
<path d="M405.3 867 L369.1 879.3" fill="none" stroke="#8db1cf" stroke-width="8.6" stroke-linecap="round" stroke-linejoin="round"/>
<path d="M386.4 892.9 L399.6 891.5" fill="none" stroke="#101010" stroke-width="10.0" stroke-linecap="round" stroke-linejoin="round"/>
<path d="M386.4 892.9 L399.6 891.5" fill="none" stroke="#8db1cf" stroke-width="7.0" stroke-linecap="round" stroke-linejoin="round"/>
<path d="M304 860.4 L320.8 852.1 L325.5 859.2 L329.1 867.6" fill="none" stroke="#101010" stroke-width="1.5" stroke-linejoin="round"/>
<path d="M350.6 831.8 L361.3 860.4 L367.3 862.8" fill="none" stroke="#101010" stroke-width="1.5" stroke-linejoin="round"/>
<path d="M399.6 891.5 C400.5 893.6 403.7 900.4 405.5 904.6 C407.3 908.8 409.7 912.6 410.3 916.5 C410.9 920.5 410.5 925.1 409.1 928.5 C407.7 931.8 405.7 934.4 401.9 936.8 C398.2 939.2 389.8 942.4 386.4 942.8 C383 943.2 382.4 939.8 381.6 939.2" fill="none" stroke="#101010" stroke-width="1.5"/>
<path d="M289.1 925.6 L315.4 917.6 L331.5 929" fill="none" stroke="#101010" stroke-width="12.0" stroke-linecap="round" stroke-linejoin="round"/>
<path d="M289.1 925.6 L315.4 917.6 L331.5 929" fill="none" stroke="url(#matG)" stroke-width="9.0" stroke-linecap="round" stroke-linejoin="round"/>
<path d="M279 949.6 L306.4 941.5 L323.1 953.4" fill="none" stroke="#101010" stroke-width="12.0" stroke-linecap="round" stroke-linejoin="round"/>
<path d="M279 949.6 L306.4 941.5 L323.1 953.4" fill="none" stroke="url(#matG)" stroke-width="9.0" stroke-linecap="round" stroke-linejoin="round"/>
<path d="M268.8 973.5 L296.9 965.6 L313.6 977.1" fill="none" stroke="#101010" stroke-width="12.0" stroke-linecap="round" stroke-linejoin="round"/>
<path d="M268.8 973.5 L296.9 965.6 L313.6 977.1" fill="none" stroke="url(#matG)" stroke-width="9.0" stroke-linecap="round" stroke-linejoin="round"/>
<path d="M338.1 959.4 L361.9 952.5 L381.4 972.3" fill="none" stroke="#101010" stroke-width="12.0" stroke-linecap="round" stroke-linejoin="round"/>
<path d="M338.1 959.4 L361.9 952.5 L381.4 972.3" fill="none" stroke="url(#matG)" stroke-width="9.0" stroke-linecap="round" stroke-linejoin="round"/>
<path d="M329.7 983.9 L351.8 977.5 L372.1 996.4" fill="none" stroke="#101010" stroke-width="12.0" stroke-linecap="round" stroke-linejoin="round"/>
<path d="M329.7 983.9 L351.8 977.5 L372.1 996.4" fill="none" stroke="url(#matG)" stroke-width="9.0" stroke-linecap="round" stroke-linejoin="round"/>
<path d="M320.1 1007.7 L342.8 1001.4 L361.6 1020.5" fill="none" stroke="#101010" stroke-width="12.0" stroke-linecap="round" stroke-linejoin="round"/>
<path d="M320.1 1007.7 L342.8 1001.4 L361.6 1020.5" fill="none" stroke="url(#matG)" stroke-width="9.0" stroke-linecap="round" stroke-linejoin="round"/>
<path d="M296.3 880.1 L303.1 901.6 L320.8 899.2 L333.9 927.3" fill="none" stroke="#101010" stroke-width="1.5" stroke-linejoin="round"/>
<path d="M347 933.1 C346.9 933.4 345.2 936.3 345.2 936.7 C345.3 937.1 345.9 939.9 347.6 939.7 C349.3 939.5 368.5 933.2 370.9 933.7 C373.3 934.2 382.9 946.5 384 947.5 C385.1 948.4 387.4 948.6 387.6 948.6" fill="none" stroke="#101010" stroke-width="1.5"/>
<path d="M346.4 931.3 L371.5 924.8 L385.2 942.1 L404.3 930.7" fill="none" stroke="#101010" stroke-width="1.5" stroke-linejoin="round"/>
<path d="M370.9 933.7 L384 959.4" fill="none" stroke="#101010" stroke-width="1.5"/>
<path d="M304 1003.5 C303.1 1002.4 291.6 987.8 289.7 986.8 C287.8 985.9 276.6 988.8 275.4 989.2 C274.1 989.7 270.6 992 271.2 994 C271.7 996 281.9 1016.9 283.7 1019.1 C285.5 1021.2 296.9 1025.4 298.1 1026.2 C299.3 1027 301.7 1030.7 301.6 1031 C301.6 1031.4 297.7 1031.6 297.5 1031.6" fill="none" stroke="#101010" stroke-width="1.5"/>
<path d="M308.8 1037.6 C308.7 1037.3 306.2 1033.1 306.4 1032.8 C306.7 1032.5 311.1 1033 312.4 1033.4 C313.7 1033.8 323.1 1039.6 325.5 1039.4 C327.9 1039.2 346.6 1031.4 348.2 1030.4 C349.8 1029.5 349.8 1026.4 349.4 1025 C349 1023.7 342.7 1011.7 342.2 1010.7" fill="none" stroke="#101010" stroke-width="1.5"/>
<line x1="299.2" y1="1035.2" x2="306.4" y2="1038.2" stroke="#101010" stroke-width="1.5"/>
<path d="M304.3 867.8 L406.7 918.7 L403.4 931.1 L297.1 879.3Z" fill="#fff" stroke="#101010" stroke-width="1.0" stroke-linejoin="round"/>
<path d="M360.8 1071.8 C361.1 1071.7 363.5 1076.7 364.9 1077.6 C366.3 1078.4 374.5 1080.2 374.7 1080.5 C375 1080.9 368.6 1081 367.3 1080.9 C366 1080.8 362 1080.3 361.3 1079.3 C360.7 1078.4 360.4 1072 360.8 1071.8Z" fill="#a8d8f0" stroke="#101010" stroke-width="0.8"/>
</g>
<!-- cable -->
<path d="M1341.4 115.5 C1338.3 116.1 1330.1 117.3 1323.1 119.4 C1316 121.6 1306.4 125.5 1299.2 128.2 C1292 130.9 1285.4 134.1 1280.1 135.7 C1274.8 137.3 1271.1 137 1267.4 137.8 C1263.6 138.5 1260.7 138.8 1257.8 140.1 C1254.9 141.5 1252.2 143.2 1249.8 145.7 C1247.5 148.2 1245.3 150.7 1243.5 155.2 C1241.7 159.8 1240 167.7 1239 172.8 C1238 177.8 1237.5 180.7 1237.4 185.5 C1237.4 190.3 1238 196.1 1238.7 201.4 C1239.5 206.7 1240.8 210.7 1241.9 217.3 C1243 223.9 1244.3 233.2 1245.1 241.2 C1245.9 249.1 1246.2 257.1 1246.7 265.1 C1247.1 273 1247.9 288.6 1247.6 288.9 C1247.3 289.2 1244.7 265 1245 266.8 C1245.3 268.7 1248.5 289.1 1249.3 300.2 C1250.2 311.3 1250.7 322.4 1250 333.6 C1249.3 344.7 1247.8 357.5 1245 366.9 C1242.2 376.4 1238.1 385 1233.3 390.3 C1228.6 395.5 1222.3 396.7 1216.7 398.6 C1211.1 400.5 1204.2 401.2 1199.7 401.8 C1195.2 402.4 1191.8 401.4 1189.5 402.1 C1187.3 402.8 1187.1 404.3 1186 406 C1184.9 407.6 1184.3 410 1183 411.9 C1181.7 413.9 1180.2 415.9 1178.2 417.9 C1176.2 419.9 1173.4 421.7 1171 423.9 C1168.7 426.1 1165.7 428.6 1163.9 431 C1162.1 433.4 1161 436.2 1160.3 438.2 C1159.6 440.2 1159.2 441.7 1159.8 443 C1160.4 444.3 1162 445.3 1163.9 445.9 C1165.8 446.6 1168.1 446.9 1171 446.7 C1174 446.4 1178 445.1 1181.8 444.3 C1185.6 443.5 1190.5 442.4 1193.7 441.9 C1196.9 441.4 1199.2 440.8 1200.9 441 C1202.6 441.2 1203.6 441.9 1203.8 443 C1204 444 1202.8 446 1202.1 447.1 C1201.4 448.3 1200.1 449.4 1199.7 449.8" fill="none" stroke="#0c1a2a" stroke-width="2.9" stroke-linecap="round" stroke-linejoin="round"/>
<path d="M1341.4 115.5 C1338.3 116.1 1330.1 117.3 1323.1 119.4 C1316 121.6 1306.4 125.5 1299.2 128.2 C1292 130.9 1285.4 134.1 1280.1 135.7 C1274.8 137.3 1271.1 137 1267.4 137.8 C1263.6 138.5 1260.7 138.8 1257.8 140.1 C1254.9 141.5 1252.2 143.2 1249.8 145.7 C1247.5 148.2 1245.3 150.7 1243.5 155.2 C1241.7 159.8 1240 167.7 1239 172.8 C1238 177.8 1237.5 180.7 1237.4 185.5 C1237.4 190.3 1238 196.1 1238.7 201.4 C1239.5 206.7 1240.8 210.7 1241.9 217.3 C1243 223.9 1244.3 233.2 1245.1 241.2 C1245.9 249.1 1246.2 257.1 1246.7 265.1 C1247.1 273 1247.9 288.6 1247.6 288.9 C1247.3 289.2 1244.7 265 1245 266.8 C1245.3 268.7 1248.5 289.1 1249.3 300.2 C1250.2 311.3 1250.7 322.4 1250 333.6 C1249.3 344.7 1247.8 357.5 1245 366.9 C1242.2 376.4 1238.1 385 1233.3 390.3 C1228.6 395.5 1222.3 396.7 1216.7 398.6 C1211.1 400.5 1204.2 401.2 1199.7 401.8 C1195.2 402.4 1191.8 401.4 1189.5 402.1 C1187.3 402.8 1187.1 404.3 1186 406 C1184.9 407.6 1184.3 410 1183 411.9 C1181.7 413.9 1180.2 415.9 1178.2 417.9 C1176.2 419.9 1173.4 421.7 1171 423.9 C1168.7 426.1 1165.7 428.6 1163.9 431 C1162.1 433.4 1161 436.2 1160.3 438.2 C1159.6 440.2 1159.2 441.7 1159.8 443 C1160.4 444.3 1162 445.3 1163.9 445.9 C1165.8 446.6 1168.1 446.9 1171 446.7 C1174 446.4 1178 445.1 1181.8 444.3 C1185.6 443.5 1190.5 442.4 1193.7 441.9 C1196.9 441.4 1199.2 440.8 1200.9 441 C1202.6 441.2 1203.6 441.9 1203.8 443 C1204 444 1202.8 446 1202.1 447.1 C1201.4 448.3 1200.1 449.4 1199.7 449.8" fill="none" stroke="#4a9fe6" stroke-width="1.4" stroke-linecap="round" stroke-linejoin="round"/>
<line x1="1353.3" y1="118.3" x2="1362.1" y2="120.7" stroke="#0c0c0c" stroke-width="1.2"/>
<path d="M1362.1 118.7 L1365.3 118.7 L1365.8 124.2 L1362.9 124.2Z" fill="#3a7fc0" stroke="#0c0c0c" stroke-width="0.8"/>
<path d="M1341.4 113.5 L1343.8 112.3 L1354.1 116.3 L1354.1 119.4 L1351.7 120.2 L1341.9 116.7Z" fill="#5aaef0" stroke="#0c0c0c" stroke-width="0.9" stroke-linejoin="round"/>
<path d="M1351 115.5 L1354.6 116.7 L1354.1 120.2 L1350.5 119.1Z" fill="#16324e" stroke="#0c0c0c" stroke-width="0.6"/>
<path d="M1267.4 131.7 L1270.9 130.1 L1272.9 131.1 L1276.9 129.8 L1280.1 135.4 L1276.9 137.8 L1269 136.9Z" fill="#16324e" stroke="#0c0c0c" stroke-width="0.9" stroke-linejoin="round"/>
<path d="M1196.1 447.8 L1200.9 450.1 L1197.3 456.1 L1192.5 453.7Z" fill="#0c1824" stroke="#0c0c0c" stroke-width="0.9" stroke-linejoin="round"/>
<path d="M1171.6 473.4 L1186.6 454.3 L1189.5 453.7 L1196.7 460.9 L1192.5 467.4 L1193.1 470.4 L1190.8 472.2 L1181.8 481.8 L1174.6 478.8Z" fill="#0c1824" stroke="#0c0c0c" stroke-width="1" stroke-linejoin="round"/>
<path d="M1187.8 459.7 L1196.1 461.5 L1183 480 L1178.8 476.4Z" fill="#2a6db0"/>
<path d="M1185.4 460.3 L1189.5 455.5 L1191.9 456.7 L1187.8 462.1Z" fill="#6cc6f6"/>
<path d="M1178.2 464.5 L1181.8 461.5 L1183.6 462.7 L1180 466.2Z" fill="#6cc6f6"/>
<path d="M1175.2 474 L1180.6 469.2 L1181.8 471 L1177 475.8Z" fill="#6cc6f6"/>
<path d="M1182.4 465.6 L1184.8 464.5 L1186 467.4 L1183.6 468.6Z" fill="#6cc6f6"/>
<path d="M1196.7 449.5 L1198.8 450.7 L1197.3 452.5 L1195.5 451.3Z" fill="#6cc6f6"/>
<path d="M1972.6 428.4 C1973.8 429.2 1977.8 431.8 1979.8 432.9 C1981.7 433.9 1983.9 433.2 1984.5 434.8 C1985.1 436.4 1984.3 440.1 1983.2 442.8 C1982.2 445.4 1979.8 448 1978.2 450.7 C1976.5 453.4 1975.5 455.2 1973.4 459 C1971.3 462.8 1967.8 470.5 1965.4 473.3 C1963 476.2 1961.2 475.1 1959 476.2 C1956.9 477.2 1954.7 477.4 1952.7 479.7 C1950.7 481.9 1948.6 485.8 1947.1 489.7 C1945.6 493.6 1944.6 498.7 1943.5 503.2 C1942.3 507.7 1942.4 512 1940.3 516.8 C1938.1 521.5 1935 526.2 1930.4 531.9 C1925.8 537.6 1917.3 545.1 1912.9 551 C1908.4 556.8 1906 561.6 1903.7 566.9 C1901.3 572.2 1900.3 571.2 1898.9 582.8 C1897.4 594.4 1896.9 621.9 1895 636.4 C1893.1 650.9 1891.8 660.1 1887.3 669.8 C1882.9 679.5 1876.2 689.3 1868.3 694.8 C1860.4 700.2 1850.3 701.5 1840 702.5 C1829.7 703.4 1817.8 699.5 1806.7 700.5 C1795.6 701.4 1784.4 707.1 1773.3 708.1 C1762.2 709.1 1749.4 708.3 1740 706.5 C1730.6 704.6 1722.7 699.1 1716.7 697.1 C1710.7 695.2 1707.1 694.3 1704 694.8 C1700.9 695.2 1699.3 699 1698.3 699.8" fill="none" stroke="#0c1a2a" stroke-width="2.9" stroke-linecap="round" stroke-linejoin="round"/>
<path d="M1972.6 428.4 C1973.8 429.2 1977.8 431.8 1979.8 432.9 C1981.7 433.9 1983.9 433.2 1984.5 434.8 C1985.1 436.4 1984.3 440.1 1983.2 442.8 C1982.2 445.4 1979.8 448 1978.2 450.7 C1976.5 453.4 1975.5 455.2 1973.4 459 C1971.3 462.8 1967.8 470.5 1965.4 473.3 C1963 476.2 1961.2 475.1 1959 476.2 C1956.9 477.2 1954.7 477.4 1952.7 479.7 C1950.7 481.9 1948.6 485.8 1947.1 489.7 C1945.6 493.6 1944.6 498.7 1943.5 503.2 C1942.3 507.7 1942.4 512 1940.3 516.8 C1938.1 521.5 1935 526.2 1930.4 531.9 C1925.8 537.6 1917.3 545.1 1912.9 551 C1908.4 556.8 1906 561.6 1903.7 566.9 C1901.3 572.2 1900.3 571.2 1898.9 582.8 C1897.4 594.4 1896.9 621.9 1895 636.4 C1893.1 650.9 1891.8 660.1 1887.3 669.8 C1882.9 679.5 1876.2 689.3 1868.3 694.8 C1860.4 700.2 1850.3 701.5 1840 702.5 C1829.7 703.4 1817.8 699.5 1806.7 700.5 C1795.6 701.4 1784.4 707.1 1773.3 708.1 C1762.2 709.1 1749.4 708.3 1740 706.5 C1730.6 704.6 1722.7 699.1 1716.7 697.1 C1710.7 695.2 1707.1 694.3 1704 694.8 C1700.9 695.2 1699.3 699 1698.3 699.8" fill="none" stroke="#4a9fe6" stroke-width="1.4" stroke-linecap="round" stroke-linejoin="round"/>
<line x1="1964.6" y1="422.9" x2="1971.8" y2="428.1" stroke="#0c0c0c" stroke-width="1.2"/>
<path d="M1961.4 418.1 L1964.2 417.6 L1965.1 423.7 L1962.2 424.5Z" fill="#3a7fc0" stroke="#0c0c0c" stroke-width="0.8"/>
<path d="M1969.4 427.2 L1972.6 425.6 L1980.1 430.8 L1979.4 433.5 L1976.6 434 L1969.9 429.7Z" fill="#5aaef0" stroke="#0c0c0c" stroke-width="0.9" stroke-linejoin="round"/>
<ellipse cx="1963" cy="479.1" rx="5.2" ry="4.2" transform="rotate(-20 1963 479.1)" fill="#16324e" stroke="#0c0c0c" stroke-width="0.9"/>
<ellipse cx="1963.5" cy="478.7" rx="2.8" ry="2" transform="rotate(-20 1963.5 478.7)" fill="#3a8ad6"/>
<g >
<path d="M1346.2 156.8 C1347.8 154.2 1360.9 148.9 1362.9 147.6 C1364.9 146.3 1364.8 145.1 1366.1 144.1 C1367.3 143.1 1372.8 139.3 1375.6 137.8 C1378.5 136.2 1391.2 129.7 1394.7 128.5 C1398.2 127.4 1406.5 126.2 1410.7 126.3 C1414.8 126.4 1433.3 128.3 1436.1 129.2 C1438.9 130 1438.8 133.2 1438.7 134.6 C1438.5 135.9 1435.9 141.1 1434.5 142.5 C1433.2 144 1429 147 1425 149.2 C1421 151.4 1401.4 161.6 1394.7 164.8 C1388 168 1362.2 180.1 1358.1 181.7 C1354 183.3 1354.4 181.5 1353.3 180.7 C1352.2 180 1347.7 176.7 1347 174.3 C1346.3 172 1344.6 159.5 1346.2 156.8Z" fill="#c47a26" stroke="#0c0c0c" stroke-width="1.1"/>
<path d="M1366.1 144.1 C1366.1 143.3 1372.8 139.3 1375.6 137.8 C1378.5 136.2 1391.2 129.6 1394.7 128.5 C1398.2 127.4 1407.8 126.6 1410.7 126.6 C1413.5 126.6 1425 127.1 1423.4 128.2 C1421.8 129.3 1399.5 136 1394.7 137.8 C1390 139.5 1378.5 145.1 1375.6 145.7 C1372.8 146.3 1366.1 144.9 1366.1 144.1Z" fill="#f4a040" stroke="#0c0c0c" stroke-width="0.8"/>
<path d="M1386.8 144.1 C1387.5 141.9 1391.9 139 1394.7 137.8 C1397.6 136.5 1413 131.9 1415.4 131.7 C1417.8 131.5 1418.4 134.9 1418.6 136.2 C1418.8 137.4 1420.2 141.9 1417.8 144.1 C1415.4 146.3 1397.8 156.8 1394.7 158.4 C1391.7 160 1388.4 161.5 1387.6 160 C1386.8 158.6 1386.1 146.3 1386.8 144.1Z" fill="#6e4212" stroke="#0c0c0c" stroke-width="0.9"/>
<path d="M1377.2 148.9 C1378.2 147.4 1384.2 143.8 1385.2 144.9 C1386.1 146 1387.4 157.9 1386.8 160 C1386.1 162.2 1379.9 166.4 1378.8 166.4 C1377.7 166.4 1375.8 161.8 1375.6 160 C1375.5 158.3 1376.3 150.4 1377.2 148.9Z" fill="#f0a548"/>
<path d="M1346.2 156.8 L1362.9 147.6 L1369.2 150.8 L1351.7 160 L1351.7 179.1 L1347 174.3Z" fill="#3a2408" stroke="#0c0c0c" stroke-width="0.9" stroke-linejoin="round"/>
<path d="M1356.5 175.9 C1357 173.8 1358.4 165.9 1359.7 163.2 C1361 160.6 1362.9 159 1364.5 160 C1366.1 161.1 1368.5 168 1369.2 169.6" fill="none" stroke="#f6b25c" stroke-width="1.4"/>
<path d="M1354.1 179.1 C1360.9 176.2 1381.3 168 1394.7 161.6 C1408.1 155.3 1427.9 144.4 1434.5 140.9" fill="none" stroke="#e89a3c" stroke-width="1.2"/>
<ellipse cx="1401.9" cy="146" rx="1.2" ry="2.2" transform="rotate(30 1401.9 146)" fill="#0c0c0c"/>
<path d="M1373.7 140.6 L1380.4 138.7 L1381 140.9 L1374.7 142.8Z" fill="#2e1c06"/>
<path d="M1391.2 131.7 L1397.9 129.8 L1398.5 132 L1392.2 133.9Z" fill="#2e1c06"/>
<path d="M1410.3 127.9 L1417 126 L1417.7 128.2 L1411.3 130.1Z" fill="#2e1c06"/>
</g>
<g >
<path d="M1858.8 420.5 C1859 418.4 1860.8 411.3 1861.9 409.7 C1863.1 408.1 1864.8 407.3 1869.9 404.6 C1875 401.9 1907.8 385 1912.9 382.6 C1918 380.2 1918 380.6 1920.8 380.7 C1923.7 380.8 1938.8 382.4 1941.5 383.2 C1944.2 384 1947.2 387.6 1947.9 388.6 C1948.6 389.7 1949 393.2 1948.9 394.2 C1948.7 395.2 1947.7 398.2 1946.6 398.5 C1945.6 398.8 1939.7 396.9 1938.7 397.6 C1937.7 398.2 1941.1 402.1 1936.8 404.9 C1932.4 407.7 1900.3 423.7 1895.4 425.6 C1890.5 427.5 1888.7 423.7 1887.7 424 C1886.8 424.3 1887.6 427.6 1886.1 428.8 C1884.7 429.9 1875.3 435.2 1873.1 435.8 C1870.8 436.4 1864.9 435.4 1863.5 434.8 C1862.1 434.2 1859.5 431.5 1859.1 430 C1858.6 428.6 1858.5 422.5 1858.8 420.5Z" fill="#c47a26" stroke="#0c0c0c" stroke-width="1.1"/>
<path d="M1885.8 407.8 C1886 406 1886.6 404.9 1890.6 403 C1894.6 401.1 1921.3 389.8 1925.6 388.6 C1929.9 387.5 1932.6 390.4 1933.6 391.8 C1934.5 393.3 1938.8 399.9 1935.2 403 C1931.5 406 1901.6 420.3 1897 422.1 C1892.4 423.8 1890.1 421.9 1889 420.5 C1887.9 419 1885.7 409.5 1885.8 407.8Z" fill="#f0a040"/>
<path d="M1890.6 412.5 C1891.4 412.4 1892.5 422.9 1897 422.1 C1901.4 421.2 1931.3 405.4 1935.2 403.8 C1939.1 402.2 1940 404 1936 406.1 C1932 408.3 1900.1 423.6 1895.4 425.2 C1890.7 426.9 1889.5 424.1 1889 422.9 C1888.5 421.6 1889.8 412.6 1890.6 412.5Z" fill="#7a4a14"/>
<path d="M1861.1 412.5 C1862.2 410.4 1867.6 405.8 1869.9 405.4 C1872.2 404.9 1882.6 405.6 1884.2 407.8 C1885.8 409.9 1886.9 424.1 1885.8 426.8 C1884.7 429.5 1875.3 434.1 1873.1 434.8 C1870.9 435.5 1864.9 434.8 1863.5 434 C1862.2 433.2 1859.8 429 1859.5 426.8 C1859.3 424.7 1860.1 414.7 1861.1 412.5Z" fill="#f4a848" stroke="#0c0c0c" stroke-width="0.9"/>
<ellipse cx="1865.1" cy="423.7" rx="3.6" ry="8" transform="rotate(10 1865.1 423.7)" fill="#3a2408"/>
<ellipse cx="1874.4" cy="419.2" rx="4.4" ry="6.4" transform="rotate(20 1874.4 419.2)" fill="#fff" stroke="#0c0c0c" stroke-width="1"/>
<path d="M1891.4 399 L1897.4 396.8 L1898.4 399.3 L1892.7 401.5Z" fill="#1e1204"/>
<path d="M1908.9 389.4 L1915 387.2 L1915.9 389.8 L1910.2 392Z" fill="#1e1204"/>
<path d="M1920 383.9 L1926.1 381.6 L1927 384.2 L1921.3 386.4Z" fill="#1e1204"/>
<path d="M1901.7 391 L1907.8 388.8 L1908.8 391.4 L1903 393.6Z" fill="#1e1204"/>
<path d="M1938.4 387.1 L1946.3 389.4 L1947.9 394.2 L1946.3 398.2 L1940 396.6Z" fill="#f0a040" stroke="#0c0c0c" stroke-width="0.8"/>
<circle cx="1918" cy="407.4" r="2.2" fill="#9a5e1c" stroke="#0c0c0c" stroke-width="0.7"/>
<circle cx="1928.8" cy="403" r="2.6" fill="#9a5e1c" stroke="#0c0c0c" stroke-width="0.7"/>
</g>
<!-- cable4 -->
<path d="M650.1 399.7 C649.8 401.3 648.3 405.6 648.1 409.2 C647.9 412.8 648.2 417 649.1 421.2 C649.9 425.3 651.5 429.9 653.1 434.3 C654.8 438.7 656.7 443.1 659.1 447.4 C661.5 451.8 664.5 456.6 667.5 460.6 C670.4 464.5 674 467.5 677 471.3 C680 475.1 683.2 478.9 685.4 483.2 C687.6 487.6 689.1 493.2 690.1 497.6 C691.2 501.9 691.5 506.9 691.9 509.5 C692.4 512.1 692.7 509.6 692.7 513 C692.7 516.4 692.9 523.8 692 529.7 C691.1 535.5 689.3 542.7 687.3 548 C685.3 553.3 682.4 556.9 680 561.4 C677.6 565.8 674.1 570.8 672.7 574.7 C671.3 578.6 670.4 581.8 671.7 584.7 C672.9 587.7 675.8 590.7 680 592.4 C684.2 594.1 691.4 595.1 696.7 594.7 C701.9 594.4 707.9 593.2 711.7 590.4 C715.4 587.6 717.9 582.3 719.3 578 C720.7 573.8 719.6 568.3 720 564.7 C720.4 561.1 721.4 557.8 721.7 556.4" fill="none" stroke="#3b1428" stroke-width="2.8" stroke-linecap="round" stroke-linejoin="round"/>
<path d="M650.1 399.7 C649.8 401.3 648.3 405.6 648.1 409.2 C647.9 412.8 648.2 417 649.1 421.2 C649.9 425.3 651.5 429.9 653.1 434.3 C654.8 438.7 656.7 443.1 659.1 447.4 C661.5 451.8 664.5 456.6 667.5 460.6 C670.4 464.5 674 467.5 677 471.3 C680 475.1 683.2 478.9 685.4 483.2 C687.6 487.6 689.1 493.2 690.1 497.6 C691.2 501.9 691.5 506.9 691.9 509.5 C692.4 512.1 692.7 509.6 692.7 513 C692.7 516.4 692.9 523.8 692 529.7 C691.1 535.5 689.3 542.7 687.3 548 C685.3 553.3 682.4 556.9 680 561.4 C677.6 565.8 674.1 570.8 672.7 574.7 C671.3 578.6 670.4 581.8 671.7 584.7 C672.9 587.7 675.8 590.7 680 592.4 C684.2 594.1 691.4 595.1 696.7 594.7 C701.9 594.4 707.9 593.2 711.7 590.4 C715.4 587.6 717.9 582.3 719.3 578 C720.7 573.8 719.6 568.3 720 564.7 C720.4 561.1 721.4 557.8 721.7 556.4" fill="none" stroke="#d87aa9" stroke-width="1.1999999999999997" stroke-linecap="round" stroke-linejoin="round"/>
<line x1="659.3" y1="375.6" x2="654.3" y2="387.5" stroke="#101010" stroke-width="1.3"/>
<path d="M656.5 360.9 L660.3 358.9 L664.5 360.3 L665.7 363.9 L663.9 365.7 L663.3 374.6 L659.7 376.4 L654.9 374.6Z" fill="#d87aa9" stroke="#3b1428" stroke-width="1" stroke-linejoin="round"/>
<line x1="660.9" y1="363.9" x2="657.9" y2="374" stroke="#5a1f3c" stroke-width="1.4"/>
<path d="M651.3 387.1 L656.1 388.9 L652.5 400.3 L647.8 398.7Z" fill="#d87aa9" stroke="#3b1428" stroke-width="1" stroke-linejoin="round"/>
<path d="M650.8 436.7 L659.1 434.3 L660.9 439.7 L652.5 442.6Z" fill="#d87aa9" stroke="#3b1428" stroke-width="1" stroke-linejoin="round"/>
<path d="M677.3 553 L686.7 556.4 L685 563 L676 559.7Z" fill="#d87aa9" stroke="#3b1428" stroke-width="0.9" stroke-linejoin="round"/>
<path d="M722.7 544.7 L728.7 548 L724 558 L718.3 554.7Z" fill="#3a3a3a" stroke="#101010" stroke-width="0.9"/>
<path d="M1565.1 857.3 C1563.8 859.4 1560.6 866.3 1557.3 869.8 C1554 873.3 1550.3 875.1 1545.4 878.2 C1540.4 881.3 1533.4 884.7 1527.5 888.6 C1521.5 892.5 1515.5 897.9 1509.5 901.7 C1503.6 905.5 1497.6 907.7 1491.6 911.2 C1485.7 914.8 1478.5 919 1473.7 922.9 C1469 926.9 1465.6 931.3 1463 934.9 C1460.4 938.5 1459.4 941 1458 944.4 C1456.6 947.8 1455.7 951 1454.6 955.2 C1453.5 959.3 1451.8 966.5 1451.3 969.5 C1450.8 972.5 1450.7 971.3 1451.7 973.3 C1452.7 975.3 1455.7 981.1 1457.3 981.6 C1459 982.2 1460.6 979.7 1461.7 976.6 C1462.8 973.6 1462.3 967.8 1464 963.3 C1465.7 958.9 1468.4 953.3 1471.7 950 C1474.9 946.6 1479.4 945.2 1483.3 943.3 C1487.2 941.3 1493.1 939.1 1495 938.3" fill="none" stroke="#3a3206" stroke-width="2.8" stroke-linecap="round" stroke-linejoin="round"/>
<path d="M1565.1 857.3 C1563.8 859.4 1560.6 866.3 1557.3 869.8 C1554 873.3 1550.3 875.1 1545.4 878.2 C1540.4 881.3 1533.4 884.7 1527.5 888.6 C1521.5 892.5 1515.5 897.9 1509.5 901.7 C1503.6 905.5 1497.6 907.7 1491.6 911.2 C1485.7 914.8 1478.5 919 1473.7 922.9 C1469 926.9 1465.6 931.3 1463 934.9 C1460.4 938.5 1459.4 941 1458 944.4 C1456.6 947.8 1455.7 951 1454.6 955.2 C1453.5 959.3 1451.8 966.5 1451.3 969.5 C1450.8 972.5 1450.7 971.3 1451.7 973.3 C1452.7 975.3 1455.7 981.1 1457.3 981.6 C1459 982.2 1460.6 979.7 1461.7 976.6 C1462.8 973.6 1462.3 967.8 1464 963.3 C1465.7 958.9 1468.4 953.3 1471.7 950 C1474.9 946.6 1479.4 945.2 1483.3 943.3 C1487.2 941.3 1493.1 939.1 1495 938.3" fill="none" stroke="#dcc830" stroke-width="1.1999999999999997" stroke-linecap="round" stroke-linejoin="round"/>
<line x1="1573.1" y1="834.6" x2="1568.7" y2="845.1" stroke="#101010" stroke-width="1.3"/>
<path d="M1571.6 817.9 L1575.8 816.1 L1580 817.9 L1581 821.5 L1578.8 823.3 L1578.6 832.8 L1574.6 834.6 L1569.2 832.2Z" fill="#dcc830" stroke="#3a3206" stroke-width="1" stroke-linejoin="round"/>
<line x1="1575.8" y1="821.5" x2="1573.4" y2="832.2" stroke="#6a5c0c" stroke-width="1.4"/>
<path d="M1566.9 844.8 L1571.6 846.3 L1568.1 857.5 L1563 856.1Z" fill="#dcc830" stroke="#3a3206" stroke-width="1" stroke-linejoin="round"/>
<path d="M1535.2 879.4 L1543 876.4 L1545.4 883.5 L1540.6 885.9 L1537.6 883.5Z" fill="#dcc830" stroke="#3a3206" stroke-width="1" stroke-linejoin="round"/>
<path d="M1455.2 940.2 L1464.2 942 L1463.2 947.4 L1454.6 945.6Z" fill="#dcc830" stroke="#3a3206" stroke-width="1" stroke-linejoin="round"/>
<path d="M1498.2 931.3 L1501.8 934.3 L1494.6 942.6 L1490.5 939.7Z" fill="#5a4e10" stroke="#101010" stroke-width="0.9"/>
<!-- latch1 -->
<defs>
<linearGradient id="lpl" gradientUnits="userSpaceOnUse" x1="700" y1="300" x2="740" y2="360">
<stop offset="0" stop-color="#9a8c1e"/><stop offset="0.3" stop-color="#d8c92c"/><stop offset="0.45" stop-color="#f4e84a"/><stop offset="0.6" stop-color="#b8a820"/><stop offset="1" stop-color="#8a7d1a"/></linearGradient>
<linearGradient id="lmo" gradientUnits="userSpaceOnUse" x1="800" y1="312" x2="790" y2="342">
<stop offset="0" stop-color="#c8b824"/><stop offset="0.3" stop-color="#fbef58"/><stop offset="0.7" stop-color="#e8d836"/><stop offset="1" stop-color="#8f821a"/></linearGradient>
</defs>
<g >
<path d="M752.4 298.7 L779.3 286.8 L783.3 285.8 L787.3 285.8 L788.3 273.8 L791.2 272.3 L798.2 274.8 L799.2 279.8 L796.2 293.7 L791.2 303.7 L790.2 308.6 L777.3 315.6 L771.3 327.5 L764.4 328.5 L754.4 323.6 L753.4 309.6Z" fill="#c2b022" stroke="#0e0e0a" stroke-width="1.1" stroke-linejoin="round"/>
<path d="M755.4 298.7 L781.3 287.8 L793.2 291.7 L789.2 299.7 L769.4 307.6Z" fill="#f2e23c"/>
<path d="M754.4 323.6 L764.4 328.5 L771.3 327.5 L772.3 317.6 L759.4 309.6 L754.4 311.6Z" fill="#6a5f12"/>
<ellipse cx="759.4" cy="297.2" rx="2" ry="1.3" transform="rotate(20 759.4 297.2)" fill="#6a5f12" stroke="#0e0e0a" stroke-width="0.6"/>
<ellipse cx="767.4" cy="300.2" rx="2" ry="1.3" transform="rotate(20 767.4 300.2)" fill="#6a5f12" stroke="#0e0e0a" stroke-width="0.6"/>
<ellipse cx="769.4" cy="294.7" rx="2" ry="1.3" transform="rotate(20 769.4 294.7)" fill="#6a5f12" stroke="#0e0e0a" stroke-width="0.6"/>
<ellipse cx="773.8" cy="297.7" rx="2" ry="1.3" transform="rotate(20 773.8 297.7)" fill="#6a5f12" stroke="#0e0e0a" stroke-width="0.6"/>
<ellipse cx="775.8" cy="292.2" rx="2" ry="1.3" transform="rotate(20 775.8 292.2)" fill="#6a5f12" stroke="#0e0e0a" stroke-width="0.6"/>
<ellipse cx="780.8" cy="294.7" rx="2" ry="1.3" transform="rotate(20 780.8 294.7)" fill="#6a5f12" stroke="#0e0e0a" stroke-width="0.6"/>
<ellipse cx="782.8" cy="288.7" rx="2" ry="1.3" transform="rotate(20 782.8 288.7)" fill="#6a5f12" stroke="#0e0e0a" stroke-width="0.6"/>
<ellipse cx="789.8" cy="291.7" rx="2" ry="1.3" transform="rotate(20 789.8 291.7)" fill="#6a5f12" stroke="#0e0e0a" stroke-width="0.6"/>
<ellipse cx="793.2" cy="279" rx="1.8" ry="2.4" fill="#ddd" stroke="#0e0e0a" stroke-width="0.8"/>
<path d="M783.3 316.1 C784.9 315.5 791.7 312.9 795.2 313.8 C798.7 314.8 815.4 323.8 818.1 325.5 C820.8 327.3 822.1 330 822.6 331 C823.1 332 823 334.5 822.9 335.5 C822.8 336.4 822.2 339.6 821.6 340.5 C821 341.3 818.4 343.3 817.1 343.6 C815.9 344 812.7 345.9 809.1 344.4 C805.6 343 784.4 331.4 781.3 329.5 C778.2 327.7 778 327 777.8 326 C777.6 325 778.8 320.6 779.3 319.6 C779.8 318.6 781.7 316.7 783.3 316.1Z" fill="url(#lmo)" stroke="#0e0e0a" stroke-width="1.1"/>
<ellipse cx="818.1" cy="335" rx="4.2" ry="7.8" transform="rotate(25 818.1 335)" fill="#e6d634" stroke="#0e0e0a" stroke-width="0.9"/>
<ellipse cx="819.1" cy="335.5" rx="2" ry="3.6" transform="rotate(25 819.1 335.5)" fill="#c9b824" stroke="#0e0e0a" stroke-width="0.7"/>
<line x1="779.3" y1="316.6" x2="777.3" y2="329.5" stroke="#0e0e0a" stroke-width="2.6"/>
<line x1="773.3" y1="315.6" x2="771.3" y2="327.5" stroke="#0e0e0a" stroke-width="1.4"/>
<path d="M689.8 313.6 L701.7 307.6 L704.7 309.6 L733.5 298.7 L735.5 285.8 L739.5 274.8 L737.5 268.9 L739.5 266.1 L747.5 263.9 L749.5 266.9 L748 273 L753.4 270.6 L755.4 279.8 L759.4 286.8 L778.3 280.3 L781.3 281.8 L752.4 298.7 L749.5 307.6 L751.4 327.5 L755.4 339.5 L764.4 349.4 L773.3 358.4 L774.8 366.3 L769.4 374.3 L759.4 377.8 L751.4 375.3 L744.5 367.3 L729.5 357.4 L703.7 355.4 L699.7 354.4 L688.8 348.4Z" fill="#8c7f1c" stroke="#0e0e0a" stroke-width="1.2" stroke-linejoin="round"/>
<clipPath id="lpc"><path d="M689.8 313.6 L701.7 307.6 L704.7 309.6 L733.5 298.7 L735.5 285.8 L739.5 274.8 L737.5 268.9 L739.5 266.1 L747.5 263.9 L749.5 266.9 L748 273 L753.4 270.6 L755.4 279.8 L759.4 286.8 L778.3 280.3 L781.3 281.8 L752.4 298.7 L749.5 307.6 L751.4 327.5 L755.4 339.5 L764.4 349.4 L773.3 358.4 L774.8 366.3 L769.4 374.3 L759.4 377.8 L751.4 375.3 L744.5 367.3 L729.5 357.4 L703.7 355.4 L699.7 354.4 L688.8 348.4Z"/></clipPath>
<g clip-path="url(#lpc)">
<path d="M690.8 329.5 L704.7 313.6 L734.5 299.7 L757.4 286.8 L779.3 280.8 L781.3 283.8 L754.4 297.7 L729.5 309.6 L709.6 324.6 L695.7 347.4 L689.8 347.4Z" fill="#c2b022"/>
<path d="M693.7 335.5 L707.7 317.6 L735.5 303.7 L759.4 291.7 L759.4 295.7 L735.5 308.6 L711.6 323.6 L699.7 339.5Z" fill="#f2e23c"/>
<line x1="701.7" y1="329.5" x2="715.6" y2="315.6" stroke="#fff27a" stroke-width="2"/>
<path d="M739.5 274.8 L749.5 272.8 L755.4 279.8 L757.4 286.8 L735.5 295.7 L735.5 285.8Z" fill="#c2b022"/>
<path d="M755.4 339.5 L764.4 349.4 L773.3 358.4 L774.8 366.3 L769.4 374.3 L759.4 377.8 L751.4 375.3 L744.5 367.3 L739.5 359.4 L749.5 349.4Z" fill="#f6e54c"/>
<path d="M743.5 338.5 L754.4 339.5 L759.4 349.4 L754.4 354.4 L744.5 349.4Z" fill="#c2b022"/>
</g>
<path d="M689.8 313.6 L701.7 307.6 L704.7 309.6 L733.5 298.7 L735.5 285.8 L739.5 274.8 L737.5 268.9 L739.5 266.1 L747.5 263.9 L749.5 266.9 L748 273 L753.4 270.6 L755.4 279.8 L759.4 286.8 L778.3 280.3 L781.3 281.8 L752.4 298.7 L749.5 307.6 L751.4 327.5 L755.4 339.5 L764.4 349.4 L773.3 358.4 L774.8 366.3 L769.4 374.3 L759.4 377.8 L751.4 375.3 L744.5 367.3 L729.5 357.4 L703.7 355.4 L699.7 354.4 L688.8 348.4Z" fill="none" stroke="#0e0e0a" stroke-width="1.2" stroke-linejoin="round"/>
<circle cx="763.1" cy="366.9" r="3" fill="#fff" stroke="#0e0e0a" stroke-width="1"/>
<ellipse cx="696.7" cy="317.6" rx="3" ry="3.6" transform="rotate(20 696.7 317.6)" fill="#e8e8e8" stroke="#0e0e0a" stroke-width="0.9"/>
<ellipse cx="746.5" cy="278.6" rx="2.4" ry="3" transform="rotate(20 746.5 278.6)" fill="#d0d0d0" stroke="#0e0e0a" stroke-width="0.9"/>
<path d="M745.5 307.6 C743.8 308 738.2 307.8 735.5 309.6 C732.9 311.5 731.7 316.1 729.5 318.6 C727.4 321.1 724.4 322.2 722.6 324.6 C720.8 326.9 719.8 330.4 718.6 332.5 C717.4 334.7 717.1 336.3 715.6 337.5 C714.1 338.6 711.5 338.1 709.6 339.5 C707.8 340.8 705.5 343.1 704.7 345.4 C703.9 347.8 704.7 352.1 704.7 353.4" fill="none" stroke="#0e0e0a" stroke-width="3.4"/>
<path d="M745.5 307.6 C743.8 308 738.2 307.8 735.5 309.6 C732.9 311.5 731.7 316.1 729.5 318.6 C727.4 321.1 724.4 322.2 722.6 324.6 C720.8 326.9 719.8 330.4 718.6 332.5 C717.4 334.7 717.1 336.3 715.6 337.5 C714.1 338.6 711.5 338.1 709.6 339.5 C707.8 340.8 705.5 343.1 704.7 345.4 C703.9 347.8 704.7 352.1 704.7 353.4" fill="none" stroke="#f2e23c" stroke-width="1.8"/>
<path d="M741.5 325.5 C742 326.7 744.8 330.2 744.5 332.5 C744.1 334.8 741.3 337.8 739.5 339.5 C737.7 341.1 734.9 341.3 733.5 342.4 C732.2 343.6 731.9 345.8 731.5 346.4" fill="none" stroke="#0e0e0a" stroke-width="1.2"/>
<path d="M738.5 316.6 L748.5 311.6 L749.5 316.6 L739.5 322.6Z" fill="#c2b022" stroke="#0e0e0a" stroke-width="1"/>
<line x1="749.5" y1="312.6" x2="768.4" y2="308.6" stroke="#0e0e0a" stroke-width="6.4" stroke-linecap="round"/>
<line x1="749.5" y1="312.6" x2="768.4" y2="308.6" stroke="#f2e23c" stroke-width="4.4" stroke-linecap="round"/>
<path d="M753.4 301.7 L757.4 303.7 L755.4 309.6 L753.4 308.6Z" fill="#fff" stroke="#0e0e0a" stroke-width="0.7"/>
<line x1="712.1" y1="345.9" x2="753.4" y2="363.3" stroke="#0e0e0a" stroke-width="6.0" stroke-linecap="round"/>
<line x1="712.1" y1="345.9" x2="753.4" y2="363.3" stroke="#f0e040" stroke-width="4.0" stroke-linecap="round"/>
<line x1="712.1" y1="345.1" x2="753.4" y2="362.6" stroke="#fff27a" stroke-width="1.0" stroke-linecap="round"/>
<line x1="725.1" y1="345.4" x2="752.4" y2="357.4" stroke="#0e0e0a" stroke-width="6.0" stroke-linecap="round"/>
<line x1="725.1" y1="345.4" x2="752.4" y2="357.4" stroke="#f0e040" stroke-width="4.0" stroke-linecap="round"/>
<line x1="725.1" y1="344.6" x2="752.4" y2="356.6" stroke="#fff27a" stroke-width="1.0" stroke-linecap="round"/>
<ellipse cx="712.1" cy="345.9" rx="3.4" ry="4.6" transform="rotate(20 712.1 345.9)" fill="#c2b022" stroke="#0e0e0a" stroke-width="1"/>
<ellipse cx="725.1" cy="345.2" rx="2.8" ry="3.8" transform="rotate(20 725.1 345.2)" fill="#c2b022" stroke="#0e0e0a" stroke-width="1"/>
<circle cx="728.6" cy="333" r="1.8" fill="#8c7f1c" stroke="#0e0e0a" stroke-width="0.8"/>
<circle cx="733.5" cy="333.5" r="1.6" fill="#0e0e0a"/>
<circle cx="732.2" cy="346.6" r="1.8" fill="#ccc" stroke="#0e0e0a" stroke-width="0.8"/>
<path d="M752.4 298.7 L764.4 303.7 L769.4 309.6 L768.4 325.5 L763.4 327.5 L759.4 319.6 L755.4 309.6Z" fill="none" stroke="#0e0e0a" stroke-width="1.6" stroke-linejoin="round"/>
<line x1="774.3" y1="305.6" x2="776.3" y2="313.6" stroke="#0e0e0a" stroke-width="0.9"/>
<line x1="778.3" y1="304.7" x2="780.3" y2="312.6" stroke="#0e0e0a" stroke-width="0.9"/>
<line x1="782.3" y1="303.7" x2="784.3" y2="311.6" stroke="#0e0e0a" stroke-width="0.9"/>
<line x1="786.3" y1="302.7" x2="787.8" y2="309.6" stroke="#0e0e0a" stroke-width="0.9"/>
<line x1="771.3" y1="348.4" x2="764.4" y2="365.3" stroke="#222" stroke-width="0.9"/>
<ellipse cx="773.8" cy="345.4" rx="3.2" ry="4.4" transform="rotate(15 773.8 345.4)" fill="#555" stroke="#111" stroke-width="0.9"/>
<ellipse cx="775.1" cy="340" rx="5.6" ry="5.4" fill="#6a6a6a" stroke="#111" stroke-width="0.9"/>
<ellipse cx="775.5" cy="339.3" rx="3.6" ry="3.4" fill="#c8c8c8"/>
<line x1="704.7" y1="258.4" x2="716.8" y2="263.6" stroke="#1a1a1a" stroke-width="5.2" stroke-linecap="round"/>
<line x1="704.7" y1="258.4" x2="716.8" y2="263.6" stroke="#dcdcdc" stroke-width="3.6000000000000005" stroke-linecap="round"/>
<line x1="704.4" y1="259.1" x2="715.5" y2="263.9" stroke="#8a8a8a" stroke-width="1.2"/>
<ellipse cx="717.2" cy="263.8" rx="3.2" ry="5.6" transform="rotate(23.2 717.2 263.8)" fill="#3c3c3c" stroke="#111" stroke-width="0.8"/>
<ellipse cx="719.7" cy="264.8" rx="3.6" ry="5" transform="rotate(23.2 719.7 264.8)" fill="#555" stroke="#111" stroke-width="0.8"/>
<ellipse cx="720.8" cy="265.3" rx="2.4" ry="3.4" transform="rotate(23.2 720.8 265.3)" fill="#9a9a9a" stroke="#222" stroke-width="0.6"/>
<line x1="653.9" y1="296.7" x2="665.8" y2="302" stroke="#1a1a1a" stroke-width="5.2" stroke-linecap="round"/>
<line x1="653.9" y1="296.7" x2="665.8" y2="302" stroke="#dcdcdc" stroke-width="3.6000000000000005" stroke-linecap="round"/>
<line x1="653.6" y1="297.4" x2="664.6" y2="302.4" stroke="#8a8a8a" stroke-width="1.2"/>
<ellipse cx="666.3" cy="302.2" rx="3.2" ry="5.6" transform="rotate(24.2 666.3 302.2)" fill="#3c3c3c" stroke="#111" stroke-width="0.8"/>
<ellipse cx="668.8" cy="303.4" rx="3.6" ry="5" transform="rotate(24.2 668.8 303.4)" fill="#555" stroke="#111" stroke-width="0.8"/>
<ellipse cx="669.8" cy="303.8" rx="2.4" ry="3.4" transform="rotate(24.2 669.8 303.8)" fill="#9a9a9a" stroke="#222" stroke-width="0.6"/>
</g>
<g >
<path d="M1591.8 786 C1592.1 785.5 1593.3 783.4 1595.8 784 C1598.3 784.6 1619.6 792.2 1621.7 793.5 C1623.8 794.7 1621.6 798.8 1621.2 799.4 C1620.8 800 1619.1 801.7 1616.7 800.9 C1614.4 800.1 1594.9 790.7 1592.8 789.5 C1590.8 788.2 1591.6 786.4 1591.8 786Z" fill="#f2e23c" stroke="#0e0e0a" stroke-width="1.1"/>
<line x1="1594.8" y1="787" x2="1619.7" y2="796.9" stroke="#9a8c1e" stroke-width="1.4"/>
<line x1="1595.8" y1="785.3" x2="1620.7" y2="794.4" stroke="#fff68a" stroke-width="1.0"/>
<path d="M1692.3 745.7 L1702.3 745.7 L1701.3 730.8 L1704.3 728.8 L1711.2 732.8 L1712.2 745.7 L1713.2 749.7 L1706.3 757.6 L1708.3 771.6 L1705.3 775.5 L1697.3 778.5 L1684.4 784.5 L1674.4 785.5 L1673.4 759.6Z" fill="#b5a520" stroke="#0e0e0a" stroke-width="1.1" stroke-linejoin="round"/>
<path d="M1693.3 743.7 L1701.3 741.7 L1709.2 745.7 L1701.3 751.7 L1693.3 749.7Z" fill="#f0e040"/>
<path d="M1675.4 767.6 L1684.4 765.6 L1689.3 779.5 L1679.4 783.5 L1675.4 779.5Z" fill="#5e5410"/>
<ellipse cx="1692.8" cy="774" rx="4.2" ry="3.4" fill="#f0e040" stroke="#0e0e0a" stroke-width="0.8"/>
<ellipse cx="1705.8" cy="735.3" rx="2" ry="2.4" fill="#ddd" stroke="#0e0e0a" stroke-width="0.8"/>
<path d="M1637.1 749.7 C1637.3 748.5 1638.9 745.1 1640.1 744.2 C1641.3 743.4 1646.4 740.5 1649.5 741.2 C1652.7 742 1669.4 749.8 1671.4 751.7 C1673.5 753.5 1670.7 758.3 1670 759.6 C1669.2 761 1665.9 764.9 1663.5 765.1 C1661 765.3 1648.1 762.7 1645.6 761.8 C1643.1 760.9 1639.5 757.4 1638.6 756.1 C1637.8 754.9 1637 750.9 1637.1 749.7Z" fill="#f4e544" stroke="#0e0e0a" stroke-width="1.1"/>
<path d="M1638.6 755.6 C1639.8 756.6 1641.4 759.7 1645.6 761.1 C1649.7 762.6 1659.5 764.6 1663.5 764.4 C1667.5 764.2 1668.5 760.4 1669.5 759.6" fill="none" stroke="#b5a520" stroke-width="3"/>
<line x1="1642.6" y1="745.7" x2="1668.5" y2="753.7" stroke="#fffbb0" stroke-width="1.6"/>
<path d="M1622.7 779.5 L1625.7 777.5 L1633.6 774.5 L1637.6 776.5 L1642.6 775.5 L1646.6 768.6 L1655.5 764.6 L1673.4 759.6 L1672.4 749.7 L1680.4 737.8 L1690.3 735.8 L1692.3 738.7 L1693.3 749.7 L1712.2 745.7 L1713.2 749.7 L1674.4 769.6 L1674.4 785.5 L1675.4 799.4 L1665.5 809.4 L1663.5 815.3 L1652.5 821.3 L1625.7 818.3 L1619.7 813.3 L1616.7 806.4 L1619.7 798.4 L1622.7 795.4Z" fill="#7c7018" stroke="#0e0e0a" stroke-width="1.2" stroke-linejoin="round"/>
<path d="M1646.6 768.6 L1655.5 764.6 L1673.4 759.6 L1712.2 746.2 L1712.7 749.2 L1674.4 768.6 L1649.5 777.5 L1643.6 776.5Z" fill="#a3941e" stroke="#0e0e0a" stroke-width="0.9"/>
<path d="M1625.7 815.3 L1652.5 818.3 L1663.5 812.4 L1663.5 815.5 L1652.5 821.3 L1625.7 818.3Z" fill="#e2d233"/>
<path d="M1617.7 799.4 L1622.7 795.4 L1623.7 809.4 L1619.7 813.3Z" fill="#d6c62e" stroke="#0e0e0a" stroke-width="0.8"/>
<path d="M1646.6 778.5 C1645.1 779.7 1640.4 782.3 1637.6 785.5 C1634.8 788.6 1631.6 793.8 1629.7 797.4 C1627.7 801.1 1626.3 805.7 1625.7 807.4" fill="none" stroke="#0e0e0a" stroke-width="1.1"/>
<path d="M1649.5 782.5 C1652.7 782 1661.2 782.7 1663.5 783.5 C1665.8 784.3 1667 786.6 1667 788.5 C1667 790.3 1665 795.8 1663.5 797.4 C1662 799 1658.4 799.9 1655.5 800.4 C1652.6 800.9 1644.1 802.1 1641.6 801.4 C1639.1 800.7 1636.9 797.3 1636.6 795.4 C1636.4 793.6 1637.9 789.2 1639.6 787.5 C1641.3 785.8 1646.4 783 1649.5 782.5Z" fill="#6b6014" stroke="#0e0e0a" stroke-width="1"/>
<ellipse cx="1645.6" cy="791.5" rx="8.2" ry="9.4" transform="rotate(20 1645.6 791.5)" fill="#8a7d1a" stroke="#0e0e0a" stroke-width="1"/>
<path d="M1653.5 788.5 L1660.5 789.5 L1659.5 794 L1652.5 794.4Z" fill="#fff" stroke="#0e0e0a" stroke-width="0.8"/>
<circle cx="1646.1" cy="792.2" r="1.6" fill="#d6c62e" stroke="#0e0e0a" stroke-width="0.7"/>
<ellipse cx="1630.7" cy="784.5" rx="2.4" ry="2.8" transform="rotate(20 1630.7 784.5)" fill="#cfcfcf" stroke="#0e0e0a" stroke-width="0.8"/>
<ellipse cx="1682.9" cy="746.7" rx="2.4" ry="2.8" transform="rotate(20 1682.9 746.7)" fill="#cfcfcf" stroke="#0e0e0a" stroke-width="0.8"/>
<ellipse cx="1669" cy="780" rx="2.4" ry="2.8" transform="rotate(20 1669 780)" fill="#94861c" stroke="#0e0e0a" stroke-width="0.8"/>
<ellipse cx="1628.7" cy="805.2" rx="2.4" ry="2.8" transform="rotate(20 1628.7 805.2)" fill="#94861c" stroke="#0e0e0a" stroke-width="0.8"/>
<ellipse cx="1641.1" cy="806.4" rx="2.4" ry="2.8" transform="rotate(20 1641.1 806.4)" fill="#94861c" stroke="#0e0e0a" stroke-width="0.8"/>
<ellipse cx="1653.5" cy="807.9" rx="2.4" ry="2.8" transform="rotate(20 1653.5 807.9)" fill="#94861c" stroke="#0e0e0a" stroke-width="0.8"/>
<line x1="1636.9" y1="723.5" x2="1647.6" y2="728.3" stroke="#1a1a1a" stroke-width="5.4" stroke-linecap="round"/>
<line x1="1636.9" y1="723.5" x2="1647.6" y2="728.3" stroke="#d6d6d6" stroke-width="3.6" stroke-linecap="round"/>
<ellipse cx="1636.1" cy="723.2" rx="2.6" ry="5.4" transform="rotate(24 1636.1 723.2)" fill="#9a9a9a" stroke="#111" stroke-width="0.8"/>
<ellipse cx="1634.1" cy="722.3" rx="3.2" ry="5" transform="rotate(24 1634.1 722.3)" fill="#4a4a4a" stroke="#111" stroke-width="0.8"/>
<ellipse cx="1633.6" cy="722.1" rx="1.8" ry="3" transform="rotate(24 1633.6 722.1)" fill="#7d7d7d"/>
<line x1="1582.6" y1="760.3" x2="1593.3" y2="765.1" stroke="#1a1a1a" stroke-width="5.4" stroke-linecap="round"/>
<line x1="1582.6" y1="760.3" x2="1593.3" y2="765.1" stroke="#d6d6d6" stroke-width="3.6" stroke-linecap="round"/>
<ellipse cx="1581.9" cy="760" rx="2.6" ry="5.4" transform="rotate(24 1581.9 760)" fill="#9a9a9a" stroke="#111" stroke-width="0.8"/>
<ellipse cx="1579.9" cy="759.1" rx="3.2" ry="5" transform="rotate(24 1579.9 759.1)" fill="#4a4a4a" stroke="#111" stroke-width="0.8"/>
<ellipse cx="1579.4" cy="758.9" rx="1.8" ry="3" transform="rotate(24 1579.4 758.9)" fill="#7d7d7d"/>
<line x1="1610.6" y1="757" x2="1619.7" y2="768.6" stroke="#1a1a1a" stroke-width="5.0" stroke-linecap="round"/>
<line x1="1610.6" y1="757" x2="1619.7" y2="768.6" stroke="#6e6e6e" stroke-width="3.1999999999999997" stroke-linecap="round"/>
<ellipse cx="1610.1" cy="756.4" rx="2.6" ry="5.4" transform="rotate(51.8 1610.1 756.4)" fill="#9a9a9a" stroke="#111" stroke-width="0.8"/>
<ellipse cx="1608.8" cy="754.7" rx="3.2" ry="5" transform="rotate(51.8 1608.8 754.7)" fill="#4a4a4a" stroke="#111" stroke-width="0.8"/>
<ellipse cx="1608.4" cy="754.2" rx="1.8" ry="3" transform="rotate(51.8 1608.4 754.2)" fill="#7d7d7d"/>
<line x1="1620.7" y1="769.6" x2="1625.7" y2="777.5" stroke="#222" stroke-width="0.9"/>
<path d="M1671.4 718.4 L1686.4 700.9 L1690.3 702.4 L1692.3 704.9 L1697.3 699.5 L1701.3 701.9 L1696.3 709.9 L1697.3 712.9 L1687.4 724.8 L1679.4 730.3 L1674.4 728.3 L1672.4 722.8Z" fill="#121820" stroke="#0e0e0a" stroke-width="1" stroke-linejoin="round"/>
<line x1="1677.4" y1="712.9" x2="1687.4" y2="702.9" stroke="#7ec4f0" stroke-width="1.6"/>
<line x1="1686.4" y1="719.8" x2="1693.3" y2="711.4" stroke="#7ec4f0" stroke-width="1.6"/>
<line x1="1679.4" y1="726.8" x2="1684.4" y2="721.8" stroke="#7ec4f0" stroke-width="1.6"/>
</g>
<!-- small -->
<g transform="translate(0 0)">
<path d="M304.3 698 L309.1 693.9 L334.8 681.3 L337.8 681.9 L362.8 695.1 L365.2 699.8 L362.2 715.4 L358.1 718.3 L352.1 717.1 L349.7 713 L346.1 715.4 L340.1 732.1 L333 732.7 L325.8 735.6 L322.2 736.2 L316.3 732.1 L316.3 724.9 L304.3 721.3 L303.1 715.4 L306.1 704.6Z" fill="#17406c" stroke="#0e0e0e" stroke-width="1.1" stroke-linejoin="round"/>
<path d="M306.1 704.6 L330.6 714.2 L329.4 727.3 L325.8 735 L316.3 731.5 L316.3 724.9 L304.3 721.3 L303.4 715.4Z" fill="#2f86d8"/>
<path d="M354.5 703.4 L362.8 701 L361.6 715.4 L358.1 717.8 L352.7 716.5Z" fill="#62b6f6"/>
<path d="M304.3 698.6 C304.5 698 306.6 695.3 309.1 693.9 C311.6 692.4 332.4 682.3 334.8 681.3 C337.2 680.3 335.4 680.8 337.8 681.9 C340.1 683.1 360.6 693.6 362.8 695.1 C365.1 696.6 365.1 699.2 365 699.8 C364.9 700.5 364.2 701.9 361.6 702.8 C359.1 703.8 336.8 710.5 334.2 711.2 C331.6 711.9 332.9 711.9 330.6 711.2 C328.3 710.4 308.9 703.3 306.7 702.2 C304.5 701.2 304.1 699.3 304.3 698.6Z" fill="#2f86d8" stroke="#0e0e0e" stroke-width="1"/>
<path d="M312.1 698.6 C312 697.5 328.1 689.2 330.6 689.1 C333.1 689 349.6 695.3 349.7 696.5 C349.8 697.7 334.3 706.6 331.8 706.8 C329.3 706.9 312.2 699.8 312.1 698.6Z" fill="#17406c" stroke="#0e0e0e" stroke-width="0.9"/>
<path d="M315.7 699.8 C315.3 699 324 693.9 325.8 693.9 C327.6 693.9 342.2 699.3 342.5 700.1 C342.9 700.9 333 705.8 331.2 705.8 C329.4 705.8 316 700.6 315.7 699.8Z" fill="#62b6f6"/>
<path d="M321 695.7 C320.5 695.1 328 691.4 329.4 691.5 C330.8 691.6 342 696.3 342.5 696.9 C343.1 697.4 339.2 699.9 337.8 699.8 C336.3 699.8 321.6 696.2 321 695.7Z" fill="#17406c"/>
<path d="M306.7 702.2 C308.3 702.8 328.8 710.6 330.6 711.2 C332.4 711.8 332.1 711.7 334.2 711.2 C336.2 710.6 359.8 703.4 361.6 702.8" fill="none" stroke="#0e0e0e" stroke-width="1.0"/>
<line x1="330.6" y1="717.8" x2="328.8" y2="724.9" stroke="#0e0e0e" stroke-width="2.0"/>
<line x1="346.1" y1="715.4" x2="340.1" y2="732.1" stroke="#0e0e0e" stroke-width="1.0"/>
</g>
<g transform="translate(469.7 235.1)">
<path d="M304.3 698 L309.1 693.9 L334.8 681.3 L337.8 681.9 L362.8 695.1 L365.2 699.8 L362.2 715.4 L358.1 718.3 L352.1 717.1 L349.7 713 L346.1 715.4 L340.1 732.1 L333 732.7 L325.8 735.6 L322.2 736.2 L316.3 732.1 L316.3 724.9 L304.3 721.3 L303.1 715.4 L306.1 704.6Z" fill="#2470b8" stroke="#0e0e0e" stroke-width="1.1" stroke-linejoin="round"/>
<path d="M306.1 704.6 L330.6 714.2 L329.4 727.3 L325.8 735 L316.3 731.5 L316.3 724.9 L304.3 721.3 L303.4 715.4Z" fill="#3f9de9"/>
<path d="M354.5 703.4 L362.8 701 L361.6 715.4 L358.1 717.8 L352.7 716.5Z" fill="#7cc6fa"/>
<path d="M304.3 698.6 C304.5 698 306.6 695.3 309.1 693.9 C311.6 692.4 332.4 682.3 334.8 681.3 C337.2 680.3 335.4 680.8 337.8 681.9 C340.1 683.1 360.6 693.6 362.8 695.1 C365.1 696.6 365.1 699.2 365 699.8 C364.9 700.5 364.2 701.9 361.6 702.8 C359.1 703.8 336.8 710.5 334.2 711.2 C331.6 711.9 332.9 711.9 330.6 711.2 C328.3 710.4 308.9 703.3 306.7 702.2 C304.5 701.2 304.1 699.3 304.3 698.6Z" fill="#3f9de9" stroke="#0e0e0e" stroke-width="1"/>
<path d="M312.1 698.6 C312 697.5 328.1 689.2 330.6 689.1 C333.1 689 349.6 695.3 349.7 696.5 C349.8 697.7 334.3 706.6 331.8 706.8 C329.3 706.9 312.2 699.8 312.1 698.6Z" fill="#2470b8" stroke="#0e0e0e" stroke-width="0.9"/>
<path d="M315.7 699.8 C315.3 699 324 693.9 325.8 693.9 C327.6 693.9 342.2 699.3 342.5 700.1 C342.9 700.9 333 705.8 331.2 705.8 C329.4 705.8 316 700.6 315.7 699.8Z" fill="#7cc6fa"/>
<path d="M321 695.7 C320.5 695.1 328 691.4 329.4 691.5 C330.8 691.6 342 696.3 342.5 696.9 C343.1 697.4 339.2 699.9 337.8 699.8 C336.3 699.8 321.6 696.2 321 695.7Z" fill="#2470b8"/>
<path d="M306.7 702.2 C308.3 702.8 328.8 710.6 330.6 711.2 C332.4 711.8 332.1 711.7 334.2 711.2 C336.2 710.6 359.8 703.4 361.6 702.8" fill="none" stroke="#0e0e0e" stroke-width="1.0"/>
<line x1="330.6" y1="717.8" x2="328.8" y2="724.9" stroke="#0e0e0e" stroke-width="2.0"/>
<line x1="346.1" y1="715.4" x2="340.1" y2="732.1" stroke="#0e0e0e" stroke-width="1.0"/>
</g>
<g >
<line x1="389.4" y1="735.6" x2="383.3" y2="772.6" stroke="#0e0e0e" stroke-width="13.2" stroke-linecap="round"/>
<line x1="389.4" y1="735.6" x2="383.3" y2="772.6" stroke="#b9a722" stroke-width="11.2" stroke-linecap="round"/>
<line x1="392.2" y1="735.6" x2="386.1" y2="772.6" stroke="#f2e23c" stroke-width="3.2" stroke-linecap="round"/>
<line x1="387.9" y1="741.6" x2="382.3" y2="760.6" stroke="#0e0e0e" stroke-width="1.4" stroke-dasharray="7 3 3 4"/>
<line x1="390" y1="745.6" x2="384.9" y2="768.6" stroke="#0e0e0e" stroke-width="1.0" stroke-dasharray="3 5 8 3"/>
<ellipse cx="390.9" cy="731.1" rx="12.6" ry="7" transform="rotate(-4 390.9 731.1)" fill="#b9a722" stroke="#0e0e0e" stroke-width="1.1"/>
<ellipse cx="390.9" cy="728.6" rx="12.8" ry="7.2" transform="rotate(-4 390.9 728.6)" fill="#f2e23c" stroke="#0e0e0e" stroke-width="1.1"/>
<ellipse cx="387.9" cy="731.8" rx="5" ry="1.6" transform="rotate(-4 387.9 731.8)" fill="#fff8b0" opacity=".9"/>
<ellipse cx="391.5" cy="726.2" rx="4.4" ry="2.4" transform="rotate(-4 391.5 726.2)" fill="#1c1c1c" stroke="#0e0e0e" stroke-width="0.6"/>
</g>
<g >
<line x1="429.2" y1="755.3" x2="423.1" y2="792.3" stroke="#0e0e0e" stroke-width="13.2" stroke-linecap="round"/>
<line x1="429.2" y1="755.3" x2="423.1" y2="792.3" stroke="#b8689a" stroke-width="11.2" stroke-linecap="round"/>
<line x1="432" y1="755.3" x2="425.9" y2="792.3" stroke="#e48cbc" stroke-width="3.2" stroke-linecap="round"/>
<line x1="427.7" y1="761.3" x2="422.1" y2="780.3" stroke="#0e0e0e" stroke-width="1.4" stroke-dasharray="7 3 3 4"/>
<line x1="429.8" y1="765.3" x2="424.7" y2="788.3" stroke="#0e0e0e" stroke-width="1.0" stroke-dasharray="3 5 8 3"/>
<ellipse cx="430.7" cy="750.8" rx="12.6" ry="7" transform="rotate(-4 430.7 750.8)" fill="#b8689a" stroke="#0e0e0e" stroke-width="1.1"/>
<ellipse cx="430.7" cy="748.3" rx="12.8" ry="7.2" transform="rotate(-4 430.7 748.3)" fill="#e48cbc" stroke="#0e0e0e" stroke-width="1.1"/>
<ellipse cx="427.7" cy="751.5" rx="5" ry="1.6" transform="rotate(-4 427.7 751.5)" fill="#ffe0f0" opacity=".9"/>
<ellipse cx="431.3" cy="745.9" rx="4.4" ry="2.4" transform="rotate(-4 431.3 745.9)" fill="#1c1c1c" stroke="#0e0e0e" stroke-width="0.6"/>
</g>
<g >
<line x1="694.5" y1="888.4" x2="688.4" y2="925.4" stroke="#0e0e0e" stroke-width="13.2" stroke-linecap="round"/>
<line x1="694.5" y1="888.4" x2="688.4" y2="925.4" stroke="#b9a722" stroke-width="11.2" stroke-linecap="round"/>
<line x1="697.3" y1="888.4" x2="691.2" y2="925.4" stroke="#f2e23c" stroke-width="3.2" stroke-linecap="round"/>
<line x1="693" y1="894.4" x2="687.4" y2="913.4" stroke="#0e0e0e" stroke-width="1.4" stroke-dasharray="7 3 3 4"/>
<line x1="695.1" y1="898.4" x2="690" y2="921.4" stroke="#0e0e0e" stroke-width="1.0" stroke-dasharray="3 5 8 3"/>
<ellipse cx="696" cy="883.9" rx="12.6" ry="7" transform="rotate(-4 696 883.9)" fill="#b9a722" stroke="#0e0e0e" stroke-width="1.1"/>
<ellipse cx="696" cy="881.4" rx="12.8" ry="7.2" transform="rotate(-4 696 881.4)" fill="#f2e23c" stroke="#0e0e0e" stroke-width="1.1"/>
<ellipse cx="693" cy="884.6" rx="5" ry="1.6" transform="rotate(-4 693 884.6)" fill="#fff8b0" opacity=".9"/>
<ellipse cx="696.6" cy="879" rx="4.4" ry="2.4" transform="rotate(-4 696.6 879)" fill="#1c1c1c" stroke="#0e0e0e" stroke-width="0.6"/>
</g>
<g >
<line x1="734.1" y1="908" x2="728" y2="945" stroke="#0e0e0e" stroke-width="13.2" stroke-linecap="round"/>
<line x1="734.1" y1="908" x2="728" y2="945" stroke="#b8689a" stroke-width="11.2" stroke-linecap="round"/>
<line x1="736.9" y1="908" x2="730.8" y2="945" stroke="#e48cbc" stroke-width="3.2" stroke-linecap="round"/>
<line x1="732.6" y1="914" x2="727" y2="933" stroke="#0e0e0e" stroke-width="1.4" stroke-dasharray="7 3 3 4"/>
<line x1="734.7" y1="918" x2="729.6" y2="941" stroke="#0e0e0e" stroke-width="1.0" stroke-dasharray="3 5 8 3"/>
<ellipse cx="735.6" cy="903.5" rx="12.6" ry="7" transform="rotate(-4 735.6 903.5)" fill="#b8689a" stroke="#0e0e0e" stroke-width="1.1"/>
<ellipse cx="735.6" cy="901" rx="12.8" ry="7.2" transform="rotate(-4 735.6 901)" fill="#e48cbc" stroke="#0e0e0e" stroke-width="1.1"/>
<ellipse cx="732.6" cy="904.2" rx="5" ry="1.6" transform="rotate(-4 732.6 904.2)" fill="#ffe0f0" opacity=".9"/>
<ellipse cx="736.2" cy="898.6" rx="4.4" ry="2.4" transform="rotate(-4 736.2 898.6)" fill="#1c1c1c" stroke="#0e0e0e" stroke-width="0.6"/>
</g>
<g >
<line x1="478.7" y1="781" x2="481" y2="786.4" stroke="#0e0e0e" stroke-width="5.2" stroke-linecap="round"/>
<line x1="478.7" y1="781" x2="481" y2="786.4" stroke="#3f9ee8" stroke-width="3.2" stroke-linecap="round"/>
<line x1="493" y1="786.4" x2="494.8" y2="791.8" stroke="#0e0e0e" stroke-width="5.2" stroke-linecap="round"/>
<line x1="493" y1="786.4" x2="494.8" y2="791.8" stroke="#3f9ee8" stroke-width="3.2" stroke-linecap="round"/>
<line x1="508.5" y1="787.6" x2="509.5" y2="793.2" stroke="#0e0e0e" stroke-width="5.2" stroke-linecap="round"/>
<line x1="508.5" y1="787.6" x2="509.5" y2="793.2" stroke="#3f9ee8" stroke-width="3.2" stroke-linecap="round"/>
<path d="M469.7 770.5 C469.8 769.6 471.4 766.6 472.7 765.5 C473.9 764.4 480.8 760.3 482.2 759.8 C483.7 759.2 483.5 758.7 487 760.2 C490.5 761.8 513.6 773.1 516.9 775 C520.1 776.9 519.2 778.4 519.2 779.2 C519.2 780.1 517.9 782.6 516.9 783.4 C515.8 784.2 510.2 786.9 508.5 787.2 C506.8 787.5 503.4 787.6 500.1 786.5 C496.9 785.4 479.1 777.7 476.3 776.5 C473.4 775.2 472.1 774.7 471.5 774.1 C470.8 773.5 469.6 771.4 469.7 770.5Z" fill="#52aef4" stroke="#0e0e0e" stroke-width="1.1"/>
<path d="M481 766.7 C481.3 766 483 762.3 485.8 763.1 C488.7 763.9 507.3 773.5 509.7 775 C512.1 776.5 510.2 777.6 509.7 778 C509.2 778.4 507.6 780 504.9 779.2 C502.3 778.4 485.8 771.5 483.4 770.3 C481 769 480.8 767.4 481 766.7Z" fill="#86d0ff" stroke="#2a6aa8" stroke-width="0.8"/>
<path d="M485.8 779.2 C486.6 778.6 487.2 775.6 490.6 775.6 C494 775.6 503.5 778.6 506.1 779.2" fill="none" stroke="#2a6aa8" stroke-width="1"/>
<path d="M471.5 774.1 C472 774.3 473.4 775.2 476.3 776.5 C479.1 777.7 496.9 785.4 500.1 786.5 C503.4 787.6 506.8 787.5 508.5 787.2 C510.2 786.9 516 783.8 516.9 783.4" fill="none" stroke="#2f7fc4" stroke-width="1.6"/>
</g>
<!-- misc -->
<path d="M836.6 752.5 C837.8 753.2 840.9 755.7 843.7 756.7 C846.5 757.7 850.5 758.6 853.3 758.7 C856.1 758.8 858.3 758.7 860.5 757.3 C862.6 755.9 864.2 753.5 866.4 750.1 C868.6 746.7 871.2 740.1 873.6 737 C876 733.9 878.6 732 880.8 731.3 C882.9 730.6 885.3 731.1 886.7 732.8 C888.1 734.6 888.3 738.7 889.1 741.8 C889.9 744.9 890.3 748.9 891.5 751.3 C892.7 753.8 894.7 755.8 896.3 756.3 C897.9 756.8 899 756.1 901 754.3 C903 752.5 906.2 748.6 908.2 745.4 C910.2 742.1 912.4 736.4 913.2 734.6" fill="none" stroke="#2a2418" stroke-width="3.0" stroke-linecap="round" stroke-linejoin="round"/>
<path d="M836.6 752.5 C837.8 753.2 840.9 755.7 843.7 756.7 C846.5 757.7 850.5 758.6 853.3 758.7 C856.1 758.8 858.3 758.7 860.5 757.3 C862.6 755.9 864.2 753.5 866.4 750.1 C868.6 746.7 871.2 740.1 873.6 737 C876 733.9 878.6 732 880.8 731.3 C882.9 730.6 885.3 731.1 886.7 732.8 C888.1 734.6 888.3 738.7 889.1 741.8 C889.9 744.9 890.3 748.9 891.5 751.3 C892.7 753.8 894.7 755.8 896.3 756.3 C897.9 756.8 899 756.1 901 754.3 C903 752.5 906.2 748.6 908.2 745.4 C910.2 742.1 912.4 736.4 913.2 734.6" fill="none" stroke="#d2be96" stroke-width="1.3" stroke-linecap="round" stroke-linejoin="round"/>
<circle cx="897.5" cy="752.5" r="3" fill="none" stroke="#0e0e0e" stroke-width="1.1"/>
<path d="M914.4 716.1 L922.5 719.1 L923.7 723.9 L920.8 725.7 L917.8 735.2 L913 734.6 L910.4 732.2Z" fill="#2a2418" stroke="#0e0e0e" stroke-width="0.9" stroke-linejoin="round"/>
<path d="M915.1 718.5 L919.2 720 L916.8 726.9 L913 725.3Z" fill="#e8d48a" stroke="#0e0e0e" stroke-width="0.6"/>
<ellipse cx="820.1" cy="745.1" rx="14.2" ry="14.8" fill="#15130e" stroke="#0e0e0e" stroke-width="1"/>
<path d="M830.6 747.8 L835.4 748.9 L836.8 752.5 L834.2 755.5 L830 754.3Z" fill="#e8d48a" stroke="#0e0e0e" stroke-width="0.9" stroke-linejoin="round"/>
<ellipse cx="816.5" cy="743.9" rx="13.4" ry="13.4" fill="#a89a78" stroke="#0e0e0e" stroke-width="0.9"/>
<ellipse cx="815.3" cy="743.6" rx="12.4" ry="13" fill="#eddd94" stroke="#0e0e0e" stroke-width="0.9"/>
<path d="M1015.7 968.4 C1016.8 969 1019.8 970.7 1022.1 971.6 C1024.3 972.5 1026.9 973.5 1029.2 974 C1031.6 974.5 1033.9 974.3 1036.4 974.5 C1038.9 974.7 1041.9 974.6 1044.4 975.3 C1046.9 976 1049 977.5 1051.5 978.8 C1054.1 980 1057.2 982 1059.5 982.8 C1061.8 983.5 1063.5 983.8 1065.1 983.2 C1066.7 982.7 1068.2 981.5 1069 979.6 C1069.9 977.6 1070.2 974.5 1070.3 971.6 C1070.4 968.7 1069.6 965 1069.5 962.1 C1069.5 959.2 1069.4 956.8 1070 954.1 C1070.6 951.5 1072 948.8 1073 946.1 C1074.1 943.5 1075.8 940.6 1076.4 938.2 C1076.9 935.8 1076.9 933.7 1076.4 931.8 C1075.8 930 1074.2 928.3 1073 927.2 C1071.8 926.1 1069.8 925.5 1069.2 925.1" fill="none" stroke="#2a2418" stroke-width="3.4" stroke-linecap="round" stroke-linejoin="round"/>
<path d="M1015.7 968.4 C1016.8 969 1019.8 970.7 1022.1 971.6 C1024.3 972.5 1026.9 973.5 1029.2 974 C1031.6 974.5 1033.9 974.3 1036.4 974.5 C1038.9 974.7 1041.9 974.6 1044.4 975.3 C1046.9 976 1049 977.5 1051.5 978.8 C1054.1 980 1057.2 982 1059.5 982.8 C1061.8 983.5 1063.5 983.8 1065.1 983.2 C1066.7 982.7 1068.2 981.5 1069 979.6 C1069.9 977.6 1070.2 974.5 1070.3 971.6 C1070.4 968.7 1069.6 965 1069.5 962.1 C1069.5 959.2 1069.4 956.8 1070 954.1 C1070.6 951.5 1072 948.8 1073 946.1 C1074.1 943.5 1075.8 940.6 1076.4 938.2 C1076.9 935.8 1076.9 933.7 1076.4 931.8 C1075.8 930 1074.2 928.3 1073 927.2 C1071.8 926.1 1069.8 925.5 1069.2 925.1" fill="none" stroke="#d2be96" stroke-width="1.7" stroke-linecap="round" stroke-linejoin="round"/>
<ellipse cx="1074" cy="954.3" rx="3.6" ry="4.6" fill="none" stroke="#0e0e0e" stroke-width="1.3"/>
<path d="M1053.9 915.9 L1062.7 917.9 L1070.7 922.3 L1069.8 926.3 L1065.9 927.9 L1058.7 925.5 L1052.3 921.5Z" fill="#241f14" stroke="#0e0e0e" stroke-width="0.9" stroke-linejoin="round"/>
<path d="M1054.3 917.9 L1059.5 919.1 L1058.3 923.5 L1053.3 921.5Z" fill="#e8d48a" stroke="#0e0e0e" stroke-width="0.6"/>
<ellipse cx="998.4" cy="961.3" rx="14" ry="14.8" fill="#15130e" stroke="#0e0e0e" stroke-width="1"/>
<path d="M1008.6 962.9 L1013.3 963.7 L1015.1 967.6 L1012.1 971.6 L1007.8 969.2Z" fill="#e8d48a" stroke="#0e0e0e" stroke-width="0.9" stroke-linejoin="round"/>
<ellipse cx="993.8" cy="960.1" rx="12" ry="13.4" fill="#a89a78" stroke="#0e0e0e" stroke-width="0.9"/>
<ellipse cx="992.2" cy="959.7" rx="10.8" ry="13.2" fill="#eddd94" stroke="#0e0e0e" stroke-width="0.9"/>
<ellipse cx="1125.7" cy="778.8" rx="9.6" ry="12.6" transform="rotate(18 1125.7 778.8)" fill="#8e4a6b" stroke="#0e0e0e" stroke-width="1.1"/>
<ellipse cx="1129.3" cy="779.4" rx="6" ry="7.6" transform="rotate(18 1129.3 779.4)" fill="#fff" stroke="#0e0e0e" stroke-width="0.9"/>
<path d="M1128.4 772.2 L1136.7 774.6 L1135.5 786.5 L1129.5 787.7Z" fill="#fff"/>
<ellipse cx="1125" cy="777.6" rx="2.6" ry="5.6" transform="rotate(18 1125 777.6)" fill="#c987aa"/>
<line x1="1188.1" y1="809.8" x2="1204.8" y2="816.4" stroke="#bbb" stroke-width="5.4"/>
<line x1="1188.1" y1="809.8" x2="1204.8" y2="816.4" stroke="#fff" stroke-width="4.2"/>
<ellipse cx="1184.5" cy="808.2" rx="10.6" ry="14.4" transform="rotate(22 1184.5 808.2)" fill="#7d4360" stroke="#0e0e0e" stroke-width="1.1"/>
<ellipse cx="1185.4" cy="807.8" rx="8.6" ry="12" transform="rotate(22 1185.4 807.8)" fill="#a15b80" stroke="#0e0e0e" stroke-width="0.8"/>
<ellipse cx="1187.1" cy="807.1" rx="4.2" ry="6.2" transform="rotate(22 1187.1 807.1)" fill="#f0a8d0" stroke="#5a2a44" stroke-width="0.8"/>
<ellipse cx="1188.3" cy="808.6" rx="2.6" ry="3.8" transform="rotate(22 1188.3 808.6)" fill="#fff"/>
<ellipse cx="1086.1" cy="681.9" rx="2" ry="2.6" fill="#d8d8d8" stroke="#222" stroke-width="0.7"/>
<ellipse cx="1089.5" cy="683.5" rx="4.6" ry="5" transform="rotate(15 1089.5 683.5)" fill="#4c4c4c" stroke="#151515" stroke-width="0.9"/>
<ellipse cx="1088.5" cy="682.5" rx="2.8" ry="3.1" transform="rotate(15 1088.5 682.5)" fill="#9a9a9a"/>
<circle cx="1090.8" cy="684.9" r="1" fill="#1c1c1c"/>
<ellipse cx="1080.2" cy="700.8" rx="2" ry="2.6" fill="#d8d8d8" stroke="#222" stroke-width="0.7"/>
<ellipse cx="1083.6" cy="702.4" rx="4.6" ry="5" transform="rotate(15 1083.6 702.4)" fill="#4c4c4c" stroke="#151515" stroke-width="0.9"/>
<ellipse cx="1082.6" cy="701.4" rx="2.8" ry="3.1" transform="rotate(15 1082.6 701.4)" fill="#9a9a9a"/>
<circle cx="1084.8" cy="703.8" r="1" fill="#1c1c1c"/>
<ellipse cx="1163.1" cy="507.9" rx="2" ry="2.6" fill="#d8d8d8" stroke="#222" stroke-width="0.7"/>
<ellipse cx="1166.5" cy="509.5" rx="4.2" ry="4.6" transform="rotate(15 1166.5 509.5)" fill="#4c4c4c" stroke="#151515" stroke-width="0.9"/>
<ellipse cx="1165.5" cy="508.5" rx="2.5" ry="2.9" transform="rotate(15 1165.5 508.5)" fill="#9a9a9a"/>
<circle cx="1167.7" cy="510.9" r="1" fill="#1c1c1c"/>
<ellipse cx="1172.1" cy="668.4" rx="1.2" ry="2.6" transform="rotate(15 1172.1 668.4)" fill="#999" stroke="#222" stroke-width="0.7"/>
<ellipse cx="1206" cy="563.5" rx="1.2" ry="2.4" transform="rotate(15 1206 563.5)" fill="#999" stroke="#222" stroke-width="0.7"/>
<circle cx="1158.5" cy="539.5" r="0.9" fill="#555"/>
<circle cx="1123.5" cy="642.5" r="0.9" fill="#555"/>
<ellipse cx="1466.8" cy="617.2" rx="2.2" ry="2.6" fill="#3a3a3a" stroke="#111" stroke-width="0.8"/>
<line x1="1468" y1="616" x2="1473" y2="614" stroke="#222" stroke-width="0.8"/>
<path d="M964.8 1069.2 L967.8 1067.5 L998.6 1064.5 L1002.6 1064.7 L1008.6 1067.7 L1008.1 1069.5 L989.6 1072.2 L988.7 1073.7 L995.6 1077.1 L1021.5 1074.7 L1025.5 1075.7 L1053.3 1072.5 L1061.3 1076.2 L1066.3 1077.6 L1067.3 1081.6 L1061.3 1079.6 L1059.3 1076.8 L1032.4 1079.6 L1032.4 1080.6 L998.6 1084.1 L993.6 1084.1 L987.7 1081.6 L986.2 1079.6 L987.7 1077.6 L979.7 1073.2 L967.8 1072.2 L965.3 1070.9Z" fill="#2f7fd0" stroke="#0e0e0e" stroke-width="1.1" stroke-linejoin="round"/>
<ellipse cx="970.8" cy="1070.3" rx="2" ry="1" transform="rotate(-8 970.8 1070.3)" fill="#bcd4ea" stroke="#0e0e0e" stroke-width="0.6"/>
<ellipse cx="987.7" cy="1068.7" rx="2" ry="1" transform="rotate(-8 987.7 1068.7)" fill="#bcd4ea" stroke="#0e0e0e" stroke-width="0.6"/>
<ellipse cx="1001.6" cy="1066.7" rx="2" ry="1" transform="rotate(-8 1001.6 1066.7)" fill="#bcd4ea" stroke="#0e0e0e" stroke-width="0.6"/>
<ellipse cx="993.1" cy="1081.6" rx="2" ry="1" transform="rotate(-8 993.1 1081.6)" fill="#bcd4ea" stroke="#0e0e0e" stroke-width="0.6"/>
<ellipse cx="1010.5" cy="1079.6" rx="2" ry="1" transform="rotate(-8 1010.5 1079.6)" fill="#bcd4ea" stroke="#0e0e0e" stroke-width="0.6"/>
<ellipse cx="1024.5" cy="1078.1" rx="2" ry="1" transform="rotate(-8 1024.5 1078.1)" fill="#bcd4ea" stroke="#0e0e0e" stroke-width="0.6"/>
<line x1="985.7" y1="1070.5" x2="1007.6" y2="1067.9" stroke="#0e0e0e" stroke-width="0.8"/>
<line x1="1009.5" y1="1078.6" x2="1031.4" y2="1076.5" stroke="#0e0e0e" stroke-width="0.8"/>
<path d="M1080.2 1047.8 C1081.7 1046.1 1085.7 1041 1089.2 1037.8 C1092.6 1034.7 1098.2 1030.2 1101.1 1028.9 C1104 1027.6 1105.4 1028.9 1106.6 1029.9 C1107.7 1030.9 1109.1 1032.7 1107.9 1034.9 C1106.6 1037 1102.2 1040.5 1099.1 1042.8 C1096 1045.2 1091.8 1046.7 1089.2 1049 C1086.5 1051.3 1084.2 1055.5 1083.2 1056.8" fill="none" stroke="#0e0e0e" stroke-width="3.4"/>
<path d="M1080.2 1047.8 C1081.7 1046.1 1085.7 1041 1089.2 1037.8 C1092.6 1034.7 1098.2 1030.2 1101.1 1028.9 C1104 1027.6 1105.4 1028.9 1106.6 1029.9 C1107.7 1030.9 1109.1 1032.7 1107.9 1034.9 C1106.6 1037 1102.2 1040.5 1099.1 1042.8 C1096 1045.2 1091.8 1046.7 1089.2 1049 C1086.5 1051.3 1084.2 1055.5 1083.2 1056.8" fill="none" stroke="#2f7fd0" stroke-width="1.8"/>
<path d="M1066.3 1077.6 C1065.8 1076.2 1067 1067.7 1067.3 1065.7 C1067.6 1063.7 1068.5 1059.5 1069.2 1057.8 C1070 1056 1074 1048.8 1075.2 1047.8 C1076.4 1046.8 1080.4 1047.4 1081.2 1047.8 C1082 1048.2 1083.4 1050.4 1083.2 1051.8 C1083 1053.2 1080 1059.7 1079.2 1061.7 C1078.4 1063.7 1075.9 1069.9 1075.2 1071.7 C1074.5 1073.5 1073.1 1079 1072.2 1079.6 C1071.3 1080.2 1066.8 1079 1066.3 1077.6Z" fill="#2f7fd0" stroke="#0e0e0e" stroke-width="1.1"/>
<path d="M1083.2 1051.8 C1083.3 1052.8 1084.8 1055.4 1084.2 1057.8 C1083.5 1060.1 1080.7 1063 1079.2 1065.7 C1077.7 1068.4 1075.9 1072.3 1075.2 1073.7" fill="none" stroke="#0e0e0e" stroke-width="1.6"/>
<path d="M1073.2 1078.6 L1083.2 1077.6 L1092.1 1081.6 L1093.1 1089.6 L1085.2 1095.5 L1077.2 1091.6 L1075.2 1085.6Z" fill="#12263c" stroke="#0e0e0e" stroke-width="1" stroke-linejoin="round"/>
<path d="M1075.2 1079.6 L1081.2 1081.6 L1080.2 1085.6 L1076.2 1084.6Z" fill="#2f7fd0"/>
<path d="M360.1 1057.3 C362.3 1058.5 369.1 1062.1 373.3 1064.4 C377.5 1066.7 381.6 1069.4 385.2 1071 C388.8 1072.6 392 1073.3 394.8 1074 C397.6 1074.7 399.6 1074.2 401.9 1075.2 C404.3 1076.2 406.5 1077.6 409.1 1080 C411.7 1082.3 414.7 1086.7 417.5 1089.5 C420.2 1092.3 424.4 1095.5 425.8 1096.7" fill="none" stroke="#1a2630" stroke-width="2.6" stroke-linecap="round" stroke-linejoin="round"/>
<path d="M360.1 1057.3 C362.3 1058.5 369.1 1062.1 373.3 1064.4 C377.5 1066.7 381.6 1069.4 385.2 1071 C388.8 1072.6 392 1073.3 394.8 1074 C397.6 1074.7 399.6 1074.2 401.9 1075.2 C404.3 1076.2 406.5 1077.6 409.1 1080 C411.7 1082.3 414.7 1086.7 417.5 1089.5 C420.2 1092.3 424.4 1095.5 425.8 1096.7" fill="none" stroke="#a8d4ee" stroke-width="0.9000000000000001" stroke-linecap="round" stroke-linejoin="round"/>
<path d="M411.7 1076.7 C414.7 1079.8 424.4 1089.8 430 1095.1 C435.6 1100.3 441.7 1104.2 445 1108.4 C448.3 1112.6 450.3 1116.5 450 1120.1 C449.7 1123.7 446.7 1127.7 443.3 1130.1 C440 1132.5 433.6 1134.1 430 1134.4 C426.4 1134.7 422.8 1134.4 421.7 1131.8 C420.6 1129.1 422.2 1122.6 423.3 1118.4 C424.4 1114.2 427.5 1108.7 428.3 1106.7" fill="none" stroke="#1a2630" stroke-width="2.6" stroke-linecap="round" stroke-linejoin="round"/>
<path d="M411.7 1076.7 C414.7 1079.8 424.4 1089.8 430 1095.1 C435.6 1100.3 441.7 1104.2 445 1108.4 C448.3 1112.6 450.3 1116.5 450 1120.1 C449.7 1123.7 446.7 1127.7 443.3 1130.1 C440 1132.5 433.6 1134.1 430 1134.4 C426.4 1134.7 422.8 1134.4 421.7 1131.8 C420.6 1129.1 422.2 1122.6 423.3 1118.4 C424.4 1114.2 427.5 1108.7 428.3 1106.7" fill="none" stroke="#a8d4ee" stroke-width="0.9000000000000001" stroke-linecap="round" stroke-linejoin="round"/>
<path d="M396 1069.2 L399.6 1066.8 L411.5 1071.6 L410.9 1075.2 L406.7 1076.4 L397.2 1072.8Z" fill="#20303e" stroke="#0e0e0e" stroke-width="0.9" stroke-linejoin="round"/>
<ellipse cx="399.6" cy="1069.2" rx="3" ry="1.8" transform="rotate(20 399.6 1069.2)" fill="#8fd0f4" stroke="#0e0e0e" stroke-width="0.7"/>
<circle cx="426.7" cy="1106.7" r="2.6" fill="#20303e" stroke="#0e0e0e" stroke-width="0.7"/>
<g id="leaders" class="ld">
<line x1="707.8" y1="185.5" x2="707.8" y2="256.7"/>
<line x1="931" y1="280" x2="931" y2="359.5"/>
<line x1="1248.3" y1="266.7" x2="1306.7" y2="295.7"/>
<line x1="674" y1="272.6" x2="728.2" y2="301"/>
<line x1="592.3" y1="388.4" x2="648" y2="416.3"/>
<line x1="723" y1="267" x2="740" y2="273.5"/>
<line x1="672.4" y1="306" x2="691" y2="313.5"/>
<line x1="1174" y1="508" x2="1218.3" y2="486"/>
<line x1="1126" y1="505" x2="1160" y2="509"/>
<line x1="439.3" y1="455.6" x2="439.6" y2="523"/>
<line x1="261.7" y1="668.7" x2="308.3" y2="692"/>
<line x1="482.3" y1="726.3" x2="441.7" y2="743.7"/>
<line x1="575" y1="750.3" x2="518.3" y2="778"/>
<line x1="233.3" y1="904.7" x2="276" y2="927"/>
<line x1="1118.3" y1="524.7" x2="1155" y2="539"/>
<line x1="1177.7" y1="553" x2="1205" y2="563.7"/>
<line x1="1083.3" y1="631.3" x2="1115" y2="645.3"/>
<line x1="1143.3" y1="657.3" x2="1209.3" y2="685.7"/>
<line x1="1061.7" y1="671.3" x2="1085" y2="681.3"/>
<line x1="1056" y1="689.7" x2="1078.3" y2="700.3"/>
<line x1="1088.3" y1="706.3" x2="1118.3" y2="722.3"/>
<line x1="861" y1="758" x2="861" y2="839.7"/>
<line x1="994" y1="873" x2="994" y2="946.3"/>
<line x1="1119" y1="789.7" x2="1120" y2="863.7"/>
<line x1="1181.7" y1="821.3" x2="1181.7" y2="893"/>
<line x1="747.3" y1="859.7" x2="707.3" y2="878.7"/>
<line x1="830" y1="950.7" x2="871" y2="969"/>
<line x1="1088.3" y1="760.3" x2="1118.3" y2="774.7"/>
<line x1="1146.7" y1="789" x2="1176.7" y2="804"/>
<line x1="1195" y1="811.3" x2="1225" y2="828"/>
<line x1="1351" y1="493.5" x2="1351" y2="569.7"/>
<line x1="1466.7" y1="545.3" x2="1466.7" y2="614.7"/>
<line x1="1856" y1="527.3" x2="1909" y2="555.3"/>
<line x1="1542.3" y1="789.7" x2="1577.3" y2="763"/>
<line x1="1595" y1="766.3" x2="1623.3" y2="779"/>
<line x1="1650" y1="729" x2="1676.7" y2="742.3"/>
<line x1="1681.7" y1="784.7" x2="1738.3" y2="813"/>
<line x1="1509.3" y1="903" x2="1566.7" y2="931.3"/>
<line x1="1391.7" y1="165" x2="1445" y2="191"/>
<line x1="1819" y1="377.7" x2="1870" y2="404.3"/>
<line x1="101.7" y1="1043.3" x2="163.3" y2="1075.7"/>
<line x1="560" y1="1304.3" x2="616.7" y2="1330"/>
<line x1="400" y1="1386" x2="441.7" y2="1366.7"/>
<line x1="691.7" y1="1133.3" x2="722.7" y2="1149.3"/>
<line x1="935" y1="1097.3" x2="966" y2="1071.7"/>
</g>
<g id="labels" class="lb" opacity="0.999">
<text transform="translate(709.4 179.4) scale(1.04 1)" x="0" y="0">64</text>
<text transform="translate(653.6 273.3) scale(1.04 1)" x="0" y="0">10</text>
<text transform="translate(936.2 273.4) scale(1.04 1)" x="0" y="0">1</text>
<text transform="translate(576.8 394.4) scale(1.04 1)" x="0" y="0">4</text>
<text transform="translate(440.4 448.4) scale(1.04 1)" x="0" y="0">6</text>
<text transform="translate(1472.4 214.1) scale(1.04 1)" x="0" y="0">11</text>
<text transform="translate(1334.7 322.4) scale(1.04 1)" x="0" y="0">12</text>
<text transform="translate(1802 379.1) scale(1.04 1)" x="0" y="0">11</text>
<text transform="translate(1246 486.8) scale(1.04 1)" x="0" y="0">62</text>
<text transform="translate(1356.4 485.8) scale(1.04 1)" x="0" y="0">1</text>
<text transform="translate(1469 538.1) scale(1.04 1)" x="0" y="0">60</text>
<text transform="translate(1835.5 529.8) scale(1.04 1)" x="0" y="0">12</text>
<text transform="translate(248.2 675.5) scale(1.04 1)" x="0" y="0">3</text>
<text transform="translate(500.2 732.1) scale(1.04 1)" x="0" y="0">7</text>
<text transform="translate(602.5 751.1) scale(1.04 1)" x="0" y="0">13</text>
<text transform="translate(1236.9 710.5) scale(1.04 1)" x="0" y="0">63</text>
<text transform="translate(1145.5 747.1) scale(1.04 1)" x="0" y="0">61</text>
<text transform="translate(863.2 873.1) scale(1.04 1)" x="0" y="0">17</text>
<text transform="translate(764.4 866.5) scale(1.04 1)" x="0" y="0">8</text>
<text transform="translate(997.2 866.5) scale(1.04 1)" x="0" y="0">17</text>
<text transform="translate(1124.5 897.8) scale(1.04 1)" x="0" y="0">14</text>
<text transform="translate(1183.9 925.5) scale(1.04 1)" x="0" y="0">5</text>
<text transform="translate(220.2 910.5) scale(1.04 1)" x="0" y="0">2</text>
<text transform="translate(1519.4 823.1) scale(1.04 1)" x="0" y="0">64</text>
<text transform="translate(1765.9 838.8) scale(1.04 1)" x="0" y="0">10</text>
<text transform="translate(1584 952.1) scale(1.04 1)" x="0" y="0">4</text>
<text transform="translate(888 988.8) scale(1.04 1)" x="0" y="0">3</text>
<text transform="translate(86.9 1048.1) scale(1.04 1)" x="0" y="0">9</text>
<text transform="translate(740.2 1171.5) scale(1.04 1)" x="0" y="0">2</text>
<text transform="translate(915.2 1130.8) scale(1.04 1)" x="0" y="0">16</text>
<text transform="translate(633.5 1350.8) scale(1.04 1)" x="0" y="0">9</text>
<text transform="translate(379.9 1411.8) scale(1.04 1)" x="0" y="0">15</text>
<text transform="translate(1321 1059.1) scale(1.04 1)" x="0" y="0">60</text>
<text transform="translate(1571.9 1062.5) scale(1.04 1)" x="0" y="0">61</text>
<text transform="translate(1810 1062.5) scale(1.04 1)" x="0" y="0">62</text>
<text transform="translate(1324.4 1304.8) scale(1.04 1)" x="0" y="0">63</text>
<text transform="translate(1575.2 1310.1) scale(1.04 1)" x="0" y="0">64</text>
<text transform="translate(1810 1300.8) scale(1.04 1)" x="0" y="0">70</text>
</g>
</svg></body></html>
